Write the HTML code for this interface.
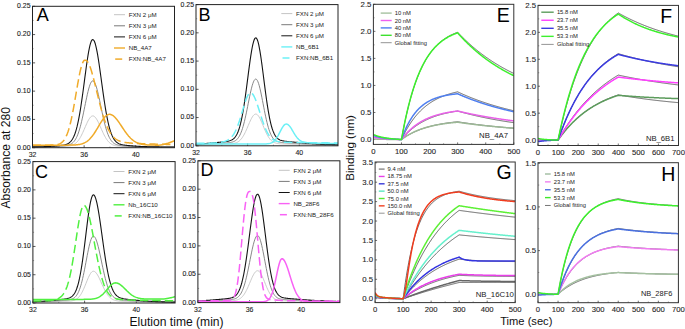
<!DOCTYPE html>
<html><head><meta charset="utf-8"><style>
html,body{margin:0;padding:0;background:#fff;width:685px;height:329px;overflow:hidden}
svg{display:block;font-family:"Liberation Sans",sans-serif}
</style></head><body>
<svg width="685" height="329" viewBox="0 0 685 329" font-family="Liberation Sans, sans-serif"><line x1="32.5" y1="147.7" x2="35.1" y2="147.7" stroke="#333" stroke-width="0.8"/>
<text x="30.5" y="149.6" font-size="6.9" text-anchor="end" fill="#222" stroke="#222" stroke-width="0.12">0.00</text>
<line x1="32.5" y1="119.42" x2="35.1" y2="119.42" stroke="#333" stroke-width="0.8"/>
<text x="30.5" y="121.32" font-size="6.9" text-anchor="end" fill="#222" stroke="#222" stroke-width="0.12">0.05</text>
<line x1="32.5" y1="91.14" x2="35.1" y2="91.14" stroke="#333" stroke-width="0.8"/>
<text x="30.5" y="93.04" font-size="6.9" text-anchor="end" fill="#222" stroke="#222" stroke-width="0.12">0.10</text>
<line x1="32.5" y1="62.86" x2="35.1" y2="62.86" stroke="#333" stroke-width="0.8"/>
<text x="30.5" y="64.76" font-size="6.9" text-anchor="end" fill="#222" stroke="#222" stroke-width="0.12">0.15</text>
<line x1="32.5" y1="34.58" x2="35.1" y2="34.58" stroke="#333" stroke-width="0.8"/>
<text x="30.5" y="36.48" font-size="6.9" text-anchor="end" fill="#222" stroke="#222" stroke-width="0.12">0.20</text>
<line x1="32.5" y1="6.3" x2="35.1" y2="6.3" stroke="#333" stroke-width="0.8"/>
<text x="30.5" y="8.2" font-size="6.9" text-anchor="end" fill="#222" stroke="#222" stroke-width="0.12">0.25</text>
<line x1="32.5" y1="133.56" x2="33.7" y2="133.56" stroke="#555" stroke-width="0.5"/>
<line x1="32.5" y1="105.28" x2="33.7" y2="105.28" stroke="#555" stroke-width="0.5"/>
<line x1="32.5" y1="77" x2="33.7" y2="77" stroke="#555" stroke-width="0.5"/>
<line x1="32.5" y1="48.72" x2="33.7" y2="48.72" stroke="#555" stroke-width="0.5"/>
<line x1="32.5" y1="20.44" x2="33.7" y2="20.44" stroke="#555" stroke-width="0.5"/>
<line x1="32.5" y1="147.7" x2="32.5" y2="145.3" stroke="#333" stroke-width="0.8"/>
<text x="32.5" y="156.7" font-size="6.9" text-anchor="middle" fill="#2a2a2a" stroke="#222" stroke-width="0.12">32</text>
<line x1="84.14" y1="147.7" x2="84.14" y2="145.3" stroke="#333" stroke-width="0.8"/>
<text x="84.14" y="156.7" font-size="6.9" text-anchor="middle" fill="#2a2a2a" stroke="#222" stroke-width="0.12">36</text>
<line x1="135.77" y1="147.7" x2="135.77" y2="145.3" stroke="#333" stroke-width="0.8"/>
<text x="135.77" y="156.7" font-size="6.9" text-anchor="middle" fill="#2a2a2a" stroke="#222" stroke-width="0.12">40</text>
<line x1="58.32" y1="147.7" x2="58.32" y2="146.5" stroke="#555" stroke-width="0.5"/>
<line x1="109.95" y1="147.7" x2="109.95" y2="146.5" stroke="#555" stroke-width="0.5"/>
<line x1="161.59" y1="147.7" x2="161.59" y2="146.5" stroke="#555" stroke-width="0.5"/>
<clipPath id="cA"><rect x="32.5" y="6.3" width="142" height="141.4"/></clipPath>
<g clip-path="url(#cA)">
<path d="M32.5,146.99 L33.15,146.99 L33.79,146.99 L34.44,146.98 L35.08,146.98 L35.73,146.98 L36.37,146.98 L37.02,146.97 L37.66,146.97 L38.31,146.96 L38.95,146.96 L39.6,146.96 L40.25,146.95 L40.89,146.95 L41.54,146.94 L42.18,146.93 L42.83,146.93 L43.47,146.92 L44.12,146.91 L44.76,146.91 L45.41,146.9 L46.05,146.89 L46.7,146.88 L47.35,146.88 L47.99,146.87 L48.64,146.86 L49.28,146.85 L49.93,146.84 L50.57,146.83 L51.22,146.81 L51.86,146.8 L52.51,146.79 L53.15,146.78 L53.8,146.76 L54.45,146.75 L55.09,146.74 L55.74,146.72 L56.38,146.71 L57.03,146.69 L57.67,146.67 L58.32,146.66 L58.96,146.64 L59.61,146.62 L60.25,146.6 L60.9,146.58 L61.55,146.56 L62.19,146.53 L62.84,146.51 L63.48,146.48 L64.13,146.45 L64.77,146.42 L65.42,146.38 L66.06,146.33 L66.71,146.28 L67.35,146.22 L68,146.15 L68.65,146.07 L69.29,145.97 L69.94,145.85 L70.58,145.71 L71.23,145.54 L71.87,145.34 L72.52,145.11 L73.16,144.84 L73.81,144.52 L74.45,144.14 L75.1,143.71 L75.75,143.21 L76.39,142.64 L77.04,142 L77.68,141.27 L78.33,140.46 L78.97,139.56 L79.62,138.58 L80.26,137.5 L80.91,136.34 L81.55,135.1 L82.2,133.79 L82.85,132.41 L83.49,130.98 L84.14,129.51 L84.78,128.02 L85.43,126.52 L86.07,125.05 L86.72,123.61 L87.36,122.24 L88.01,120.95 L88.65,119.76 L89.3,118.71 L89.95,117.8 L90.59,117.05 L91.24,116.49 L91.88,116.11 L92.53,115.93 L93.17,115.95 L93.82,116.16 L94.46,116.57 L95.11,117.15 L95.75,117.91 L96.4,118.83 L97.05,119.88 L97.69,121.06 L98.34,122.34 L98.98,123.7 L99.63,125.11 L100.27,126.57 L100.92,128.04 L101.56,129.5 L102.21,130.95 L102.85,132.36 L103.5,133.72 L104.15,135.02 L104.79,136.24 L105.44,137.39 L106.08,138.45 L106.73,139.43 L107.37,140.32 L108.02,141.13 L108.66,141.86 L109.31,142.5 L109.95,143.07 L110.6,143.57 L111.25,144.01 L111.89,144.39 L112.54,144.72 L113.18,144.99 L113.83,145.23 L114.47,145.43 L115.12,145.6 L115.76,145.75 L116.41,145.87 L117.05,145.97 L117.7,146.06 L118.35,146.13 L118.99,146.19 L119.64,146.24 L120.28,146.29 L120.93,146.33 L121.57,146.36 L122.22,146.4 L122.86,146.42 L123.51,146.45 L124.15,146.47 L124.8,146.49 L125.45,146.52 L126.09,146.54 L126.74,146.55 L127.38,146.57 L128.03,146.59 L128.67,146.61 L129.32,146.62 L129.96,146.64 L130.61,146.66 L131.25,146.67 L131.9,146.69 L132.55,146.7 L133.19,146.71 L133.84,146.73 L134.48,146.74 L135.13,146.75 L135.77,146.77 L136.42,146.78 L137.06,146.79 L137.71,146.8 L138.35,146.81 L139,146.82 L139.65,146.83 L140.29,146.84 L140.94,146.85 L141.58,146.86 L142.23,146.87 L142.87,146.88 L143.52,146.88 L144.16,146.89 L144.81,146.9 L145.45,146.91 L146.1,146.91 L146.75,146.92 L147.39,146.92 L148.04,146.93 L148.68,146.94 L149.33,146.94 L149.97,146.95 L150.62,146.95 L151.26,146.96 L151.91,146.96 L152.55,146.96 L153.2,146.97 L153.85,146.97 L154.49,146.97 L155.14,146.98 L155.78,146.98 L156.43,146.98 L157.07,146.99 L157.72,146.99 L158.36,146.99 L159.01,146.99 L159.65,146.99 L160.3,147 L160.95,147 L161.59,147 L162.24,147 L162.88,147 L163.53,147 L164.17,147.01 L164.82,147.01 L165.46,147.01 L166.11,147.01 L166.75,147.01 L167.4,147.01 L168.05,147.01 L168.69,147.01 L169.34,147.01 L169.98,147.01 L170.63,147.01 L171.27,147.01 L171.92,147.02 L172.56,147.02 L173.21,147.02 L173.85,147.02 L174.5,147.02" fill="none" stroke="#c4c4c4" stroke-width="0.9"/>
<path d="M32.5,146.96 L33.15,146.96 L33.79,146.95 L34.44,146.94 L35.08,146.94 L35.73,146.93 L36.37,146.92 L37.02,146.92 L37.66,146.91 L38.31,146.9 L38.95,146.89 L39.6,146.88 L40.25,146.87 L40.89,146.86 L41.54,146.85 L42.18,146.84 L42.83,146.82 L43.47,146.81 L44.12,146.79 L44.76,146.78 L45.41,146.76 L46.05,146.75 L46.7,146.73 L47.35,146.71 L47.99,146.69 L48.64,146.67 L49.28,146.65 L49.93,146.63 L50.57,146.61 L51.22,146.58 L51.86,146.56 L52.51,146.53 L53.15,146.5 L53.8,146.47 L54.45,146.45 L55.09,146.42 L55.74,146.38 L56.38,146.35 L57.03,146.32 L57.67,146.28 L58.32,146.25 L58.96,146.21 L59.61,146.17 L60.25,146.13 L60.9,146.08 L61.55,146.04 L62.19,145.99 L62.84,145.93 L63.48,145.87 L64.13,145.81 L64.77,145.73 L65.42,145.65 L66.06,145.56 L66.71,145.45 L67.35,145.32 L68,145.17 L68.65,144.99 L69.29,144.78 L69.94,144.53 L70.58,144.23 L71.23,143.87 L71.87,143.45 L72.52,142.96 L73.16,142.37 L73.81,141.69 L74.45,140.89 L75.1,139.97 L75.75,138.91 L76.39,137.7 L77.04,136.33 L77.68,134.79 L78.33,133.06 L78.97,131.15 L79.62,129.06 L80.26,126.77 L80.91,124.3 L81.55,121.66 L82.2,118.87 L82.85,115.93 L83.49,112.89 L84.14,109.76 L84.78,106.59 L85.43,103.42 L86.07,100.28 L86.72,97.22 L87.36,94.3 L88.01,91.56 L88.65,89.04 L89.3,86.79 L89.95,84.86 L90.59,83.27 L91.24,82.07 L91.88,81.26 L92.53,80.88 L93.17,80.92 L93.82,81.38 L94.46,82.24 L95.11,83.48 L95.75,85.1 L96.4,87.04 L97.05,89.29 L97.69,91.79 L98.34,94.51 L98.98,97.4 L99.63,100.42 L100.27,103.51 L100.92,106.64 L101.56,109.76 L102.21,112.84 L102.85,115.83 L103.5,118.73 L104.15,121.48 L104.79,124.09 L105.44,126.53 L106.08,128.79 L106.73,130.88 L107.37,132.78 L108.02,134.49 L108.66,136.04 L109.31,137.41 L109.95,138.62 L110.6,139.69 L111.25,140.62 L111.89,141.42 L112.54,142.12 L113.18,142.71 L113.83,143.22 L114.47,143.65 L115.12,144.01 L115.76,144.31 L116.41,144.57 L117.05,144.79 L117.7,144.97 L118.35,145.13 L118.99,145.26 L119.64,145.37 L120.28,145.47 L120.93,145.55 L121.57,145.62 L122.22,145.69 L122.86,145.75 L123.51,145.8 L124.15,145.85 L124.8,145.9 L125.45,145.95 L126.09,145.99 L126.74,146.03 L127.38,146.07 L128.03,146.11 L128.67,146.14 L129.32,146.18 L129.96,146.21 L130.61,146.24 L131.25,146.28 L131.9,146.31 L132.55,146.34 L133.19,146.37 L133.84,146.4 L134.48,146.43 L135.13,146.45 L135.77,146.48 L136.42,146.5 L137.06,146.53 L137.71,146.55 L138.35,146.58 L139,146.6 L139.65,146.62 L140.29,146.64 L140.94,146.66 L141.58,146.68 L142.23,146.7 L142.87,146.71 L143.52,146.73 L144.16,146.75 L144.81,146.76 L145.45,146.78 L146.1,146.79 L146.75,146.8 L147.39,146.82 L148.04,146.83 L148.68,146.84 L149.33,146.85 L149.97,146.86 L150.62,146.87 L151.26,146.88 L151.91,146.89 L152.55,146.9 L153.2,146.91 L153.85,146.91 L154.49,146.92 L155.14,146.93 L155.78,146.93 L156.43,146.94 L157.07,146.94 L157.72,146.95 L158.36,146.96 L159.01,146.96 L159.65,146.96 L160.3,146.97 L160.95,146.97 L161.59,146.98 L162.24,146.98 L162.88,146.98 L163.53,146.99 L164.17,146.99 L164.82,146.99 L165.46,146.99 L166.11,147 L166.75,147 L167.4,147 L168.05,147 L168.69,147 L169.34,147 L169.98,147.01 L170.63,147.01 L171.27,147.01 L171.92,147.01 L172.56,147.01 L173.21,147.01 L173.85,147.01 L174.5,147.01" fill="none" stroke="#7a7a7a" stroke-width="0.9"/>
<path d="M32.5,146.92 L33.15,146.91 L33.79,146.91 L34.44,146.9 L35.08,146.89 L35.73,146.87 L36.37,146.86 L37.02,146.85 L37.66,146.84 L38.31,146.82 L38.95,146.81 L39.6,146.79 L40.25,146.78 L40.89,146.76 L41.54,146.74 L42.18,146.72 L42.83,146.7 L43.47,146.68 L44.12,146.65 L44.76,146.63 L45.41,146.6 L46.05,146.58 L46.7,146.55 L47.35,146.52 L47.99,146.49 L48.64,146.45 L49.28,146.42 L49.93,146.38 L50.57,146.35 L51.22,146.31 L51.86,146.27 L52.51,146.22 L53.15,146.18 L53.8,146.13 L54.45,146.08 L55.09,146.03 L55.74,145.98 L56.38,145.93 L57.03,145.87 L57.67,145.81 L58.32,145.75 L58.96,145.68 L59.61,145.62 L60.25,145.54 L60.9,145.46 L61.55,145.37 L62.19,145.28 L62.84,145.17 L63.48,145.06 L64.13,144.92 L64.77,144.77 L65.42,144.6 L66.06,144.39 L66.71,144.16 L67.35,143.88 L68,143.56 L68.65,143.17 L69.29,142.72 L69.94,142.19 L70.58,141.56 L71.23,140.83 L71.87,139.98 L72.52,138.98 L73.16,137.83 L73.81,136.5 L74.45,134.99 L75.1,133.26 L75.75,131.3 L76.39,129.1 L77.04,126.65 L77.68,123.93 L78.33,120.93 L78.97,117.66 L79.62,114.12 L80.26,110.31 L80.91,106.25 L81.55,101.95 L82.2,97.45 L82.85,92.78 L83.49,87.98 L84.14,83.1 L84.78,78.19 L85.43,73.32 L86.07,68.53 L86.72,63.91 L87.36,59.51 L88.01,55.4 L88.65,51.65 L89.3,48.32 L89.95,45.46 L90.59,43.12 L91.24,41.35 L91.88,40.17 L92.53,39.61 L93.17,39.66 L93.82,40.3 L94.46,41.51 L95.11,43.27 L95.75,45.56 L96.4,48.33 L97.05,51.53 L97.69,55.13 L98.34,59.07 L98.98,63.28 L99.63,67.71 L100.27,72.3 L100.92,76.99 L101.56,81.72 L102.21,86.44 L102.85,91.1 L103.5,95.65 L104.15,100.06 L104.79,104.29 L105.44,108.31 L106.08,112.11 L106.73,115.66 L107.37,118.96 L108.02,122.01 L108.66,124.8 L109.31,127.33 L109.95,129.62 L110.6,131.68 L111.25,133.51 L111.89,135.13 L112.54,136.56 L113.18,137.82 L113.83,138.91 L114.47,139.86 L115.12,140.68 L115.76,141.38 L116.41,141.99 L117.05,142.5 L117.7,142.95 L118.35,143.32 L118.99,143.64 L119.64,143.92 L120.28,144.15 L120.93,144.35 L121.57,144.53 L122.22,144.68 L122.86,144.82 L123.51,144.93 L124.15,145.04 L124.8,145.14 L125.45,145.22 L126.09,145.3 L126.74,145.38 L127.38,145.45 L128.03,145.52 L128.67,145.58 L129.32,145.64 L129.96,145.7 L130.61,145.76 L131.25,145.81 L131.9,145.86 L132.55,145.91 L133.19,145.96 L133.84,146.01 L134.48,146.05 L135.13,146.1 L135.77,146.14 L136.42,146.18 L137.06,146.22 L137.71,146.26 L138.35,146.3 L139,146.33 L139.65,146.37 L140.29,146.4 L140.94,146.43 L141.58,146.46 L142.23,146.49 L142.87,146.52 L143.52,146.55 L144.16,146.57 L144.81,146.6 L145.45,146.62 L146.1,146.65 L146.75,146.67 L147.39,146.69 L148.04,146.71 L148.68,146.73 L149.33,146.74 L149.97,146.76 L150.62,146.78 L151.26,146.79 L151.91,146.81 L152.55,146.82 L153.2,146.83 L153.85,146.85 L154.49,146.86 L155.14,146.87 L155.78,146.88 L156.43,146.89 L157.07,146.9 L157.72,146.91 L158.36,146.91 L159.01,146.92 L159.65,146.93 L160.3,146.94 L160.95,146.94 L161.59,146.95 L162.24,146.95 L162.88,146.96 L163.53,146.96 L164.17,146.97 L164.82,146.97 L165.46,146.98 L166.11,146.98 L166.75,146.98 L167.4,146.99 L168.05,146.99 L168.69,146.99 L169.34,146.99 L169.98,147 L170.63,147 L171.27,147 L171.92,147 L172.56,147 L173.21,147 L173.85,147.01 L174.5,147.01" fill="none" stroke="#141414" stroke-width="1.1"/>
<path d="M32.5,145.15 L33.15,145.15 L33.79,145.15 L34.44,145.15 L35.08,145.15 L35.73,145.15 L36.37,145.15 L37.02,145.15 L37.66,145.15 L38.31,145.15 L38.95,145.15 L39.6,145.15 L40.25,145.15 L40.89,145.15 L41.54,145.15 L42.18,145.15 L42.83,145.15 L43.47,145.15 L44.12,145.15 L44.76,145.15 L45.41,145.15 L46.05,145.15 L46.7,145.15 L47.35,145.15 L47.99,145.15 L48.64,145.15 L49.28,145.15 L49.93,145.15 L50.57,145.15 L51.22,145.15 L51.86,145.15 L52.51,145.15 L53.15,145.15 L53.8,145.15 L54.45,145.15 L55.09,145.15 L55.74,145.15 L56.38,145.15 L57.03,145.15 L57.67,145.15 L58.32,145.15 L58.96,145.15 L59.61,145.15 L60.25,145.15 L60.9,145.15 L61.55,145.15 L62.19,145.15 L62.84,145.15 L63.48,145.15 L64.13,145.15 L64.77,145.15 L65.42,145.14 L66.06,145.14 L66.71,145.14 L67.35,145.14 L68,145.13 L68.65,145.12 L69.29,145.12 L69.94,145.11 L70.58,145.1 L71.23,145.08 L71.87,145.07 L72.52,145.05 L73.16,145.02 L73.81,145 L74.45,144.96 L75.1,144.92 L75.75,144.88 L76.39,144.82 L77.04,144.76 L77.68,144.69 L78.33,144.6 L78.97,144.5 L79.62,144.39 L80.26,144.26 L80.91,144.11 L81.55,143.93 L82.2,143.74 L82.85,143.52 L83.49,143.27 L84.14,143 L84.78,142.69 L85.43,142.34 L86.07,141.96 L86.72,141.54 L87.36,141.08 L88.01,140.58 L88.65,140.03 L89.3,139.43 L89.95,138.79 L90.59,138.1 L91.24,137.37 L91.88,136.58 L92.53,135.75 L93.17,134.88 L93.82,133.96 L94.46,133.01 L95.11,132.01 L95.75,130.99 L96.4,129.94 L97.05,128.86 L97.69,127.78 L98.34,126.68 L98.98,125.58 L99.63,124.49 L100.27,123.41 L100.92,122.35 L101.56,121.33 L102.21,120.34 L102.85,119.41 L103.5,118.53 L104.15,117.71 L104.79,116.97 L105.44,116.31 L106.08,115.74 L106.73,115.26 L107.37,114.87 L108.02,114.59 L108.66,114.41 L109.31,114.33 L109.95,114.36 L110.6,114.47 L111.25,114.66 L111.89,114.94 L112.54,115.3 L113.18,115.73 L113.83,116.24 L114.47,116.82 L115.12,117.46 L115.76,118.17 L116.41,118.93 L117.05,119.74 L117.7,120.59 L118.35,121.48 L118.99,122.4 L119.64,123.34 L120.28,124.3 L120.93,125.28 L121.57,126.26 L122.22,127.25 L122.86,128.22 L123.51,129.19 L124.15,130.15 L124.8,131.09 L125.45,132 L126.09,132.89 L126.74,133.76 L127.38,134.59 L128.03,135.38 L128.67,136.14 L129.32,136.87 L129.96,137.56 L130.61,138.21 L131.25,138.82 L131.9,139.39 L132.55,139.93 L133.19,140.43 L133.84,140.89 L134.48,141.32 L135.13,141.72 L135.77,142.08 L136.42,142.41 L137.06,142.72 L137.71,142.99 L138.35,143.24 L139,143.47 L139.65,143.67 L140.29,143.85 L140.94,144.02 L141.58,144.16 L142.23,144.29 L142.87,144.41 L143.52,144.51 L144.16,144.6 L144.81,144.67 L145.45,144.74 L146.1,144.8 L146.75,144.85 L147.39,144.9 L148.04,144.94 L148.68,144.97 L149.33,145 L149.97,145.02 L150.62,145.05 L151.26,145.06 L151.91,145.08 L152.55,145.09 L153.2,145.1 L153.85,145.11 L154.49,145.12 L155.14,145.13 L155.78,145.13 L156.43,145.13 L157.07,145.14 L157.72,145.14 L158.36,145.14 L159.01,145.15 L159.65,145.11 L160.3,145.04 L160.95,144.95 L161.59,144.85 L162.24,144.73 L162.88,144.59 L163.53,144.45 L164.17,144.29 L164.82,144.13 L165.46,143.95 L166.11,143.77 L166.75,143.58 L167.4,143.38 L168.05,143.17 L168.69,142.95 L169.34,142.73 L169.98,142.5 L170.63,142.26 L171.27,142.01 L171.92,141.76 L172.56,141.5 L173.21,141.24 L173.85,140.97 L174.5,140.69" fill="none" stroke="#f0ab2a" stroke-width="1.5"/>
<path d="M32.5,145.15 L33.15,145.15 L33.79,145.15 L34.44,145.15 L35.08,145.15 L35.73,145.15 L36.37,145.15 L37.02,145.15 L37.66,145.15 L38.31,145.15 L38.95,145.15 L39.6,145.15 L40.25,145.15 L40.89,145.15 L41.54,145.15 L42.18,145.15 L42.83,145.15 L43.47,145.15 L44.12,145.15 L44.76,145.15 L45.41,145.15 L46.05,145.15 L46.7,145.15 L47.35,145.15 L47.99,145.14 L48.64,145.14 L49.28,145.13 L49.93,145.13 L50.57,145.12 L51.22,145.1 L51.86,145.09 L52.51,145.06 L53.15,145.04 L53.8,145 L54.45,144.95 L55.09,144.9 L55.74,144.82 L56.38,144.73 L57.03,144.62 L57.67,144.47 L58.32,144.3 L58.96,144.09 L59.61,143.83 L60.25,143.52 L60.9,143.14 L61.55,142.7 L62.19,142.17 L62.84,141.55 L63.48,140.82 L64.13,139.98 L64.77,139 L65.42,137.89 L66.06,136.61 L66.71,135.17 L67.35,133.55 L68,131.74 L68.65,129.74 L69.29,127.53 L69.94,125.12 L70.58,122.5 L71.23,119.67 L71.87,116.66 L72.52,113.46 L73.16,110.09 L73.81,106.58 L74.45,102.95 L75.1,99.23 L75.75,95.45 L76.39,91.65 L77.04,87.88 L77.68,84.17 L78.33,80.58 L78.97,77.15 L79.62,73.92 L80.26,70.94 L80.91,68.25 L81.55,65.9 L82.2,63.92 L82.85,62.34 L83.49,61.19 L84.14,60.48 L84.78,60.18 L85.43,60.14 L86.07,60.34 L86.72,60.78 L87.36,61.45 L88.01,62.37 L88.65,63.51 L89.3,64.88 L89.95,66.46 L90.59,68.24 L91.24,70.3 L91.88,72.49 L92.53,74.8 L93.17,77.2 L93.82,79.68 L94.46,82.23 L95.11,84.83 L95.75,87.46 L96.4,90.12 L97.05,92.77 L97.69,95.42 L98.34,98.05 L98.98,100.63 L99.63,103.17 L100.27,105.66 L100.92,108.08 L101.56,110.42 L102.21,112.68 L102.85,114.85 L103.5,116.94 L104.15,118.92 L104.79,120.81 L105.44,122.6 L106.08,124.29 L106.73,125.87 L107.37,127.36 L108.02,128.75 L108.66,130.05 L109.31,131.25 L109.95,132.36 L110.6,133.39 L111.25,134.33 L111.89,135.2 L112.54,135.99 L113.18,136.72 L113.83,137.38 L114.47,137.97 L115.12,138.52 L115.76,139.01 L116.41,139.45 L117.05,139.85 L117.7,140.21 L118.35,140.53 L118.99,140.82 L119.64,141.08 L120.28,141.31 L120.93,141.52 L121.57,141.7 L122.22,141.87 L122.86,142.02 L123.51,142.16 L124.15,142.28 L124.8,142.39 L125.45,142.49 L126.09,142.58 L126.74,142.66 L127.38,142.73 L128.03,142.8 L128.67,142.87 L129.32,142.93 L129.96,142.98 L130.61,143.03 L131.25,143.08 L131.9,143.13 L132.55,143.17 L133.19,143.21 L133.84,143.25 L134.48,143.29 L135.13,143.32 L135.77,143.36 L136.42,143.39 L137.06,143.43 L137.71,143.46 L138.35,143.49 L139,143.52 L139.65,143.55 L140.29,143.58 L140.94,143.61 L141.58,143.64 L142.23,143.66 L142.87,143.69 L143.52,143.72 L144.16,143.74 L144.81,143.77 L145.45,143.79 L146.1,143.82 L146.75,143.84 L147.39,143.86 L148.04,143.89 L148.68,143.91 L149.33,143.93 L149.97,143.95 L150.62,143.97 L151.26,143.99 L151.91,144.01 L152.55,144.03 L153.2,144.05 L153.85,144.07 L154.49,144.09 L155.14,144.11 L155.78,144.13 L156.43,144.15 L157.07,144.17 L157.72,144.18 L158.36,144.2 L159.01,144.22 L159.65,144.23 L160.3,144.25 L160.95,144.27 L161.59,144.28 L162.24,144.3 L162.88,144.31 L163.53,144.33 L164.17,144.34 L164.82,144.36 L165.46,144.37 L166.11,144.38 L166.75,144.4 L167.4,144.41 L168.05,144.42 L168.69,144.44 L169.34,144.45 L169.98,144.46 L170.63,144.48 L171.27,144.49 L171.92,144.5 L172.56,144.51 L173.21,144.52 L173.85,144.53 L174.5,144.54" fill="none" stroke="#f0ab2a" stroke-width="1.5" stroke-dasharray="8.5,4"/>
</g>
<rect x="32.5" y="6.3" width="142" height="141.4" fill="none" stroke="#222" stroke-width="1.0"/>
<text x="36.8" y="20.6" font-size="18.0" text-anchor="start" fill="#000">A</text>
<line x1="114" y1="14.7" x2="125" y2="14.7" stroke="#c4c4c4" stroke-width="1.0"/>
<text x="128.7" y="16.9" font-size="6.2" text-anchor="start" fill="#222">FXN 2 μM</text>
<line x1="114" y1="25.8" x2="125" y2="25.8" stroke="#7a7a7a" stroke-width="1.0"/>
<text x="128.7" y="28" font-size="6.2" text-anchor="start" fill="#222">FXN 3 μM</text>
<line x1="114" y1="36.9" x2="125" y2="36.9" stroke="#141414" stroke-width="1.0"/>
<text x="128.7" y="39.1" font-size="6.2" text-anchor="start" fill="#222">FXN 6 μM</text>
<line x1="114" y1="48" x2="125" y2="48" stroke="#f0ab2a" stroke-width="1.4"/>
<text x="128.7" y="50.2" font-size="6.2" text-anchor="start" fill="#222">NB_4A7</text>
<line x1="115.2" y1="59.1" x2="122.2" y2="59.1" stroke="#f0ab2a" stroke-width="1.5"/>
<text x="128.7" y="61.3" font-size="6.2" text-anchor="start" fill="#222">FXN:NB_4A7</text>
<line x1="196" y1="145.8" x2="198.6" y2="145.8" stroke="#333" stroke-width="0.8"/>
<text x="194" y="147.7" font-size="6.9" text-anchor="end" fill="#222" stroke="#222" stroke-width="0.12">0.00</text>
<line x1="196" y1="117.56" x2="198.6" y2="117.56" stroke="#333" stroke-width="0.8"/>
<text x="194" y="119.46" font-size="6.9" text-anchor="end" fill="#222" stroke="#222" stroke-width="0.12">0.05</text>
<line x1="196" y1="89.32" x2="198.6" y2="89.32" stroke="#333" stroke-width="0.8"/>
<text x="194" y="91.22" font-size="6.9" text-anchor="end" fill="#222" stroke="#222" stroke-width="0.12">0.10</text>
<line x1="196" y1="61.08" x2="198.6" y2="61.08" stroke="#333" stroke-width="0.8"/>
<text x="194" y="62.98" font-size="6.9" text-anchor="end" fill="#222" stroke="#222" stroke-width="0.12">0.15</text>
<line x1="196" y1="32.84" x2="198.6" y2="32.84" stroke="#333" stroke-width="0.8"/>
<text x="194" y="34.74" font-size="6.9" text-anchor="end" fill="#222" stroke="#222" stroke-width="0.12">0.20</text>
<line x1="196" y1="4.6" x2="198.6" y2="4.6" stroke="#333" stroke-width="0.8"/>
<text x="194" y="6.5" font-size="6.9" text-anchor="end" fill="#222" stroke="#222" stroke-width="0.12">0.25</text>
<line x1="196" y1="131.68" x2="197.2" y2="131.68" stroke="#555" stroke-width="0.5"/>
<line x1="196" y1="103.44" x2="197.2" y2="103.44" stroke="#555" stroke-width="0.5"/>
<line x1="196" y1="75.2" x2="197.2" y2="75.2" stroke="#555" stroke-width="0.5"/>
<line x1="196" y1="46.96" x2="197.2" y2="46.96" stroke="#555" stroke-width="0.5"/>
<line x1="196" y1="18.72" x2="197.2" y2="18.72" stroke="#555" stroke-width="0.5"/>
<line x1="196" y1="145.8" x2="196" y2="143.4" stroke="#333" stroke-width="0.8"/>
<text x="196" y="154.8" font-size="6.9" text-anchor="middle" fill="#2a2a2a" stroke="#222" stroke-width="0.12">32</text>
<line x1="247.64" y1="145.8" x2="247.64" y2="143.4" stroke="#333" stroke-width="0.8"/>
<text x="247.64" y="154.8" font-size="6.9" text-anchor="middle" fill="#2a2a2a" stroke="#222" stroke-width="0.12">36</text>
<line x1="299.27" y1="145.8" x2="299.27" y2="143.4" stroke="#333" stroke-width="0.8"/>
<text x="299.27" y="154.8" font-size="6.9" text-anchor="middle" fill="#2a2a2a" stroke="#222" stroke-width="0.12">40</text>
<line x1="221.82" y1="145.8" x2="221.82" y2="144.6" stroke="#555" stroke-width="0.5"/>
<line x1="273.45" y1="145.8" x2="273.45" y2="144.6" stroke="#555" stroke-width="0.5"/>
<line x1="325.09" y1="145.8" x2="325.09" y2="144.6" stroke="#555" stroke-width="0.5"/>
<clipPath id="cB"><rect x="196" y="4.6" width="142" height="141.2"/></clipPath>
<g clip-path="url(#cB)">
<path d="M196,144.84 L196.65,144.83 L197.29,144.82 L197.94,144.81 L198.58,144.8 L199.23,144.79 L199.87,144.78 L200.52,144.76 L201.16,144.75 L201.81,144.74 L202.45,144.73 L203.1,144.71 L203.75,144.7 L204.39,144.68 L205.04,144.67 L205.68,144.66 L206.33,144.64 L206.97,144.63 L207.62,144.61 L208.26,144.6 L208.91,144.58 L209.55,144.57 L210.2,144.55 L210.85,144.53 L211.49,144.52 L212.14,144.5 L212.78,144.48 L213.43,144.47 L214.07,144.45 L214.72,144.43 L215.36,144.41 L216.01,144.4 L216.65,144.38 L217.3,144.36 L217.95,144.34 L218.59,144.32 L219.24,144.3 L219.88,144.28 L220.53,144.27 L221.17,144.25 L221.82,144.23 L222.46,144.21 L223.11,144.19 L223.75,144.17 L224.4,144.15 L225.05,144.13 L225.69,144.1 L226.34,144.08 L226.98,144.06 L227.63,144.03 L228.27,144 L228.92,143.97 L229.56,143.93 L230.21,143.88 L230.85,143.83 L231.5,143.77 L232.15,143.7 L232.79,143.61 L233.44,143.51 L234.08,143.38 L234.73,143.23 L235.37,143.04 L236.02,142.83 L236.66,142.57 L237.31,142.26 L237.95,141.9 L238.6,141.47 L239.25,140.98 L239.89,140.42 L240.54,139.77 L241.18,139.04 L241.83,138.22 L242.47,137.31 L243.12,136.3 L243.76,135.2 L244.41,134.01 L245.05,132.73 L245.7,131.37 L246.35,129.95 L246.99,128.48 L247.64,126.97 L248.28,125.45 L248.93,123.92 L249.57,122.43 L250.22,120.99 L250.86,119.63 L251.51,118.36 L252.15,117.22 L252.8,116.23 L253.45,115.41 L254.09,114.77 L254.74,114.33 L255.38,114.1 L256.03,114.08 L256.67,114.28 L257.32,114.71 L257.96,115.35 L258.61,116.19 L259.25,117.21 L259.9,118.38 L260.55,119.69 L261.19,121.11 L261.84,122.61 L262.48,124.16 L263.13,125.73 L263.77,127.3 L264.42,128.86 L265.06,130.36 L265.71,131.81 L266.35,133.18 L267,134.47 L267.65,135.66 L268.29,136.76 L268.94,137.75 L269.58,138.64 L270.23,139.44 L270.87,140.14 L271.52,140.75 L272.16,141.28 L272.81,141.73 L273.45,142.12 L274.1,142.45 L274.75,142.73 L275.39,142.96 L276.04,143.15 L276.68,143.3 L277.33,143.43 L277.97,143.54 L278.62,143.63 L279.26,143.7 L279.91,143.76 L280.55,143.81 L281.2,143.85 L281.85,143.88 L282.49,143.91 L283.14,143.94 L283.78,143.96 L284.43,143.99 L285.07,144.01 L285.72,144.03 L286.36,144.05 L287.01,144.06 L287.65,144.08 L288.3,144.1 L288.95,144.12 L289.59,144.13 L290.24,144.15 L290.88,144.17 L291.53,144.19 L292.17,144.2 L292.82,144.22 L293.46,144.24 L294.11,144.26 L294.75,144.27 L295.4,144.29 L296.05,144.31 L296.69,144.32 L297.34,144.34 L297.98,144.36 L298.63,144.37 L299.27,144.39 L299.92,144.41 L300.56,144.42 L301.21,144.44 L301.85,144.45 L302.5,144.47 L303.15,144.48 L303.79,144.5 L304.44,144.52 L305.08,144.53 L305.73,144.55 L306.37,144.56 L307.02,144.57 L307.66,144.59 L308.31,144.6 L308.95,144.62 L309.6,144.63 L310.25,144.64 L310.89,144.66 L311.54,144.67 L312.18,144.68 L312.83,144.7 L313.47,144.71 L314.12,144.72 L314.76,144.73 L315.41,144.74 L316.05,144.75 L316.7,144.77 L317.35,144.78 L317.99,144.79 L318.64,144.8 L319.28,144.81 L319.93,144.82 L320.57,144.83 L321.22,144.84 L321.86,144.85 L322.51,144.86 L323.15,144.87 L323.8,144.87 L324.45,144.88 L325.09,144.89 L325.74,144.9 L326.38,144.91 L327.03,144.92 L327.67,144.92 L328.32,144.93 L328.96,144.94 L329.61,144.94 L330.25,144.95 L330.9,144.96 L331.55,144.96 L332.19,144.97 L332.84,144.98 L333.48,144.98 L334.13,144.99 L334.77,144.99 L335.42,145 L336.06,145 L336.71,145.01 L337.35,145.01 L338,145.02" fill="none" stroke="#c4c4c4" stroke-width="0.9"/>
<path d="M196,144.53 L196.65,144.51 L197.29,144.48 L197.94,144.46 L198.58,144.43 L199.23,144.41 L199.87,144.38 L200.52,144.36 L201.16,144.33 L201.81,144.31 L202.45,144.28 L203.1,144.25 L203.75,144.22 L204.39,144.19 L205.04,144.16 L205.68,144.13 L206.33,144.1 L206.97,144.07 L207.62,144.04 L208.26,144 L208.91,143.97 L209.55,143.94 L210.2,143.9 L210.85,143.87 L211.49,143.83 L212.14,143.8 L212.78,143.76 L213.43,143.73 L214.07,143.69 L214.72,143.65 L215.36,143.61 L216.01,143.58 L216.65,143.54 L217.3,143.5 L217.95,143.46 L218.59,143.42 L219.24,143.38 L219.88,143.34 L220.53,143.3 L221.17,143.26 L221.82,143.22 L222.46,143.18 L223.11,143.14 L223.75,143.09 L224.4,143.05 L225.05,143 L225.69,142.96 L226.34,142.91 L226.98,142.85 L227.63,142.8 L228.27,142.73 L228.92,142.66 L229.56,142.58 L230.21,142.49 L230.85,142.38 L231.5,142.25 L232.15,142.09 L232.79,141.91 L233.44,141.68 L234.08,141.42 L234.73,141.09 L235.37,140.7 L236.02,140.24 L236.66,139.69 L237.31,139.03 L237.95,138.26 L238.6,137.36 L239.25,136.32 L239.89,135.12 L240.54,133.74 L241.18,132.19 L241.83,130.44 L242.47,128.5 L243.12,126.35 L243.76,124.01 L244.41,121.47 L245.05,118.76 L245.7,115.87 L246.35,112.85 L246.99,109.72 L247.64,106.51 L248.28,103.26 L248.93,100.03 L249.57,96.85 L250.22,93.79 L250.86,90.88 L251.51,88.2 L252.15,85.77 L252.8,83.67 L253.45,81.92 L254.09,80.56 L254.74,79.62 L255.38,79.12 L256.03,79.08 L256.67,79.51 L257.32,80.42 L257.96,81.79 L258.61,83.57 L259.25,85.74 L259.9,88.24 L260.55,91.03 L261.19,94.04 L261.84,97.23 L262.48,100.52 L263.13,103.87 L263.77,107.22 L264.42,110.52 L265.06,113.73 L265.71,116.81 L266.35,119.73 L267,122.46 L267.65,125 L268.29,127.33 L268.94,129.44 L269.58,131.34 L270.23,133.03 L270.87,134.52 L271.52,135.82 L272.16,136.95 L272.81,137.91 L273.45,138.74 L274.1,139.44 L274.75,140.02 L275.39,140.51 L276.04,140.92 L276.68,141.25 L277.33,141.53 L277.97,141.75 L278.62,141.94 L279.26,142.09 L279.91,142.22 L280.55,142.32 L281.2,142.41 L281.85,142.48 L282.49,142.55 L283.14,142.61 L283.78,142.66 L284.43,142.71 L285.07,142.75 L285.72,142.79 L286.36,142.83 L287.01,142.87 L287.65,142.91 L288.3,142.95 L288.95,142.98 L289.59,143.02 L290.24,143.06 L290.88,143.1 L291.53,143.13 L292.17,143.17 L292.82,143.21 L293.46,143.24 L294.11,143.28 L294.75,143.31 L295.4,143.35 L296.05,143.39 L296.69,143.42 L297.34,143.46 L297.98,143.49 L298.63,143.53 L299.27,143.56 L299.92,143.6 L300.56,143.63 L301.21,143.67 L301.85,143.7 L302.5,143.73 L303.15,143.77 L303.79,143.8 L304.44,143.83 L305.08,143.86 L305.73,143.89 L306.37,143.93 L307.02,143.96 L307.66,143.99 L308.31,144.02 L308.95,144.05 L309.6,144.08 L310.25,144.1 L310.89,144.13 L311.54,144.16 L312.18,144.19 L312.83,144.21 L313.47,144.24 L314.12,144.27 L314.76,144.29 L315.41,144.32 L316.05,144.34 L316.7,144.36 L317.35,144.39 L317.99,144.41 L318.64,144.43 L319.28,144.46 L319.93,144.48 L320.57,144.5 L321.22,144.52 L321.86,144.54 L322.51,144.56 L323.15,144.58 L323.8,144.6 L324.45,144.61 L325.09,144.63 L325.74,144.65 L326.38,144.67 L327.03,144.68 L327.67,144.7 L328.32,144.71 L328.96,144.73 L329.61,144.74 L330.25,144.76 L330.9,144.77 L331.55,144.78 L332.19,144.8 L332.84,144.81 L333.48,144.82 L334.13,144.83 L334.77,144.84 L335.42,144.86 L336.06,144.87 L336.71,144.88 L337.35,144.89 L338,144.9" fill="none" stroke="#7a7a7a" stroke-width="0.9"/>
<path d="M196,144.16 L196.65,144.12 L197.29,144.08 L197.94,144.05 L198.58,144.01 L199.23,143.97 L199.87,143.92 L200.52,143.88 L201.16,143.84 L201.81,143.8 L202.45,143.75 L203.1,143.71 L203.75,143.66 L204.39,143.61 L205.04,143.56 L205.68,143.51 L206.33,143.46 L206.97,143.41 L207.62,143.36 L208.26,143.31 L208.91,143.25 L209.55,143.2 L210.2,143.14 L210.85,143.09 L211.49,143.03 L212.14,142.97 L212.78,142.91 L213.43,142.85 L214.07,142.79 L214.72,142.73 L215.36,142.67 L216.01,142.61 L216.65,142.55 L217.3,142.48 L217.95,142.42 L218.59,142.36 L219.24,142.29 L219.88,142.23 L220.53,142.16 L221.17,142.09 L221.82,142.02 L222.46,141.95 L223.11,141.88 L223.75,141.81 L224.4,141.73 L225.05,141.65 L225.69,141.56 L226.34,141.46 L226.98,141.36 L227.63,141.24 L228.27,141.11 L228.92,140.96 L229.56,140.79 L230.21,140.58 L230.85,140.34 L231.5,140.05 L232.15,139.71 L232.79,139.31 L233.44,138.83 L234.08,138.26 L234.73,137.58 L235.37,136.78 L236.02,135.83 L236.66,134.73 L237.31,133.45 L237.95,131.97 L238.6,130.27 L239.25,128.34 L239.89,126.15 L240.54,123.68 L241.18,120.94 L241.83,117.91 L242.47,114.58 L243.12,110.96 L243.76,107.05 L244.41,102.88 L245.05,98.47 L245.7,93.84 L246.35,89.04 L246.99,84.11 L247.64,79.12 L248.28,74.11 L248.93,69.16 L249.57,64.33 L250.22,59.7 L250.86,55.34 L251.51,51.33 L252.15,47.74 L252.8,44.62 L253.45,42.03 L254.09,40.04 L254.74,38.66 L255.38,37.93 L256.03,37.86 L256.67,38.48 L257.32,39.76 L257.96,41.68 L258.61,44.21 L259.25,47.29 L259.9,50.87 L260.55,54.89 L261.19,59.26 L261.84,63.93 L262.48,68.8 L263.13,73.8 L263.77,78.87 L264.42,83.93 L265.06,88.91 L265.71,93.77 L266.35,98.45 L267,102.91 L267.65,107.12 L268.29,111.05 L268.94,114.7 L269.58,118.04 L270.23,121.08 L270.87,123.83 L271.52,126.28 L272.16,128.46 L272.81,130.38 L273.45,132.06 L274.1,133.52 L274.75,134.78 L275.39,135.85 L276.04,136.77 L276.68,137.54 L277.33,138.2 L277.97,138.75 L278.62,139.21 L279.26,139.59 L279.91,139.91 L280.55,140.17 L281.2,140.4 L281.85,140.59 L282.49,140.75 L283.14,140.88 L283.78,141 L284.43,141.11 L285.07,141.2 L285.72,141.29 L286.36,141.36 L287.01,141.44 L287.65,141.51 L288.3,141.58 L288.95,141.64 L289.59,141.7 L290.24,141.77 L290.88,141.83 L291.53,141.89 L292.17,141.95 L292.82,142.01 L293.46,142.07 L294.11,142.13 L294.75,142.19 L295.4,142.24 L296.05,142.3 L296.69,142.36 L297.34,142.42 L297.98,142.48 L298.63,142.53 L299.27,142.59 L299.92,142.65 L300.56,142.7 L301.21,142.76 L301.85,142.81 L302.5,142.87 L303.15,142.92 L303.79,142.97 L304.44,143.03 L305.08,143.08 L305.73,143.13 L306.37,143.18 L307.02,143.23 L307.66,143.28 L308.31,143.33 L308.95,143.38 L309.6,143.42 L310.25,143.47 L310.89,143.51 L311.54,143.56 L312.18,143.6 L312.83,143.65 L313.47,143.69 L314.12,143.73 L314.76,143.77 L315.41,143.81 L316.05,143.85 L316.7,143.89 L317.35,143.93 L317.99,143.97 L318.64,144 L319.28,144.04 L319.93,144.07 L320.57,144.11 L321.22,144.14 L321.86,144.17 L322.51,144.21 L323.15,144.24 L323.8,144.27 L324.45,144.3 L325.09,144.32 L325.74,144.35 L326.38,144.38 L327.03,144.41 L327.67,144.43 L328.32,144.46 L328.96,144.48 L329.61,144.51 L330.25,144.53 L330.9,144.55 L331.55,144.57 L332.19,144.59 L332.84,144.61 L333.48,144.63 L334.13,144.65 L334.77,144.67 L335.42,144.69 L336.06,144.71 L336.71,144.72 L337.35,144.74 L338,144.76" fill="none" stroke="#141414" stroke-width="1.1"/>
<path d="M196,143.99 L196.65,143.99 L197.29,143.99 L197.94,143.99 L198.58,143.99 L199.23,143.99 L199.87,143.99 L200.52,143.99 L201.16,143.99 L201.81,143.99 L202.45,143.99 L203.1,143.99 L203.75,143.99 L204.39,143.99 L205.04,143.99 L205.68,143.99 L206.33,143.99 L206.97,143.99 L207.62,143.99 L208.26,143.99 L208.91,143.99 L209.55,143.99 L210.2,143.99 L210.85,143.99 L211.49,143.99 L212.14,143.99 L212.78,143.99 L213.43,143.99 L214.07,143.99 L214.72,143.99 L215.36,143.99 L216.01,143.99 L216.65,143.99 L217.3,143.99 L217.95,143.99 L218.59,143.99 L219.24,143.99 L219.88,143.99 L220.53,143.99 L221.17,143.99 L221.82,143.99 L222.46,143.99 L223.11,143.99 L223.75,143.99 L224.4,143.99 L225.05,143.99 L225.69,143.99 L226.34,143.99 L226.98,143.99 L227.63,143.99 L228.27,143.99 L228.92,143.99 L229.56,143.99 L230.21,143.99 L230.85,143.99 L231.5,143.99 L232.15,143.99 L232.79,143.99 L233.44,143.99 L234.08,143.99 L234.73,143.99 L235.37,143.99 L236.02,143.99 L236.66,143.99 L237.31,143.99 L237.95,143.99 L238.6,143.99 L239.25,143.99 L239.89,143.99 L240.54,143.99 L241.18,143.99 L241.83,143.99 L242.47,143.99 L243.12,143.99 L243.76,143.99 L244.41,143.99 L245.05,143.99 L245.7,143.99 L246.35,143.99 L246.99,143.99 L247.64,143.99 L248.28,143.99 L248.93,143.99 L249.57,143.99 L250.22,143.99 L250.86,143.99 L251.51,143.99 L252.15,143.99 L252.8,143.99 L253.45,143.99 L254.09,143.99 L254.74,143.99 L255.38,143.99 L256.03,143.99 L256.67,143.99 L257.32,143.99 L257.96,143.99 L258.61,143.99 L259.25,143.99 L259.9,143.99 L260.55,143.99 L261.19,143.99 L261.84,143.99 L262.48,143.98 L263.13,143.98 L263.77,143.97 L264.42,143.96 L265.06,143.94 L265.71,143.92 L266.35,143.89 L267,143.84 L267.65,143.79 L268.29,143.71 L268.94,143.61 L269.58,143.48 L270.23,143.32 L270.87,143.11 L271.52,142.85 L272.16,142.52 L272.81,142.14 L273.45,141.67 L274.1,141.12 L274.75,140.47 L275.39,139.74 L276.04,138.9 L276.68,137.97 L277.33,136.94 L277.97,135.84 L278.62,134.66 L279.26,133.43 L279.91,132.18 L280.55,130.91 L281.2,129.68 L281.85,128.49 L282.49,127.39 L283.14,126.41 L283.78,125.57 L284.43,124.9 L285.07,124.42 L285.72,124.13 L286.36,124.05 L287.01,124.14 L287.65,124.4 L288.3,124.83 L288.95,125.41 L289.59,126.12 L290.24,126.95 L290.88,127.89 L291.53,128.9 L292.17,130.01 L292.82,131.14 L293.46,132.25 L294.11,133.34 L294.75,134.39 L295.4,135.38 L296.05,136.31 L296.69,137.16 L297.34,137.95 L297.98,138.65 L298.63,139.28 L299.27,139.83 L299.92,140.32 L300.56,140.74 L301.21,141.1 L301.85,141.41 L302.5,141.67 L303.15,141.89 L303.79,142.07 L304.44,142.23 L305.08,142.35 L305.73,142.46 L306.37,142.55 L307.02,142.63 L307.66,142.69 L308.31,142.75 L308.95,142.79 L309.6,142.84 L310.25,142.87 L310.89,142.91 L311.54,142.94 L312.18,142.97 L312.83,143 L313.47,143.02 L314.12,143.05 L314.76,143.07 L315.41,143.1 L316.05,143.12 L316.7,143.14 L317.35,143.16 L317.99,143.18 L318.64,143.2 L319.28,143.22 L319.93,143.24 L320.57,143.26 L321.22,143.28 L321.86,143.29 L322.51,143.31 L323.15,143.33 L323.8,143.35 L324.45,143.36 L325.09,143.38 L325.74,143.39 L326.38,143.41 L327.03,143.42 L327.67,143.44 L328.32,143.45 L328.96,143.46 L329.61,143.48 L330.25,143.49 L330.9,143.5 L331.55,143.51 L332.19,143.52 L332.84,143.54 L333.48,143.55 L334.13,143.56 L334.77,143.57 L335.42,143.58 L336.06,143.59 L336.71,143.6 L337.35,143.61 L338,143.62" fill="none" stroke="#6cf0f6" stroke-width="1.5"/>
<path d="M196,143.25 L196.65,143.25 L197.29,143.25 L197.94,143.25 L198.58,143.25 L199.23,143.25 L199.87,143.25 L200.52,143.25 L201.16,143.25 L201.81,143.24 L202.45,143.24 L203.1,143.24 L203.75,143.23 L204.39,143.23 L205.04,143.23 L205.68,143.22 L206.33,143.21 L206.97,143.21 L207.62,143.2 L208.26,143.19 L208.91,143.18 L209.55,143.16 L210.2,143.15 L210.85,143.13 L211.49,143.11 L212.14,143.09 L212.78,143.06 L213.43,143.03 L214.07,143 L214.72,142.96 L215.36,142.92 L216.01,142.88 L216.65,142.82 L217.3,142.76 L217.95,142.7 L218.59,142.62 L219.24,142.54 L219.88,142.45 L220.53,142.35 L221.17,142.24 L221.82,142.11 L222.46,141.97 L223.11,141.82 L223.75,141.64 L224.4,141.45 L225.05,141.24 L225.69,141 L226.34,140.73 L226.98,140.43 L227.63,140.1 L228.27,139.73 L228.92,139.31 L229.56,138.84 L230.21,138.31 L230.85,137.72 L231.5,137.06 L232.15,136.32 L232.79,135.5 L233.44,134.59 L234.08,133.57 L234.73,132.46 L235.37,131.23 L236.02,129.89 L236.66,128.43 L237.31,126.86 L237.95,125.17 L238.6,123.37 L239.25,121.46 L239.89,119.46 L240.54,117.39 L241.18,115.24 L241.83,113.05 L242.47,110.84 L243.12,108.64 L243.76,106.46 L244.41,104.35 L245.05,102.32 L245.7,100.42 L246.35,98.68 L246.99,97.11 L247.64,95.76 L248.28,94.64 L248.93,93.78 L249.57,93.2 L250.22,92.89 L250.86,92.88 L251.51,93.14 L252.15,93.62 L252.8,94.34 L253.45,95.26 L254.09,96.39 L254.74,97.7 L255.38,99.19 L256.03,100.82 L256.67,102.58 L257.32,104.45 L257.96,106.4 L258.61,108.41 L259.25,110.47 L259.9,112.53 L260.55,114.6 L261.19,116.66 L261.84,118.69 L262.48,120.65 L263.13,122.55 L263.77,124.36 L264.42,126.08 L265.06,127.7 L265.71,129.22 L266.35,130.63 L267,131.94 L267.65,133.13 L268.29,134.23 L268.94,135.22 L269.58,136.12 L270.23,136.92 L270.87,137.64 L271.52,138.27 L272.16,138.83 L272.81,139.33 L273.45,139.76 L274.1,140.13 L274.75,140.46 L275.39,140.74 L276.04,140.98 L276.68,141.18 L277.33,141.36 L277.97,141.51 L278.62,141.63 L279.26,141.74 L279.91,141.83 L280.55,141.91 L281.2,141.98 L281.85,142.04 L282.49,142.08 L283.14,142.13 L283.78,142.16 L284.43,142.19 L285.07,142.22 L285.72,142.25 L286.36,142.27 L287.01,142.29 L287.65,142.31 L288.3,142.33 L288.95,142.34 L289.59,142.36 L290.24,142.37 L290.88,142.39 L291.53,142.4 L292.17,142.41 L292.82,142.43 L293.46,142.44 L294.11,142.45 L294.75,142.46 L295.4,142.47 L296.05,142.49 L296.69,142.5 L297.34,142.51 L297.98,142.52 L298.63,142.53 L299.27,142.54 L299.92,142.55 L300.56,142.56 L301.21,142.57 L301.85,142.58 L302.5,142.59 L303.15,142.6 L303.79,142.61 L304.44,142.62 L305.08,142.63 L305.73,142.64 L306.37,142.64 L307.02,142.65 L307.66,142.66 L308.31,142.67 L308.95,142.68 L309.6,142.69 L310.25,142.69 L310.89,142.7 L311.54,142.71 L312.18,142.72 L312.83,142.73 L313.47,142.73 L314.12,142.74 L314.76,142.75 L315.41,142.76 L316.05,142.76 L316.7,142.77 L317.35,142.78 L317.99,142.78 L318.64,142.79 L319.28,142.8 L319.93,142.8 L320.57,142.81 L321.22,142.82 L321.86,142.82 L322.51,142.83 L323.15,142.83 L323.8,142.84 L324.45,142.85 L325.09,142.85 L325.74,142.86 L326.38,142.86 L327.03,142.87 L327.67,142.87 L328.32,142.88 L328.96,142.89 L329.61,142.89 L330.25,142.9 L330.9,142.9 L331.55,142.91 L332.19,142.91 L332.84,142.92 L333.48,142.92 L334.13,142.93 L334.77,142.93 L335.42,142.94 L336.06,142.94 L336.71,142.94 L337.35,142.95 L338,142.95" fill="none" stroke="#6cf0f6" stroke-width="1.5" stroke-dasharray="8.5,4"/>
</g>
<rect x="196" y="4.6" width="142" height="141.2" fill="none" stroke="#222" stroke-width="1.0"/>
<text x="198.6" y="20.8" font-size="18.0" text-anchor="start" fill="#000">B</text>
<line x1="281.3" y1="13.6" x2="292.3" y2="13.6" stroke="#c4c4c4" stroke-width="1.0"/>
<text x="296" y="15.8" font-size="6.2" text-anchor="start" fill="#222">FXN 2 μM</text>
<line x1="281.3" y1="24.7" x2="292.3" y2="24.7" stroke="#7a7a7a" stroke-width="1.0"/>
<text x="296" y="26.9" font-size="6.2" text-anchor="start" fill="#222">FXN 3 μM</text>
<line x1="281.3" y1="35.8" x2="292.3" y2="35.8" stroke="#141414" stroke-width="1.0"/>
<text x="296" y="38" font-size="6.2" text-anchor="start" fill="#222">FXN 6 μM</text>
<line x1="281.3" y1="46.9" x2="292.3" y2="46.9" stroke="#6cf0f6" stroke-width="1.4"/>
<text x="296" y="49.1" font-size="6.2" text-anchor="start" fill="#222">NB_6B1</text>
<line x1="282.5" y1="58" x2="289.5" y2="58" stroke="#6cf0f6" stroke-width="1.5"/>
<text x="296" y="60.2" font-size="6.2" text-anchor="start" fill="#222">FXN:NB_6B1</text>
<line x1="32.9" y1="303" x2="35.5" y2="303" stroke="#333" stroke-width="0.8"/>
<text x="30.9" y="304.9" font-size="6.9" text-anchor="end" fill="#222" stroke="#222" stroke-width="0.12">0.00</text>
<line x1="32.9" y1="274.72" x2="35.5" y2="274.72" stroke="#333" stroke-width="0.8"/>
<text x="30.9" y="276.62" font-size="6.9" text-anchor="end" fill="#222" stroke="#222" stroke-width="0.12">0.05</text>
<line x1="32.9" y1="246.44" x2="35.5" y2="246.44" stroke="#333" stroke-width="0.8"/>
<text x="30.9" y="248.34" font-size="6.9" text-anchor="end" fill="#222" stroke="#222" stroke-width="0.12">0.10</text>
<line x1="32.9" y1="218.16" x2="35.5" y2="218.16" stroke="#333" stroke-width="0.8"/>
<text x="30.9" y="220.06" font-size="6.9" text-anchor="end" fill="#222" stroke="#222" stroke-width="0.12">0.15</text>
<line x1="32.9" y1="189.88" x2="35.5" y2="189.88" stroke="#333" stroke-width="0.8"/>
<text x="30.9" y="191.78" font-size="6.9" text-anchor="end" fill="#222" stroke="#222" stroke-width="0.12">0.20</text>
<line x1="32.9" y1="161.6" x2="35.5" y2="161.6" stroke="#333" stroke-width="0.8"/>
<text x="30.9" y="163.5" font-size="6.9" text-anchor="end" fill="#222" stroke="#222" stroke-width="0.12">0.25</text>
<line x1="32.9" y1="288.86" x2="34.1" y2="288.86" stroke="#555" stroke-width="0.5"/>
<line x1="32.9" y1="260.58" x2="34.1" y2="260.58" stroke="#555" stroke-width="0.5"/>
<line x1="32.9" y1="232.3" x2="34.1" y2="232.3" stroke="#555" stroke-width="0.5"/>
<line x1="32.9" y1="204.02" x2="34.1" y2="204.02" stroke="#555" stroke-width="0.5"/>
<line x1="32.9" y1="175.74" x2="34.1" y2="175.74" stroke="#555" stroke-width="0.5"/>
<line x1="32.9" y1="303" x2="32.9" y2="300.6" stroke="#333" stroke-width="0.8"/>
<text x="32.9" y="312" font-size="6.9" text-anchor="middle" fill="#2a2a2a" stroke="#222" stroke-width="0.12">32</text>
<line x1="84.61" y1="303" x2="84.61" y2="300.6" stroke="#333" stroke-width="0.8"/>
<text x="84.61" y="312" font-size="6.9" text-anchor="middle" fill="#2a2a2a" stroke="#222" stroke-width="0.12">36</text>
<line x1="136.32" y1="303" x2="136.32" y2="300.6" stroke="#333" stroke-width="0.8"/>
<text x="136.32" y="312" font-size="6.9" text-anchor="middle" fill="#2a2a2a" stroke="#222" stroke-width="0.12">40</text>
<line x1="58.75" y1="303" x2="58.75" y2="301.8" stroke="#555" stroke-width="0.5"/>
<line x1="110.46" y1="303" x2="110.46" y2="301.8" stroke="#555" stroke-width="0.5"/>
<line x1="162.17" y1="303" x2="162.17" y2="301.8" stroke="#555" stroke-width="0.5"/>
<clipPath id="cC"><rect x="32.9" y="161.6" width="142.2" height="141.4"/></clipPath>
<g clip-path="url(#cC)">
<path d="M32.9,302.16 L33.55,302.15 L34.19,302.14 L34.84,302.13 L35.49,302.13 L36.13,302.12 L36.78,302.11 L37.42,302.1 L38.07,302.09 L38.72,302.08 L39.36,302.07 L40.01,302.05 L40.66,302.04 L41.3,302.03 L41.95,302.02 L42.6,302.01 L43.24,301.99 L43.89,301.98 L44.53,301.97 L45.18,301.95 L45.83,301.94 L46.47,301.92 L47.12,301.91 L47.77,301.89 L48.41,301.88 L49.06,301.86 L49.71,301.84 L50.35,301.83 L51,301.81 L51.64,301.79 L52.29,301.77 L52.94,301.76 L53.58,301.74 L54.23,301.72 L54.88,301.7 L55.52,301.68 L56.17,301.66 L56.82,301.64 L57.46,301.62 L58.11,301.6 L58.75,301.58 L59.4,301.56 L60.05,301.54 L60.69,301.52 L61.34,301.5 L61.99,301.47 L62.63,301.45 L63.28,301.43 L63.93,301.41 L64.57,301.38 L65.22,301.35 L65.86,301.33 L66.51,301.3 L67.16,301.27 L67.8,301.23 L68.45,301.19 L69.1,301.14 L69.74,301.08 L70.39,301.02 L71.04,300.94 L71.68,300.84 L72.33,300.72 L72.97,300.58 L73.62,300.41 L74.27,300.2 L74.91,299.95 L75.56,299.65 L76.21,299.29 L76.85,298.87 L77.5,298.38 L78.15,297.8 L78.79,297.14 L79.44,296.39 L80.08,295.53 L80.73,294.57 L81.38,293.51 L82.02,292.34 L82.67,291.08 L83.32,289.72 L83.96,288.27 L84.61,286.76 L85.26,285.19 L85.9,283.58 L86.55,281.97 L87.19,280.38 L87.84,278.82 L88.49,277.34 L89.13,275.96 L89.78,274.72 L90.43,273.62 L91.07,272.71 L91.72,272.01 L92.37,271.52 L93.01,271.26 L93.66,271.23 L94.3,271.4 L94.95,271.77 L95.6,272.31 L96.24,273.03 L96.89,273.91 L97.54,274.93 L98.18,276.07 L98.83,277.32 L99.48,278.65 L100.12,280.04 L100.77,281.48 L101.41,282.93 L102.06,284.38 L102.71,285.82 L103.35,287.22 L104,288.57 L104.65,289.87 L105.29,291.09 L105.94,292.24 L106.59,293.31 L107.23,294.29 L107.88,295.18 L108.52,295.99 L109.17,296.72 L109.82,297.37 L110.46,297.95 L111.11,298.45 L111.76,298.89 L112.4,299.27 L113.05,299.6 L113.7,299.88 L114.34,300.12 L114.99,300.32 L115.63,300.49 L116.28,300.64 L116.93,300.76 L117.57,300.86 L118.22,300.95 L118.87,301.02 L119.51,301.08 L120.16,301.13 L120.81,301.18 L121.45,301.22 L122.1,301.25 L122.74,301.28 L123.39,301.31 L124.04,301.34 L124.68,301.36 L125.33,301.39 L125.98,301.41 L126.62,301.43 L127.27,301.45 L127.92,301.47 L128.56,301.49 L129.21,301.51 L129.85,301.53 L130.5,301.55 L131.15,301.57 L131.79,301.59 L132.44,301.61 L133.09,301.63 L133.73,301.64 L134.38,301.66 L135.03,301.68 L135.67,301.7 L136.32,301.71 L136.96,301.73 L137.61,301.75 L138.26,301.76 L138.9,301.78 L139.55,301.8 L140.2,301.81 L140.84,301.83 L141.49,301.84 L142.14,301.86 L142.78,301.87 L143.43,301.89 L144.07,301.9 L144.72,301.92 L145.37,301.93 L146.01,301.94 L146.66,301.96 L147.31,301.97 L147.95,301.98 L148.6,301.99 L149.25,302.01 L149.89,302.02 L150.54,302.03 L151.18,302.04 L151.83,302.05 L152.48,302.06 L153.12,302.07 L153.77,302.08 L154.42,302.09 L155.06,302.1 L155.71,302.11 L156.36,302.12 L157,302.12 L157.65,302.13 L158.29,302.14 L158.94,302.15 L159.59,302.16 L160.23,302.16 L160.88,302.17 L161.53,302.18 L162.17,302.18 L162.82,302.19 L163.47,302.19 L164.11,302.2 L164.76,302.21 L165.4,302.21 L166.05,302.22 L166.7,302.22 L167.34,302.23 L167.99,302.23 L168.64,302.24 L169.28,302.24 L169.93,302.24 L170.58,302.25 L171.22,302.25 L171.87,302.25 L172.51,302.26 L173.16,302.26 L173.81,302.26 L174.45,302.27 L175.1,302.27" fill="none" stroke="#c4c4c4" stroke-width="0.9"/>
<path d="M32.9,301.98 L33.55,301.96 L34.19,301.94 L34.84,301.92 L35.49,301.91 L36.13,301.89 L36.78,301.87 L37.42,301.84 L38.07,301.82 L38.72,301.8 L39.36,301.78 L40.01,301.75 L40.66,301.73 L41.3,301.7 L41.95,301.68 L42.6,301.65 L43.24,301.62 L43.89,301.59 L44.53,301.57 L45.18,301.54 L45.83,301.5 L46.47,301.47 L47.12,301.44 L47.77,301.41 L48.41,301.37 L49.06,301.34 L49.71,301.3 L50.35,301.27 L51,301.23 L51.64,301.2 L52.29,301.16 L52.94,301.12 L53.58,301.08 L54.23,301.04 L54.88,301 L55.52,300.96 L56.17,300.92 L56.82,300.87 L57.46,300.83 L58.11,300.79 L58.75,300.75 L59.4,300.7 L60.05,300.66 L60.69,300.61 L61.34,300.57 L61.99,300.52 L62.63,300.47 L63.28,300.42 L63.93,300.37 L64.57,300.32 L65.22,300.27 L65.86,300.21 L66.51,300.14 L67.16,300.07 L67.8,300 L68.45,299.91 L69.1,299.81 L69.74,299.69 L70.39,299.54 L71.04,299.37 L71.68,299.17 L72.33,298.92 L72.97,298.61 L73.62,298.25 L74.27,297.8 L74.91,297.27 L75.56,296.63 L76.21,295.88 L76.85,294.98 L77.5,293.93 L78.15,292.71 L78.79,291.3 L79.44,289.7 L80.08,287.88 L80.73,285.84 L81.38,283.58 L82.02,281.1 L82.67,278.4 L83.32,275.51 L83.96,272.43 L84.61,269.21 L85.26,265.87 L85.9,262.46 L86.55,259.03 L87.19,255.64 L87.84,252.33 L88.49,249.18 L89.13,246.25 L89.78,243.6 L90.43,241.28 L91.07,239.34 L91.72,237.83 L92.37,236.79 L93.01,236.24 L93.66,236.18 L94.3,236.55 L94.95,237.32 L95.6,238.48 L96.24,240.01 L96.89,241.88 L97.54,244.05 L98.18,246.48 L98.83,249.13 L99.48,251.97 L100.12,254.93 L100.77,257.98 L101.41,261.07 L102.06,264.16 L102.71,267.22 L103.35,270.2 L104,273.08 L104.65,275.83 L105.29,278.43 L105.94,280.87 L106.59,283.14 L107.23,285.23 L107.88,287.14 L108.52,288.86 L109.17,290.41 L109.82,291.79 L110.46,293.01 L111.11,294.09 L111.76,295.02 L112.4,295.83 L113.05,296.53 L113.7,297.13 L114.34,297.64 L114.99,298.07 L115.63,298.43 L116.28,298.74 L116.93,299 L117.57,299.21 L118.22,299.4 L118.87,299.55 L119.51,299.68 L120.16,299.79 L120.81,299.89 L121.45,299.97 L122.1,300.05 L122.74,300.12 L123.39,300.18 L124.04,300.23 L124.68,300.28 L125.33,300.33 L125.98,300.38 L126.62,300.43 L127.27,300.47 L127.92,300.52 L128.56,300.56 L129.21,300.6 L129.85,300.64 L130.5,300.68 L131.15,300.72 L131.79,300.76 L132.44,300.8 L133.09,300.84 L133.73,300.88 L134.38,300.92 L135.03,300.96 L135.67,300.99 L136.32,301.03 L136.96,301.07 L137.61,301.1 L138.26,301.14 L138.9,301.17 L139.55,301.21 L140.2,301.24 L140.84,301.27 L141.49,301.31 L142.14,301.34 L142.78,301.37 L143.43,301.4 L144.07,301.43 L144.72,301.46 L145.37,301.49 L146.01,301.52 L146.66,301.54 L147.31,301.57 L147.95,301.6 L148.6,301.62 L149.25,301.65 L149.89,301.67 L150.54,301.7 L151.18,301.72 L151.83,301.74 L152.48,301.77 L153.12,301.79 L153.77,301.81 L154.42,301.83 L155.06,301.85 L155.71,301.87 L156.36,301.88 L157,301.9 L157.65,301.92 L158.29,301.94 L158.94,301.95 L159.59,301.97 L160.23,301.98 L160.88,302 L161.53,302.01 L162.17,302.03 L162.82,302.04 L163.47,302.05 L164.11,302.06 L164.76,302.08 L165.4,302.09 L166.05,302.1 L166.7,302.11 L167.34,302.12 L167.99,302.13 L168.64,302.14 L169.28,302.15 L169.93,302.16 L170.58,302.16 L171.22,302.17 L171.87,302.18 L172.51,302.19 L173.16,302.19 L173.81,302.2 L174.45,302.21 L175.1,302.21" fill="none" stroke="#7a7a7a" stroke-width="0.9"/>
<path d="M32.9,301.76 L33.55,301.73 L34.19,301.71 L34.84,301.68 L35.49,301.65 L36.13,301.61 L36.78,301.58 L37.42,301.55 L38.07,301.51 L38.72,301.48 L39.36,301.44 L40.01,301.4 L40.66,301.36 L41.3,301.32 L41.95,301.28 L42.6,301.23 L43.24,301.19 L43.89,301.14 L44.53,301.09 L45.18,301.04 L45.83,300.99 L46.47,300.94 L47.12,300.89 L47.77,300.84 L48.41,300.78 L49.06,300.73 L49.71,300.67 L50.35,300.61 L51,300.55 L51.64,300.49 L52.29,300.43 L52.94,300.37 L53.58,300.3 L54.23,300.24 L54.88,300.17 L55.52,300.11 L56.17,300.04 L56.82,299.97 L57.46,299.9 L58.11,299.83 L58.75,299.76 L59.4,299.69 L60.05,299.61 L60.69,299.54 L61.34,299.46 L61.99,299.38 L62.63,299.3 L63.28,299.21 L63.93,299.13 L64.57,299.03 L65.22,298.93 L65.86,298.81 L66.51,298.69 L67.16,298.55 L67.8,298.39 L68.45,298.2 L69.1,297.98 L69.74,297.72 L70.39,297.4 L71.04,297.03 L71.68,296.59 L72.33,296.05 L72.97,295.41 L73.62,294.65 L74.27,293.74 L74.91,292.67 L75.56,291.41 L76.21,289.94 L76.85,288.24 L77.5,286.28 L78.15,284.05 L78.79,281.51 L79.44,278.67 L80.08,275.5 L80.73,272.01 L81.38,268.19 L82.02,264.06 L82.67,259.63 L83.32,254.94 L83.96,250.01 L84.61,244.9 L85.26,239.67 L85.9,234.38 L86.55,229.1 L87.19,223.92 L87.84,218.92 L88.49,214.18 L89.13,209.8 L89.78,205.85 L90.43,202.41 L91.07,199.55 L91.72,197.33 L92.37,195.8 L93.01,194.99 L93.66,194.9 L94.3,195.42 L94.95,196.51 L95.6,198.15 L96.24,200.31 L96.89,202.96 L97.54,206.06 L98.18,209.55 L98.83,213.38 L99.48,217.51 L100.12,221.85 L100.77,226.37 L101.41,230.99 L102.06,235.67 L102.71,240.34 L103.35,244.96 L104,249.49 L104.65,253.87 L105.29,258.09 L105.94,262.1 L106.59,265.89 L107.23,269.44 L107.88,272.75 L108.52,275.8 L109.17,278.59 L109.82,281.13 L110.46,283.43 L111.11,285.5 L111.76,287.34 L112.4,288.97 L113.05,290.4 L113.7,291.66 L114.34,292.76 L114.99,293.72 L115.63,294.54 L116.28,295.25 L116.93,295.85 L117.57,296.37 L118.22,296.81 L118.87,297.19 L119.51,297.51 L120.16,297.79 L120.81,298.02 L121.45,298.23 L122.1,298.4 L122.74,298.56 L123.39,298.69 L124.04,298.82 L124.68,298.93 L125.33,299.03 L125.98,299.12 L126.62,299.21 L127.27,299.29 L127.92,299.37 L128.56,299.44 L129.21,299.51 L129.85,299.58 L130.5,299.65 L131.15,299.72 L131.79,299.79 L132.44,299.85 L133.09,299.92 L133.73,299.98 L134.38,300.04 L135.03,300.1 L135.67,300.16 L136.32,300.22 L136.96,300.28 L137.61,300.34 L138.26,300.4 L138.9,300.46 L139.55,300.51 L140.2,300.57 L140.84,300.62 L141.49,300.67 L142.14,300.72 L142.78,300.78 L143.43,300.83 L144.07,300.87 L144.72,300.92 L145.37,300.97 L146.01,301.02 L146.66,301.06 L147.31,301.1 L147.95,301.15 L148.6,301.19 L149.25,301.23 L149.89,301.27 L150.54,301.31 L151.18,301.35 L151.83,301.38 L152.48,301.42 L153.12,301.45 L153.77,301.49 L154.42,301.52 L155.06,301.55 L155.71,301.58 L156.36,301.61 L157,301.64 L157.65,301.67 L158.29,301.7 L158.94,301.72 L159.59,301.75 L160.23,301.77 L160.88,301.8 L161.53,301.82 L162.17,301.84 L162.82,301.86 L163.47,301.88 L164.11,301.9 L164.76,301.92 L165.4,301.94 L166.05,301.96 L166.7,301.98 L167.34,301.99 L167.99,302.01 L168.64,302.02 L169.28,302.04 L169.93,302.05 L170.58,302.06 L171.22,302.08 L171.87,302.09 L172.51,302.1 L173.16,302.11 L173.81,302.12 L174.45,302.13 L175.1,302.14" fill="none" stroke="#141414" stroke-width="1.1"/>
<path d="M32.9,299.61 L33.55,299.6 L34.19,299.6 L34.84,299.6 L35.49,299.6 L36.13,299.59 L36.78,299.59 L37.42,299.59 L38.07,299.58 L38.72,299.58 L39.36,299.58 L40.01,299.58 L40.66,299.57 L41.3,299.57 L41.95,299.57 L42.6,299.56 L43.24,299.56 L43.89,299.56 L44.53,299.56 L45.18,299.55 L45.83,299.55 L46.47,299.55 L47.12,299.54 L47.77,299.54 L48.41,299.54 L49.06,299.54 L49.71,299.53 L50.35,299.53 L51,299.53 L51.64,299.52 L52.29,299.52 L52.94,299.52 L53.58,299.52 L54.23,299.51 L54.88,299.51 L55.52,299.51 L56.17,299.5 L56.82,299.5 L57.46,299.5 L58.11,299.5 L58.75,299.49 L59.4,299.49 L60.05,299.49 L60.69,299.48 L61.34,299.48 L61.99,299.48 L62.63,299.48 L63.28,299.47 L63.93,299.47 L64.57,299.47 L65.22,299.46 L65.86,299.46 L66.51,299.46 L67.16,299.46 L67.8,299.45 L68.45,299.45 L69.1,299.45 L69.74,299.45 L70.39,299.44 L71.04,299.44 L71.68,299.44 L72.33,299.43 L72.97,299.43 L73.62,299.43 L74.27,299.43 L74.91,299.42 L75.56,299.42 L76.21,299.42 L76.85,299.41 L77.5,299.41 L78.15,299.41 L78.79,299.4 L79.44,299.4 L80.08,299.4 L80.73,299.39 L81.38,299.39 L82.02,299.39 L82.67,299.38 L83.32,299.38 L83.96,299.37 L84.61,299.36 L85.26,299.36 L85.9,299.35 L86.55,299.34 L87.19,299.32 L87.84,299.3 L88.49,299.28 L89.13,299.26 L89.78,299.23 L90.43,299.19 L91.07,299.14 L91.72,299.09 L92.37,299.02 L93.01,298.94 L93.66,298.84 L94.3,298.72 L94.95,298.59 L95.6,298.43 L96.24,298.24 L96.89,298.02 L97.54,297.77 L98.18,297.49 L98.83,297.17 L99.48,296.8 L100.12,296.4 L100.77,295.95 L101.41,295.46 L102.06,294.92 L102.71,294.34 L103.35,293.72 L104,293.06 L104.65,292.36 L105.29,291.63 L105.94,290.88 L106.59,290.11 L107.23,289.33 L107.88,288.55 L108.52,287.79 L109.17,287.04 L109.82,286.32 L110.46,285.64 L111.11,285.02 L111.76,284.46 L112.4,283.97 L113.05,283.56 L113.7,283.24 L114.34,283.01 L114.99,282.88 L115.63,282.84 L116.28,282.89 L116.93,283.01 L117.57,283.19 L118.22,283.45 L118.87,283.76 L119.51,284.13 L120.16,284.56 L120.81,285.04 L121.45,285.56 L122.1,286.12 L122.74,286.71 L123.39,287.32 L124.04,287.96 L124.68,288.6 L125.33,289.25 L125.98,289.9 L126.62,290.55 L127.27,291.18 L127.92,291.8 L128.56,292.41 L129.21,292.98 L129.85,293.54 L130.5,294.06 L131.15,294.56 L131.79,295.02 L132.44,295.46 L133.09,295.86 L133.73,296.23 L134.38,296.57 L135.03,296.88 L135.67,297.16 L136.32,297.41 L136.96,297.64 L137.61,297.84 L138.26,298.02 L138.9,298.18 L139.55,298.32 L140.2,298.44 L140.84,298.54 L141.49,298.63 L142.14,298.71 L142.78,298.78 L143.43,298.83 L144.07,298.88 L144.72,298.92 L145.37,298.95 L146.01,298.98 L146.66,299 L147.31,299.02 L147.95,299.03 L148.6,299.04 L149.25,299.05 L149.89,299.06 L150.54,299.06 L151.18,299.07 L151.83,299.07 L152.48,299.07 L153.12,299.07 L153.77,299.07 L154.42,299.07 L155.06,299.07 L155.71,299.07 L156.36,299.06 L157,299.06 L157.65,299.06 L158.29,299.06 L158.94,299.05 L159.59,299.05 L160.23,299.05 L160.88,299.05 L161.53,299.04 L162.17,299.04 L162.82,299.01 L163.47,298.96 L164.11,298.9 L164.76,298.83 L165.4,298.74 L166.05,298.65 L166.7,298.55 L167.34,298.45 L167.99,298.33 L168.64,298.21 L169.28,298.09 L169.93,297.96 L170.58,297.82 L171.22,297.68 L171.87,297.53 L172.51,297.38 L173.16,297.22 L173.81,297.06 L174.45,296.89 L175.1,296.72" fill="none" stroke="#50f040" stroke-width="1.5"/>
<path d="M32.9,301.02 L33.55,301.02 L34.19,301.01 L34.84,301.01 L35.49,301.01 L36.13,301.01 L36.78,301.01 L37.42,301 L38.07,301 L38.72,301 L39.36,300.99 L40.01,300.98 L40.66,300.98 L41.3,300.97 L41.95,300.96 L42.6,300.94 L43.24,300.93 L43.89,300.91 L44.53,300.89 L45.18,300.87 L45.83,300.84 L46.47,300.81 L47.12,300.78 L47.77,300.74 L48.41,300.69 L49.06,300.64 L49.71,300.58 L50.35,300.51 L51,300.44 L51.64,300.35 L52.29,300.25 L52.94,300.14 L53.58,300.02 L54.23,299.88 L54.88,299.73 L55.52,299.55 L56.17,299.35 L56.82,299.12 L57.46,298.87 L58.11,298.58 L58.75,298.25 L59.4,297.87 L60.05,297.44 L60.69,296.95 L61.34,296.39 L61.99,295.75 L62.63,295.02 L63.28,294.18 L63.93,293.22 L64.57,292.13 L65.22,290.9 L65.86,289.49 L66.51,287.91 L67.16,286.14 L67.8,284.15 L68.45,281.95 L69.1,279.51 L69.74,276.84 L70.39,273.92 L71.04,270.76 L71.68,267.36 L72.33,263.74 L72.97,259.91 L73.62,255.89 L74.27,251.73 L74.91,247.44 L75.56,243.09 L76.21,238.71 L76.85,234.36 L77.5,230.1 L78.15,225.99 L78.79,222.1 L79.44,218.47 L80.08,215.19 L80.73,212.3 L81.38,209.85 L82.02,207.9 L82.67,206.48 L83.32,205.61 L83.96,205.32 L84.61,205.54 L85.26,206.11 L85.9,207.04 L86.55,208.3 L87.19,209.88 L87.84,211.77 L88.49,213.95 L89.13,216.39 L89.78,219.07 L90.43,221.96 L91.07,225.03 L91.72,228.31 L92.37,231.71 L93.01,235.18 L93.66,238.71 L94.3,242.26 L94.95,245.8 L95.6,249.31 L96.24,252.77 L96.89,256.16 L97.54,259.44 L98.18,262.62 L98.83,265.67 L99.48,268.59 L100.12,271.35 L100.77,273.97 L101.41,276.42 L102.06,278.72 L102.71,280.86 L103.35,282.84 L104,284.66 L104.65,286.33 L105.29,287.85 L105.94,289.24 L106.59,290.49 L107.23,291.62 L107.88,292.63 L108.52,293.54 L109.17,294.34 L109.82,295.06 L110.46,295.69 L111.11,296.24 L111.76,296.73 L112.4,297.15 L113.05,297.52 L113.7,297.85 L114.34,298.13 L114.99,298.37 L115.63,298.58 L116.28,298.76 L116.93,298.92 L117.57,299.05 L118.22,299.17 L118.87,299.27 L119.51,299.36 L120.16,299.44 L120.81,299.5 L121.45,299.56 L122.1,299.62 L122.74,299.66 L123.39,299.71 L124.04,299.75 L124.68,299.78 L125.33,299.81 L125.98,299.84 L126.62,299.87 L127.27,299.9 L127.92,299.92 L128.56,299.95 L129.21,299.97 L129.85,299.99 L130.5,300.01 L131.15,300.04 L131.79,300.06 L132.44,300.08 L133.09,300.09 L133.73,300.11 L134.38,300.13 L135.03,300.15 L135.67,300.17 L136.32,300.18 L136.96,300.2 L137.61,300.22 L138.26,300.23 L138.9,300.25 L139.55,300.26 L140.2,300.28 L140.84,300.29 L141.49,300.31 L142.14,300.32 L142.78,300.34 L143.43,300.35 L144.07,300.36 L144.72,300.38 L145.37,300.39 L146.01,300.4 L146.66,300.41 L147.31,300.42 L147.95,300.44 L148.6,300.45 L149.25,300.46 L149.89,300.47 L150.54,300.48 L151.18,300.49 L151.83,300.5 L152.48,300.51 L153.12,300.52 L153.77,300.53 L154.42,300.54 L155.06,300.55 L155.71,300.56 L156.36,300.57 L157,300.58 L157.65,300.59 L158.29,300.6 L158.94,300.6 L159.59,300.61 L160.23,300.62 L160.88,300.63 L161.53,300.64 L162.17,300.64 L162.82,300.65 L163.47,300.66 L164.11,300.67 L164.76,300.67 L165.4,300.68 L166.05,300.69 L166.7,300.69 L167.34,300.7 L167.99,300.71 L168.64,300.71 L169.28,300.72 L169.93,300.72 L170.58,300.73 L171.22,300.74 L171.87,300.74 L172.51,300.75 L173.16,300.75 L173.81,300.76 L174.45,300.76 L175.1,300.77" fill="none" stroke="#50f040" stroke-width="1.5" stroke-dasharray="8.5,4"/>
</g>
<rect x="32.9" y="161.6" width="142.2" height="141.4" fill="none" stroke="#222" stroke-width="1.0"/>
<text x="35.1" y="177.7" font-size="18.0" text-anchor="start" fill="#000">C</text>
<line x1="113.5" y1="171.5" x2="124.5" y2="171.5" stroke="#c4c4c4" stroke-width="1.0"/>
<text x="128.2" y="173.7" font-size="6.2" text-anchor="start" fill="#222">FXN 2 μM</text>
<line x1="113.5" y1="182.6" x2="124.5" y2="182.6" stroke="#7a7a7a" stroke-width="1.0"/>
<text x="128.2" y="184.8" font-size="6.2" text-anchor="start" fill="#222">FXN 3 μM</text>
<line x1="113.5" y1="193.7" x2="124.5" y2="193.7" stroke="#141414" stroke-width="1.0"/>
<text x="128.2" y="195.9" font-size="6.2" text-anchor="start" fill="#222">FXN 6 μM</text>
<line x1="113.5" y1="204.8" x2="124.5" y2="204.8" stroke="#50f040" stroke-width="1.4"/>
<text x="128.2" y="207" font-size="6.2" text-anchor="start" fill="#222">Nb_16C10</text>
<line x1="114.7" y1="215.9" x2="121.7" y2="215.9" stroke="#50f040" stroke-width="1.5"/>
<text x="128.2" y="218.1" font-size="6.2" text-anchor="start" fill="#222">FXN:NB_16C10</text>
<line x1="197.9" y1="302.6" x2="200.5" y2="302.6" stroke="#333" stroke-width="0.8"/>
<text x="195.9" y="304.5" font-size="6.9" text-anchor="end" fill="#222" stroke="#222" stroke-width="0.12">0.00</text>
<line x1="197.9" y1="274.24" x2="200.5" y2="274.24" stroke="#333" stroke-width="0.8"/>
<text x="195.9" y="276.14" font-size="6.9" text-anchor="end" fill="#222" stroke="#222" stroke-width="0.12">0.05</text>
<line x1="197.9" y1="245.88" x2="200.5" y2="245.88" stroke="#333" stroke-width="0.8"/>
<text x="195.9" y="247.78" font-size="6.9" text-anchor="end" fill="#222" stroke="#222" stroke-width="0.12">0.10</text>
<line x1="197.9" y1="217.52" x2="200.5" y2="217.52" stroke="#333" stroke-width="0.8"/>
<text x="195.9" y="219.42" font-size="6.9" text-anchor="end" fill="#222" stroke="#222" stroke-width="0.12">0.15</text>
<line x1="197.9" y1="189.16" x2="200.5" y2="189.16" stroke="#333" stroke-width="0.8"/>
<text x="195.9" y="191.06" font-size="6.9" text-anchor="end" fill="#222" stroke="#222" stroke-width="0.12">0.20</text>
<line x1="197.9" y1="160.8" x2="200.5" y2="160.8" stroke="#333" stroke-width="0.8"/>
<text x="195.9" y="162.7" font-size="6.9" text-anchor="end" fill="#222" stroke="#222" stroke-width="0.12">0.25</text>
<line x1="197.9" y1="288.42" x2="199.1" y2="288.42" stroke="#555" stroke-width="0.5"/>
<line x1="197.9" y1="260.06" x2="199.1" y2="260.06" stroke="#555" stroke-width="0.5"/>
<line x1="197.9" y1="231.7" x2="199.1" y2="231.7" stroke="#555" stroke-width="0.5"/>
<line x1="197.9" y1="203.34" x2="199.1" y2="203.34" stroke="#555" stroke-width="0.5"/>
<line x1="197.9" y1="174.98" x2="199.1" y2="174.98" stroke="#555" stroke-width="0.5"/>
<line x1="197.9" y1="302.6" x2="197.9" y2="300.2" stroke="#333" stroke-width="0.8"/>
<text x="197.9" y="311.6" font-size="6.9" text-anchor="middle" fill="#2a2a2a" stroke="#222" stroke-width="0.12">32</text>
<line x1="249.54" y1="302.6" x2="249.54" y2="300.2" stroke="#333" stroke-width="0.8"/>
<text x="249.54" y="311.6" font-size="6.9" text-anchor="middle" fill="#2a2a2a" stroke="#222" stroke-width="0.12">36</text>
<line x1="301.17" y1="302.6" x2="301.17" y2="300.2" stroke="#333" stroke-width="0.8"/>
<text x="301.17" y="311.6" font-size="6.9" text-anchor="middle" fill="#2a2a2a" stroke="#222" stroke-width="0.12">40</text>
<line x1="223.72" y1="302.6" x2="223.72" y2="301.4" stroke="#555" stroke-width="0.5"/>
<line x1="275.35" y1="302.6" x2="275.35" y2="301.4" stroke="#555" stroke-width="0.5"/>
<line x1="326.99" y1="302.6" x2="326.99" y2="301.4" stroke="#555" stroke-width="0.5"/>
<clipPath id="cD"><rect x="197.9" y="160.8" width="142" height="141.8"/></clipPath>
<g clip-path="url(#cD)">
<path d="M197.9,301.63 L198.55,301.62 L199.19,301.61 L199.84,301.6 L200.48,301.59 L201.13,301.58 L201.77,301.57 L202.42,301.55 L203.06,301.54 L203.71,301.53 L204.35,301.52 L205,301.51 L205.65,301.49 L206.29,301.48 L206.94,301.47 L207.58,301.46 L208.23,301.44 L208.87,301.43 L209.52,301.41 L210.16,301.4 L210.81,301.39 L211.45,301.37 L212.1,301.36 L212.75,301.34 L213.39,301.33 L214.04,301.31 L214.68,301.3 L215.33,301.28 L215.97,301.27 L216.62,301.25 L217.26,301.24 L217.91,301.22 L218.55,301.2 L219.2,301.19 L219.85,301.17 L220.49,301.16 L221.14,301.14 L221.78,301.12 L222.43,301.11 L223.07,301.09 L223.72,301.07 L224.36,301.06 L225.01,301.04 L225.65,301.02 L226.3,301 L226.95,300.98 L227.59,300.96 L228.24,300.94 L228.88,300.92 L229.53,300.89 L230.17,300.87 L230.82,300.84 L231.46,300.8 L232.11,300.76 L232.75,300.7 L233.4,300.64 L234.05,300.57 L234.69,300.48 L235.34,300.37 L235.98,300.24 L236.63,300.09 L237.27,299.9 L237.92,299.67 L238.56,299.4 L239.21,299.09 L239.85,298.71 L240.5,298.27 L241.15,297.77 L241.79,297.18 L242.44,296.52 L243.08,295.76 L243.73,294.92 L244.37,293.98 L245.02,292.94 L245.66,291.81 L246.31,290.59 L246.95,289.29 L247.6,287.91 L248.25,286.46 L248.89,284.97 L249.54,283.44 L250.18,281.9 L250.83,280.37 L251.47,278.88 L252.12,277.43 L252.76,276.08 L253.41,274.83 L254.05,273.7 L254.7,272.74 L255.35,271.94 L255.99,271.34 L256.64,270.93 L257.28,270.74 L257.93,270.77 L258.57,271.02 L259.22,271.51 L259.86,272.22 L260.51,273.12 L261.15,274.21 L261.8,275.45 L262.45,276.83 L263.09,278.3 L263.74,279.85 L264.38,281.44 L265.03,283.06 L265.67,284.66 L266.32,286.23 L266.96,287.75 L267.61,289.2 L268.25,290.57 L268.9,291.84 L269.55,293.01 L270.19,294.08 L270.84,295.05 L271.48,295.91 L272.13,296.68 L272.77,297.34 L273.42,297.92 L274.06,298.42 L274.71,298.85 L275.35,299.21 L276,299.51 L276.65,299.76 L277.29,299.97 L277.94,300.14 L278.58,300.28 L279.23,300.4 L279.87,300.49 L280.52,300.57 L281.16,300.63 L281.81,300.68 L282.45,300.72 L283.1,300.75 L283.75,300.78 L284.39,300.81 L285.04,300.83 L285.68,300.85 L286.33,300.87 L286.97,300.89 L287.62,300.91 L288.26,300.92 L288.91,300.94 L289.55,300.95 L290.2,300.97 L290.85,300.98 L291.49,301 L292.14,301.01 L292.78,301.03 L293.43,301.04 L294.07,301.06 L294.72,301.07 L295.36,301.09 L296.01,301.1 L296.65,301.12 L297.3,301.13 L297.95,301.15 L298.59,301.16 L299.24,301.18 L299.88,301.19 L300.53,301.21 L301.17,301.22 L301.82,301.24 L302.46,301.25 L303.11,301.26 L303.75,301.28 L304.4,301.29 L305.05,301.31 L305.69,301.32 L306.34,301.33 L306.98,301.35 L307.63,301.36 L308.27,301.37 L308.92,301.39 L309.56,301.4 L310.21,301.41 L310.85,301.42 L311.5,301.44 L312.15,301.45 L312.79,301.46 L313.44,301.47 L314.08,301.48 L314.73,301.5 L315.37,301.51 L316.02,301.52 L316.66,301.53 L317.31,301.54 L317.95,301.55 L318.6,301.56 L319.25,301.57 L319.89,301.58 L320.54,301.59 L321.18,301.6 L321.83,301.61 L322.47,301.62 L323.12,301.63 L323.76,301.64 L324.41,301.65 L325.05,301.66 L325.7,301.66 L326.35,301.67 L326.99,301.68 L327.64,301.69 L328.28,301.7 L328.93,301.7 L329.57,301.71 L330.22,301.72 L330.86,301.72 L331.51,301.73 L332.15,301.74 L332.8,301.74 L333.45,301.75 L334.09,301.76 L334.74,301.76 L335.38,301.77 L336.03,301.77 L336.67,301.78 L337.32,301.78 L337.96,301.79 L338.61,301.79 L339.25,301.8 L339.9,301.8" fill="none" stroke="#c4c4c4" stroke-width="0.9"/>
<path d="M197.9,301.3 L198.55,301.28 L199.19,301.26 L199.84,301.24 L200.48,301.22 L201.13,301.19 L201.77,301.17 L202.42,301.14 L203.06,301.12 L203.71,301.09 L204.35,301.07 L205,301.04 L205.65,301.02 L206.29,300.99 L206.94,300.96 L207.58,300.93 L208.23,300.9 L208.87,300.88 L209.52,300.85 L210.16,300.82 L210.81,300.79 L211.45,300.76 L212.1,300.73 L212.75,300.69 L213.39,300.66 L214.04,300.63 L214.68,300.6 L215.33,300.57 L215.97,300.53 L216.62,300.5 L217.26,300.47 L217.91,300.43 L218.55,300.4 L219.2,300.36 L219.85,300.33 L220.49,300.3 L221.14,300.26 L221.78,300.23 L222.43,300.19 L223.07,300.15 L223.72,300.12 L224.36,300.08 L225.01,300.05 L225.65,300.01 L226.3,299.97 L226.95,299.93 L227.59,299.89 L228.24,299.84 L228.88,299.79 L229.53,299.74 L230.17,299.68 L230.82,299.61 L231.46,299.54 L232.11,299.44 L232.75,299.33 L233.4,299.21 L234.05,299.05 L234.69,298.86 L235.34,298.63 L235.98,298.36 L236.63,298.02 L237.27,297.62 L237.92,297.14 L238.56,296.57 L239.21,295.89 L239.85,295.09 L240.5,294.16 L241.15,293.08 L241.79,291.84 L242.44,290.42 L243.08,288.82 L243.73,287.02 L244.37,285.02 L245.02,282.82 L245.66,280.42 L246.31,277.83 L246.95,275.05 L247.6,272.12 L248.25,269.04 L248.89,265.86 L249.54,262.62 L250.18,259.34 L250.83,256.09 L251.47,252.9 L252.12,249.83 L252.76,246.94 L253.41,244.28 L254.05,241.9 L254.7,239.84 L255.35,238.15 L255.99,236.86 L256.64,236 L257.28,235.59 L257.93,235.65 L258.57,236.2 L259.22,237.23 L259.86,238.73 L260.51,240.66 L261.15,242.97 L261.8,245.61 L262.45,248.54 L263.09,251.68 L263.74,254.97 L264.38,258.36 L265.03,261.79 L265.67,265.2 L266.32,268.54 L266.96,271.77 L267.61,274.86 L268.25,277.77 L268.9,280.48 L269.55,282.97 L270.19,285.25 L270.84,287.31 L271.48,289.14 L272.13,290.77 L272.77,292.19 L273.42,293.42 L274.06,294.48 L274.71,295.39 L275.35,296.15 L276,296.8 L276.65,297.33 L277.29,297.77 L277.94,298.14 L278.58,298.44 L279.23,298.68 L279.87,298.88 L280.52,299.04 L281.16,299.17 L281.81,299.28 L282.45,299.37 L283.1,299.44 L283.75,299.51 L284.39,299.56 L285.04,299.61 L285.68,299.65 L286.33,299.69 L286.97,299.73 L287.62,299.76 L288.26,299.8 L288.91,299.83 L289.55,299.87 L290.2,299.9 L290.85,299.93 L291.49,299.96 L292.14,299.99 L292.78,300.03 L293.43,300.06 L294.07,300.09 L294.72,300.12 L295.36,300.15 L296.01,300.18 L296.65,300.22 L297.3,300.25 L297.95,300.28 L298.59,300.31 L299.24,300.34 L299.88,300.37 L300.53,300.4 L301.17,300.43 L301.82,300.46 L302.46,300.49 L303.11,300.53 L303.75,300.56 L304.4,300.58 L305.05,300.61 L305.69,300.64 L306.34,300.67 L306.98,300.7 L307.63,300.73 L308.27,300.76 L308.92,300.79 L309.56,300.81 L310.21,300.84 L310.85,300.87 L311.5,300.89 L312.15,300.92 L312.79,300.94 L313.44,300.97 L314.08,301 L314.73,301.02 L315.37,301.04 L316.02,301.07 L316.66,301.09 L317.31,301.11 L317.95,301.14 L318.6,301.16 L319.25,301.18 L319.89,301.2 L320.54,301.22 L321.18,301.24 L321.83,301.26 L322.47,301.28 L323.12,301.3 L323.76,301.32 L324.41,301.34 L325.05,301.36 L325.7,301.38 L326.35,301.39 L326.99,301.41 L327.64,301.43 L328.28,301.44 L328.93,301.46 L329.57,301.47 L330.22,301.49 L330.86,301.5 L331.51,301.52 L332.15,301.53 L332.8,301.55 L333.45,301.56 L334.09,301.57 L334.74,301.58 L335.38,301.6 L336.03,301.61 L336.67,301.62 L337.32,301.63 L337.96,301.64 L338.61,301.65 L339.25,301.66 L339.9,301.67" fill="none" stroke="#7a7a7a" stroke-width="0.9"/>
<path d="M197.9,300.92 L198.55,300.88 L199.19,300.85 L199.84,300.81 L200.48,300.78 L201.13,300.74 L201.77,300.7 L202.42,300.66 L203.06,300.62 L203.71,300.58 L204.35,300.54 L205,300.5 L205.65,300.45 L206.29,300.41 L206.94,300.36 L207.58,300.32 L208.23,300.27 L208.87,300.22 L209.52,300.18 L210.16,300.13 L210.81,300.08 L211.45,300.03 L212.1,299.98 L212.75,299.93 L213.39,299.88 L214.04,299.83 L214.68,299.77 L215.33,299.72 L215.97,299.67 L216.62,299.61 L217.26,299.56 L217.91,299.5 L218.55,299.45 L219.2,299.39 L219.85,299.34 L220.49,299.28 L221.14,299.22 L221.78,299.17 L222.43,299.11 L223.07,299.05 L223.72,298.99 L224.36,298.93 L225.01,298.86 L225.65,298.79 L226.3,298.72 L226.95,298.65 L227.59,298.57 L228.24,298.48 L228.88,298.38 L229.53,298.27 L230.17,298.15 L230.82,298 L231.46,297.83 L232.11,297.62 L232.75,297.38 L233.4,297.09 L234.05,296.74 L234.69,296.33 L235.34,295.84 L235.98,295.25 L236.63,294.55 L237.27,293.72 L237.92,292.75 L238.56,291.61 L239.21,290.29 L239.85,288.76 L240.5,287.01 L241.15,285.01 L241.79,282.75 L242.44,280.22 L243.08,277.4 L243.73,274.28 L244.37,270.87 L245.02,267.16 L245.66,263.17 L246.31,258.92 L246.95,254.42 L247.6,249.72 L248.25,244.85 L248.89,239.86 L249.54,234.81 L250.18,229.76 L250.83,224.79 L251.47,219.95 L252.12,215.33 L252.76,211 L253.41,207.03 L254.05,203.5 L254.7,200.45 L255.35,197.96 L255.99,196.07 L256.64,194.81 L257.28,194.21 L257.93,194.28 L258.57,195.05 L259.22,196.51 L259.86,198.63 L260.51,201.36 L261.15,204.65 L261.8,208.44 L262.45,212.66 L263.09,217.23 L263.74,222.07 L264.38,227.1 L265.03,232.24 L265.67,237.42 L266.32,242.57 L266.96,247.62 L267.61,252.51 L268.25,257.21 L268.9,261.66 L269.55,265.84 L270.19,269.72 L270.84,273.3 L271.48,276.57 L272.13,279.53 L272.77,282.18 L273.42,284.54 L274.06,286.62 L274.71,288.44 L275.35,290.02 L276,291.38 L276.65,292.55 L277.29,293.55 L277.94,294.39 L278.58,295.09 L279.23,295.68 L279.87,296.17 L280.52,296.58 L281.16,296.92 L281.81,297.2 L282.45,297.43 L283.1,297.62 L283.75,297.79 L284.39,297.92 L285.04,298.04 L285.68,298.14 L286.33,298.23 L286.97,298.31 L287.62,298.38 L288.26,298.45 L288.91,298.51 L289.55,298.57 L290.2,298.62 L290.85,298.68 L291.49,298.73 L292.14,298.79 L292.78,298.84 L293.43,298.89 L294.07,298.95 L294.72,299 L295.36,299.05 L296.01,299.1 L296.65,299.15 L297.3,299.2 L297.95,299.25 L298.59,299.31 L299.24,299.36 L299.88,299.41 L300.53,299.46 L301.17,299.51 L301.82,299.56 L302.46,299.61 L303.11,299.66 L303.75,299.7 L304.4,299.75 L305.05,299.8 L305.69,299.85 L306.34,299.89 L306.98,299.94 L307.63,299.99 L308.27,300.03 L308.92,300.08 L309.56,300.12 L310.21,300.17 L310.85,300.21 L311.5,300.25 L312.15,300.29 L312.79,300.34 L313.44,300.38 L314.08,300.42 L314.73,300.46 L315.37,300.5 L316.02,300.54 L316.66,300.57 L317.31,300.61 L317.95,300.65 L318.6,300.68 L319.25,300.72 L319.89,300.75 L320.54,300.79 L321.18,300.82 L321.83,300.85 L322.47,300.89 L323.12,300.92 L323.76,300.95 L324.41,300.98 L325.05,301.01 L325.7,301.04 L326.35,301.07 L326.99,301.09 L327.64,301.12 L328.28,301.15 L328.93,301.17 L329.57,301.2 L330.22,301.22 L330.86,301.24 L331.51,301.27 L332.15,301.29 L332.8,301.31 L333.45,301.33 L334.09,301.35 L334.74,301.37 L335.38,301.39 L336.03,301.41 L336.67,301.43 L337.32,301.45 L337.96,301.47 L338.61,301.48 L339.25,301.5 L339.9,301.52" fill="none" stroke="#141414" stroke-width="1.1"/>
<path d="M197.9,301.75 L198.55,301.75 L199.19,301.75 L199.84,301.75 L200.48,301.75 L201.13,301.75 L201.77,301.75 L202.42,301.75 L203.06,301.75 L203.71,301.75 L204.35,301.75 L205,301.75 L205.65,301.75 L206.29,301.75 L206.94,301.75 L207.58,301.75 L208.23,301.75 L208.87,301.75 L209.52,301.75 L210.16,301.75 L210.81,301.75 L211.45,301.75 L212.1,301.75 L212.75,301.75 L213.39,301.75 L214.04,301.75 L214.68,301.75 L215.33,301.75 L215.97,301.75 L216.62,301.75 L217.26,301.75 L217.91,301.75 L218.55,301.75 L219.2,301.75 L219.85,301.75 L220.49,301.75 L221.14,301.75 L221.78,301.75 L222.43,301.75 L223.07,301.75 L223.72,301.75 L224.36,301.75 L225.01,301.75 L225.65,301.75 L226.3,301.75 L226.95,301.75 L227.59,301.75 L228.24,301.75 L228.88,301.75 L229.53,301.75 L230.17,301.75 L230.82,301.75 L231.46,301.75 L232.11,301.75 L232.75,301.75 L233.4,301.75 L234.05,301.75 L234.69,301.75 L235.34,301.75 L235.98,301.75 L236.63,301.75 L237.27,301.75 L237.92,301.75 L238.56,301.75 L239.21,301.75 L239.85,301.75 L240.5,301.75 L241.15,301.75 L241.79,301.75 L242.44,301.75 L243.08,301.75 L243.73,301.75 L244.37,301.75 L245.02,301.75 L245.66,301.75 L246.31,301.75 L246.95,301.75 L247.6,301.75 L248.25,301.75 L248.89,301.75 L249.54,301.75 L250.18,301.75 L250.83,301.75 L251.47,301.75 L252.12,301.75 L252.76,301.75 L253.41,301.75 L254.05,301.75 L254.7,301.75 L255.35,301.75 L255.99,301.75 L256.64,301.75 L257.28,301.75 L257.93,301.75 L258.57,301.75 L259.22,301.74 L259.86,301.74 L260.51,301.73 L261.15,301.72 L261.8,301.71 L262.45,301.68 L263.09,301.65 L263.74,301.6 L264.38,301.52 L265.03,301.42 L265.67,301.27 L266.32,301.07 L266.96,300.8 L267.61,300.44 L268.25,299.97 L268.9,299.36 L269.55,298.59 L270.19,297.64 L270.84,296.47 L271.48,295.05 L272.13,293.39 L272.77,291.45 L273.42,289.24 L274.06,286.77 L274.71,284.07 L275.35,281.18 L276,278.15 L276.65,275.05 L277.29,271.97 L277.94,269.01 L278.58,266.25 L279.23,263.81 L279.87,261.76 L280.52,260.2 L281.16,259.19 L281.81,258.77 L282.45,258.84 L283.1,259.21 L283.75,259.84 L284.39,260.73 L285.04,261.86 L285.68,263.21 L286.33,264.76 L286.97,266.47 L287.62,268.33 L288.26,270.29 L288.91,272.33 L289.55,274.41 L290.2,276.51 L290.85,278.6 L291.49,280.66 L292.14,282.66 L292.78,284.58 L293.43,286.4 L294.07,288.13 L294.72,289.73 L295.36,291.22 L296.01,292.58 L296.65,293.82 L297.3,294.93 L297.95,295.93 L298.59,296.81 L299.24,297.59 L299.88,298.27 L300.53,298.85 L301.17,299.35 L301.82,299.78 L302.46,300.14 L303.11,300.45 L303.75,300.7 L304.4,300.91 L305.05,301.08 L305.69,301.22 L306.34,301.34 L306.98,301.43 L307.63,301.5 L308.27,301.56 L308.92,301.6 L309.56,301.64 L310.21,301.67 L310.85,301.69 L311.5,301.7 L312.15,301.71 L312.79,301.72 L313.44,301.73 L314.08,301.74 L314.73,301.74 L315.37,301.74 L316.02,301.74 L316.66,301.75 L317.31,301.75 L317.95,301.75 L318.6,301.75 L319.25,301.75 L319.89,301.75 L320.54,301.75 L321.18,301.75 L321.83,301.75 L322.47,301.75 L323.12,301.75 L323.76,301.75 L324.41,301.75 L325.05,301.75 L325.7,301.75 L326.35,301.75 L326.99,301.75 L327.64,301.75 L328.28,301.75 L328.93,301.75 L329.57,301.75 L330.22,301.75 L330.86,301.75 L331.51,301.75 L332.15,301.75 L332.8,301.75 L333.45,301.75 L334.09,301.75 L334.74,301.75 L335.38,301.75 L336.03,301.75 L336.67,301.75 L337.32,301.75 L337.96,301.75 L338.61,301.75 L339.25,301.75 L339.9,301.75" fill="none" stroke="#f862f5" stroke-width="1.5"/>
<path d="M197.9,300.9 L198.55,300.9 L199.19,300.9 L199.84,300.9 L200.48,300.9 L201.13,300.9 L201.77,300.9 L202.42,300.9 L203.06,300.89 L203.71,300.89 L204.35,300.89 L205,300.89 L205.65,300.89 L206.29,300.89 L206.94,300.89 L207.58,300.89 L208.23,300.88 L208.87,300.88 L209.52,300.88 L210.16,300.88 L210.81,300.87 L211.45,300.87 L212.1,300.86 L212.75,300.86 L213.39,300.85 L214.04,300.85 L214.68,300.84 L215.33,300.83 L215.97,300.82 L216.62,300.81 L217.26,300.8 L217.91,300.79 L218.55,300.77 L219.2,300.75 L219.85,300.74 L220.49,300.72 L221.14,300.7 L221.78,300.67 L222.43,300.65 L223.07,300.62 L223.72,300.59 L224.36,300.56 L225.01,300.52 L225.65,300.49 L226.3,300.45 L226.95,300.4 L227.59,300.35 L228.24,300.29 L228.88,300.21 L229.53,300.12 L230.17,299.99 L230.82,299.81 L231.46,299.56 L232.11,299.19 L232.75,298.67 L233.4,297.94 L234.05,296.93 L234.69,295.55 L235.34,293.72 L235.98,291.36 L236.63,288.38 L237.27,284.71 L237.92,280.31 L238.56,275.17 L239.21,269.31 L239.85,262.81 L240.5,255.78 L241.15,248.37 L241.79,240.77 L242.44,233.18 L243.08,225.81 L243.73,218.87 L244.37,212.53 L245.02,206.95 L245.66,202.21 L246.31,198.39 L246.95,195.49 L247.6,193.45 L248.25,192.2 L248.89,191.59 L249.54,191.43 L250.18,191.48 L250.83,191.86 L251.47,192.76 L252.12,194.36 L252.76,196.74 L253.41,199.97 L254.05,204.07 L254.7,209.01 L255.35,214.74 L255.99,221.12 L256.64,228.02 L257.28,235.27 L257.93,242.66 L258.57,250.02 L259.22,257.14 L259.86,263.87 L260.51,270.08 L261.15,275.66 L261.8,280.55 L262.45,284.74 L263.09,288.24 L263.74,291.1 L264.38,293.37 L265.03,295.13 L265.67,296.46 L266.32,297.45 L266.96,298.17 L267.61,298.68 L268.25,299.05 L268.9,299.3 L269.55,299.48 L270.19,299.61 L270.84,299.7 L271.48,299.78 L272.13,299.84 L272.77,299.9 L273.42,299.95 L274.06,299.99 L274.71,300.04 L275.35,300.08 L276,300.12 L276.65,300.16 L277.29,300.2 L277.94,300.24 L278.58,300.27 L279.23,300.31 L279.87,300.34 L280.52,300.38 L281.16,300.41 L281.81,300.44 L282.45,300.47 L283.1,300.49 L283.75,300.52 L284.39,300.55 L285.04,300.57 L285.68,300.59 L286.33,300.61 L286.97,300.63 L287.62,300.65 L288.26,300.67 L288.91,300.69 L289.55,300.7 L290.2,300.72 L290.85,300.73 L291.49,300.75 L292.14,300.76 L292.78,300.77 L293.43,300.78 L294.07,300.79 L294.72,300.8 L295.36,300.81 L296.01,300.82 L296.65,300.82 L297.3,300.83 L297.95,300.84 L298.59,300.84 L299.24,300.85 L299.88,300.85 L300.53,300.86 L301.17,300.86 L301.82,300.86 L302.46,300.87 L303.11,300.87 L303.75,300.87 L304.4,300.88 L305.05,300.88 L305.69,300.88 L306.34,300.88 L306.98,300.88 L307.63,300.89 L308.27,300.89 L308.92,300.89 L309.56,300.89 L310.21,300.89 L310.85,300.89 L311.5,300.89 L312.15,300.89 L312.79,300.89 L313.44,300.89 L314.08,300.89 L314.73,300.9 L315.37,300.9 L316.02,300.9 L316.66,300.9 L317.31,300.9 L317.95,300.9 L318.6,300.9 L319.25,300.9 L319.89,300.9 L320.54,300.9 L321.18,300.9 L321.83,300.9 L322.47,300.9 L323.12,300.9 L323.76,300.9 L324.41,300.9 L325.05,300.9 L325.7,300.9 L326.35,300.9 L326.99,300.9 L327.64,300.9 L328.28,300.9 L328.93,300.9 L329.57,300.9 L330.22,300.9 L330.86,300.9 L331.51,300.9 L332.15,300.9 L332.8,300.9 L333.45,300.9 L334.09,300.9 L334.74,300.9 L335.38,300.9 L336.03,300.9 L336.67,300.9 L337.32,300.9 L337.96,300.9 L338.61,300.9 L339.25,300.9 L339.9,300.9" fill="none" stroke="#f862f5" stroke-width="1.5" stroke-dasharray="8.5,4"/>
</g>
<rect x="197.9" y="160.8" width="142" height="141.8" fill="none" stroke="#222" stroke-width="1.0"/>
<text x="200.4" y="176.2" font-size="18.0" text-anchor="start" fill="#000">D</text>
<line x1="278.7" y1="170.3" x2="289.7" y2="170.3" stroke="#c4c4c4" stroke-width="1.0"/>
<text x="293.4" y="172.5" font-size="6.2" text-anchor="start" fill="#222">FXN 2 μM</text>
<line x1="278.7" y1="181.4" x2="289.7" y2="181.4" stroke="#7a7a7a" stroke-width="1.0"/>
<text x="293.4" y="183.6" font-size="6.2" text-anchor="start" fill="#222">FXN 3 μM</text>
<line x1="278.7" y1="192.5" x2="289.7" y2="192.5" stroke="#141414" stroke-width="1.0"/>
<text x="293.4" y="194.7" font-size="6.2" text-anchor="start" fill="#222">FXN 6 μM</text>
<line x1="278.7" y1="203.6" x2="289.7" y2="203.6" stroke="#f862f5" stroke-width="1.4"/>
<text x="293.4" y="205.8" font-size="6.2" text-anchor="start" fill="#222">NB_28F6</text>
<line x1="279.9" y1="214.7" x2="286.9" y2="214.7" stroke="#f862f5" stroke-width="1.5"/>
<text x="293.4" y="216.9" font-size="6.2" text-anchor="start" fill="#222">FXN:NB_28F6</text>
<line x1="373.4" y1="139.53" x2="375.4" y2="139.53" stroke="#333" stroke-width="0.7"/>
<text x="371.4" y="142.13" font-size="7.8" text-anchor="end" fill="#2a2a2a" stroke="#222" stroke-width="0.12">0.0</text>
<line x1="373.4" y1="112.49" x2="375.4" y2="112.49" stroke="#333" stroke-width="0.7"/>
<text x="371.4" y="115.09" font-size="7.8" text-anchor="end" fill="#2a2a2a" stroke="#222" stroke-width="0.12">0.5</text>
<line x1="373.4" y1="85.44" x2="375.4" y2="85.44" stroke="#333" stroke-width="0.7"/>
<text x="371.4" y="88.04" font-size="7.8" text-anchor="end" fill="#2a2a2a" stroke="#222" stroke-width="0.12">1.0</text>
<line x1="373.4" y1="58.39" x2="375.4" y2="58.39" stroke="#333" stroke-width="0.7"/>
<text x="371.4" y="60.99" font-size="7.8" text-anchor="end" fill="#2a2a2a" stroke="#222" stroke-width="0.12">1.5</text>
<line x1="373.4" y1="31.35" x2="375.4" y2="31.35" stroke="#333" stroke-width="0.7"/>
<text x="371.4" y="33.95" font-size="7.8" text-anchor="end" fill="#2a2a2a" stroke="#222" stroke-width="0.12">2.0</text>
<line x1="373.4" y1="4.3" x2="375.4" y2="4.3" stroke="#333" stroke-width="0.7"/>
<text x="371.4" y="6.9" font-size="7.8" text-anchor="end" fill="#2a2a2a" stroke="#222" stroke-width="0.12">2.5</text>
<line x1="373.4" y1="126.01" x2="374.7" y2="126.01" stroke="#555" stroke-width="0.5"/>
<line x1="373.4" y1="98.96" x2="374.7" y2="98.96" stroke="#555" stroke-width="0.5"/>
<line x1="373.4" y1="71.92" x2="374.7" y2="71.92" stroke="#555" stroke-width="0.5"/>
<line x1="373.4" y1="44.87" x2="374.7" y2="44.87" stroke="#555" stroke-width="0.5"/>
<line x1="373.4" y1="17.82" x2="374.7" y2="17.82" stroke="#555" stroke-width="0.5"/>
<line x1="373.4" y1="144.4" x2="373.4" y2="142.4" stroke="#333" stroke-width="0.7"/>
<text x="373.4" y="153.8" font-size="7.7" text-anchor="middle" fill="#2a2a2a" stroke="#222" stroke-width="0.12">0</text>
<line x1="401.48" y1="144.4" x2="401.48" y2="142.4" stroke="#333" stroke-width="0.7"/>
<text x="401.48" y="153.8" font-size="7.7" text-anchor="middle" fill="#2a2a2a" stroke="#222" stroke-width="0.12">100</text>
<line x1="429.56" y1="144.4" x2="429.56" y2="142.4" stroke="#333" stroke-width="0.7"/>
<text x="429.56" y="153.8" font-size="7.7" text-anchor="middle" fill="#2a2a2a" stroke="#222" stroke-width="0.12">200</text>
<line x1="457.64" y1="144.4" x2="457.64" y2="142.4" stroke="#333" stroke-width="0.7"/>
<text x="457.64" y="153.8" font-size="7.7" text-anchor="middle" fill="#2a2a2a" stroke="#222" stroke-width="0.12">300</text>
<line x1="485.72" y1="144.4" x2="485.72" y2="142.4" stroke="#333" stroke-width="0.7"/>
<text x="485.72" y="153.8" font-size="7.7" text-anchor="middle" fill="#2a2a2a" stroke="#222" stroke-width="0.12">400</text>
<line x1="513.8" y1="144.4" x2="513.8" y2="142.4" stroke="#333" stroke-width="0.7"/>
<text x="513.8" y="153.8" font-size="7.7" text-anchor="middle" fill="#2a2a2a" stroke="#222" stroke-width="0.12">500</text>
<line x1="387.44" y1="144.4" x2="387.44" y2="143.1" stroke="#555" stroke-width="0.5"/>
<line x1="415.52" y1="144.4" x2="415.52" y2="143.1" stroke="#555" stroke-width="0.5"/>
<line x1="443.6" y1="144.4" x2="443.6" y2="143.1" stroke="#555" stroke-width="0.5"/>
<line x1="471.68" y1="144.4" x2="471.68" y2="143.1" stroke="#555" stroke-width="0.5"/>
<line x1="499.76" y1="144.4" x2="499.76" y2="143.1" stroke="#555" stroke-width="0.5"/>
<clipPath id="cE"><rect x="373.4" y="4.3" width="140.4" height="140.1"/></clipPath>
<g clip-path="url(#cE)">
<path d="M401.48,139.53 L402.04,139.12 L402.6,138.73 L403.16,138.33 L403.73,137.95 L404.29,137.58 L404.85,137.21 L405.41,136.85 L405.97,136.49 L406.53,136.15 L407.1,135.81 L407.66,135.47 L408.22,135.15 L408.78,134.83 L409.34,134.51 L409.9,134.2 L410.47,133.9 L411.03,133.61 L411.59,133.32 L412.15,133.03 L412.71,132.76 L413.27,132.48 L413.84,132.21 L414.4,131.95 L414.96,131.7 L415.52,131.44 L416.08,131.2 L416.64,130.95 L417.2,130.72 L417.77,130.49 L418.33,130.26 L418.89,130.03 L419.45,129.82 L420.01,129.6 L420.57,129.39 L421.14,129.18 L421.7,128.98 L422.26,128.78 L422.82,128.59 L423.38,128.4 L423.94,128.21 L424.51,128.03 L425.07,127.85 L425.63,127.67 L426.19,127.5 L426.75,127.33 L427.31,127.17 L427.88,127.01 L428.44,126.85 L429,126.69 L429.56,126.54 L430.12,126.39 L430.68,126.24 L431.24,126.1 L431.81,125.96 L432.37,125.82 L432.93,125.68 L433.49,125.55 L434.05,125.42 L434.61,125.29 L435.18,125.17 L435.74,125.04 L436.3,124.92 L436.86,124.81 L437.42,124.69 L437.98,124.58 L438.55,124.47 L439.11,124.36 L439.67,124.25 L440.23,124.15 L440.79,124.05 L441.35,123.94 L441.92,123.85 L442.48,123.75 L443.04,123.66 L443.6,123.56 L444.16,123.47 L444.72,123.38 L445.28,123.3 L445.85,123.21 L446.41,123.13 L446.97,123.04 L447.53,122.96 L448.09,122.88 L448.65,122.81 L449.22,122.73 L449.78,122.66 L450.34,122.58 L450.9,122.51 L451.46,122.44 L452.02,122.37 L452.59,122.31 L453.15,122.24 L453.71,122.18 L454.27,122.11 L454.83,122.05 L455.39,121.99 L455.96,121.93 L456.52,121.87 L457.08,121.81 L457.64,121.76 L458.2,121.85 L458.76,121.94 L459.32,122.03 L459.89,122.12 L460.45,122.21 L461.01,122.3 L461.57,122.38 L462.13,122.47 L462.69,122.55 L463.26,122.64 L463.82,122.72 L464.38,122.81 L464.94,122.89 L465.5,122.98 L466.06,123.06 L466.63,123.14 L467.19,123.22 L467.75,123.3 L468.31,123.38 L468.87,123.46 L469.43,123.54 L470,123.62 L470.56,123.69 L471.12,123.77 L471.68,123.85 L472.24,123.92 L472.8,124 L473.36,124.07 L473.93,124.15 L474.49,124.22 L475.05,124.29 L475.61,124.37 L476.17,124.44 L476.73,124.51 L477.3,124.58 L477.86,124.65 L478.42,124.72 L478.98,124.79 L479.54,124.86 L480.1,124.93 L480.67,124.99 L481.23,125.06 L481.79,125.13 L482.35,125.19 L482.91,125.26 L483.47,125.33 L484.04,125.39 L484.6,125.45 L485.16,125.52 L485.72,125.58 L486.28,125.65 L486.84,125.71 L487.4,125.77 L487.97,125.83 L488.53,125.89 L489.09,125.95 L489.65,126.01 L490.21,126.07 L490.77,126.13 L491.34,126.19 L491.9,126.25 L492.46,126.31 L493.02,126.37 L493.58,126.42 L494.14,126.48 L494.71,126.54 L495.27,126.59 L495.83,126.65 L496.39,126.7 L496.95,126.76 L497.51,126.81 L498.08,126.87 L498.64,126.92 L499.2,126.97 L499.76,127.02 L500.32,127.08 L500.88,127.13 L501.44,127.18 L502.01,127.23 L502.57,127.28 L503.13,127.33 L503.69,127.38 L504.25,127.43 L504.81,127.48 L505.38,127.53 L505.94,127.58 L506.5,127.63 L507.06,127.68 L507.62,127.72 L508.18,127.77 L508.75,127.82 L509.31,127.86 L509.87,127.91 L510.43,127.96 L510.99,128 L511.55,128.05 L512.12,128.09 L512.68,128.14 L513.24,128.18 L513.8,128.22" fill="none" stroke="#404040" stroke-width="0.8"/>
<path d="M401.48,139.53 L402.04,138.86 L402.6,138.2 L403.16,137.55 L403.73,136.92 L404.29,136.3 L404.85,135.69 L405.41,135.09 L405.97,134.51 L406.53,133.94 L407.1,133.38 L407.66,132.84 L408.22,132.3 L408.78,131.78 L409.34,131.26 L409.9,130.76 L410.47,130.27 L411.03,129.79 L411.59,129.32 L412.15,128.85 L412.71,128.4 L413.27,127.96 L413.84,127.52 L414.4,127.1 L414.96,126.68 L415.52,126.28 L416.08,125.88 L416.64,125.49 L417.2,125.1 L417.77,124.73 L418.33,124.36 L418.89,124 L419.45,123.65 L420.01,123.31 L420.57,122.97 L421.14,122.64 L421.7,122.32 L422.26,122 L422.82,121.69 L423.38,121.38 L423.94,121.09 L424.51,120.8 L425.07,120.51 L425.63,120.23 L426.19,119.96 L426.75,119.69 L427.31,119.43 L427.88,119.17 L428.44,118.92 L429,118.67 L429.56,118.43 L430.12,118.2 L430.68,117.97 L431.24,117.74 L431.81,117.52 L432.37,117.3 L432.93,117.09 L433.49,116.88 L434.05,116.68 L434.61,116.48 L435.18,116.28 L435.74,116.09 L436.3,115.9 L436.86,115.72 L437.42,115.54 L437.98,115.36 L438.55,115.19 L439.11,115.02 L439.67,114.86 L440.23,114.7 L440.79,114.54 L441.35,114.38 L441.92,114.23 L442.48,114.08 L443.04,113.94 L443.6,113.79 L444.16,113.65 L444.72,113.52 L445.28,113.38 L445.85,113.25 L446.41,113.12 L446.97,113 L447.53,112.88 L448.09,112.76 L448.65,112.64 L449.22,112.52 L449.78,112.41 L450.34,112.3 L450.9,112.19 L451.46,112.08 L452.02,111.98 L452.59,111.88 L453.15,111.78 L453.71,111.68 L454.27,111.58 L454.83,111.49 L455.39,111.4 L455.96,111.31 L456.52,111.22 L457.08,111.13 L457.64,111.05 L458.2,111.21 L458.76,111.37 L459.32,111.53 L459.89,111.69 L460.45,111.84 L461.01,112 L461.57,112.15 L462.13,112.31 L462.69,112.46 L463.26,112.61 L463.82,112.76 L464.38,112.91 L464.94,113.06 L465.5,113.2 L466.06,113.35 L466.63,113.5 L467.19,113.64 L467.75,113.78 L468.31,113.92 L468.87,114.06 L469.43,114.2 L470,114.34 L470.56,114.48 L471.12,114.62 L471.68,114.75 L472.24,114.89 L472.8,115.02 L473.36,115.16 L473.93,115.29 L474.49,115.42 L475.05,115.55 L475.61,115.68 L476.17,115.81 L476.73,115.94 L477.3,116.06 L477.86,116.19 L478.42,116.31 L478.98,116.44 L479.54,116.56 L480.1,116.69 L480.67,116.81 L481.23,116.93 L481.79,117.05 L482.35,117.17 L482.91,117.28 L483.47,117.4 L484.04,117.52 L484.6,117.63 L485.16,117.75 L485.72,117.86 L486.28,117.98 L486.84,118.09 L487.4,118.2 L487.97,118.31 L488.53,118.42 L489.09,118.53 L489.65,118.64 L490.21,118.75 L490.77,118.86 L491.34,118.96 L491.9,119.07 L492.46,119.17 L493.02,119.28 L493.58,119.38 L494.14,119.48 L494.71,119.59 L495.27,119.69 L495.83,119.79 L496.39,119.89 L496.95,119.99 L497.51,120.09 L498.08,120.18 L498.64,120.28 L499.2,120.38 L499.76,120.47 L500.32,120.57 L500.88,120.66 L501.44,120.76 L502.01,120.85 L502.57,120.94 L503.13,121.04 L503.69,121.13 L504.25,121.22 L504.81,121.31 L505.38,121.4 L505.94,121.49 L506.5,121.57 L507.06,121.66 L507.62,121.75 L508.18,121.83 L508.75,121.92 L509.31,122.01 L509.87,122.09 L510.43,122.17 L510.99,122.26 L511.55,122.34 L512.12,122.42 L512.68,122.5 L513.24,122.58 L513.8,122.67" fill="none" stroke="#404040" stroke-width="0.8"/>
<path d="M401.48,139.53 L402.04,138.33 L402.6,137.15 L403.16,136 L403.73,134.87 L404.29,133.77 L404.85,132.7 L405.41,131.65 L405.97,130.62 L406.53,129.62 L407.1,128.64 L407.66,127.68 L408.22,126.75 L408.78,125.83 L409.34,124.94 L409.9,124.06 L410.47,123.21 L411.03,122.38 L411.59,121.56 L412.15,120.76 L412.71,119.99 L413.27,119.22 L413.84,118.48 L414.4,117.75 L414.96,117.04 L415.52,116.35 L416.08,115.67 L416.64,115.01 L417.2,114.36 L417.77,113.73 L418.33,113.11 L418.89,112.51 L419.45,111.91 L420.01,111.34 L420.57,110.77 L421.14,110.22 L421.7,109.68 L422.26,109.16 L422.82,108.64 L423.38,108.14 L423.94,107.65 L424.51,107.17 L425.07,106.7 L425.63,106.24 L426.19,105.79 L426.75,105.35 L427.31,104.92 L427.88,104.51 L428.44,104.1 L429,103.7 L429.56,103.31 L430.12,102.92 L430.68,102.55 L431.24,102.19 L431.81,101.83 L432.37,101.48 L432.93,101.14 L433.49,100.81 L434.05,100.49 L434.61,100.17 L435.18,99.86 L435.74,99.55 L436.3,99.26 L436.86,98.97 L437.42,98.69 L437.98,98.41 L438.55,98.14 L439.11,97.87 L439.67,97.62 L440.23,97.36 L440.79,97.12 L441.35,96.88 L441.92,96.64 L442.48,96.41 L443.04,96.19 L443.6,95.97 L444.16,95.75 L444.72,95.54 L445.28,95.34 L445.85,95.14 L446.41,94.94 L446.97,94.75 L447.53,94.56 L448.09,94.38 L448.65,94.2 L449.22,94.03 L449.78,93.85 L450.34,93.69 L450.9,93.52 L451.46,93.37 L452.02,93.21 L452.59,93.06 L453.15,92.91 L453.71,92.76 L454.27,92.62 L454.83,92.48 L455.39,92.35 L455.96,92.22 L456.52,92.09 L457.08,91.96 L457.64,91.84 L458.2,92.1 L458.76,92.36 L459.32,92.62 L459.89,92.88 L460.45,93.14 L461.01,93.39 L461.57,93.65 L462.13,93.9 L462.69,94.15 L463.26,94.4 L463.82,94.64 L464.38,94.89 L464.94,95.13 L465.5,95.37 L466.06,95.61 L466.63,95.85 L467.19,96.08 L467.75,96.32 L468.31,96.55 L468.87,96.78 L469.43,97.01 L470,97.24 L470.56,97.46 L471.12,97.69 L471.68,97.91 L472.24,98.13 L472.8,98.35 L473.36,98.57 L473.93,98.78 L474.49,99 L475.05,99.21 L475.61,99.42 L476.17,99.63 L476.73,99.84 L477.3,100.05 L477.86,100.26 L478.42,100.46 L478.98,100.66 L479.54,100.86 L480.1,101.06 L480.67,101.26 L481.23,101.46 L481.79,101.65 L482.35,101.85 L482.91,102.04 L483.47,102.23 L484.04,102.42 L484.6,102.61 L485.16,102.8 L485.72,102.98 L486.28,103.17 L486.84,103.35 L487.4,103.53 L487.97,103.71 L488.53,103.89 L489.09,104.07 L489.65,104.25 L490.21,104.42 L490.77,104.6 L491.34,104.77 L491.9,104.94 L492.46,105.11 L493.02,105.28 L493.58,105.45 L494.14,105.62 L494.71,105.78 L495.27,105.95 L495.83,106.11 L496.39,106.27 L496.95,106.44 L497.51,106.59 L498.08,106.75 L498.64,106.91 L499.2,107.07 L499.76,107.22 L500.32,107.38 L500.88,107.53 L501.44,107.68 L502.01,107.83 L502.57,107.98 L503.13,108.13 L503.69,108.28 L504.25,108.43 L504.81,108.57 L505.38,108.72 L505.94,108.86 L506.5,109 L507.06,109.14 L507.62,109.28 L508.18,109.42 L508.75,109.56 L509.31,109.7 L509.87,109.84 L510.43,109.97 L510.99,110.1 L511.55,110.24 L512.12,110.37 L512.68,110.5 L513.24,110.63 L513.8,110.76" fill="none" stroke="#404040" stroke-width="0.8"/>
<path d="M401.48,139.53 L402.04,136.43 L402.6,133.42 L403.16,130.48 L403.73,127.63 L404.29,124.85 L404.85,122.15 L405.41,119.52 L405.97,116.96 L406.53,114.47 L407.1,112.05 L407.66,109.69 L408.22,107.4 L408.78,105.17 L409.34,103 L409.9,100.88 L410.47,98.83 L411.03,96.83 L411.59,94.88 L412.15,92.99 L412.71,91.15 L413.27,89.36 L413.84,87.62 L414.4,85.92 L414.96,84.27 L415.52,82.66 L416.08,81.1 L416.64,79.58 L417.2,78.1 L417.77,76.66 L418.33,75.26 L418.89,73.9 L419.45,72.57 L420.01,71.28 L420.57,70.03 L421.14,68.81 L421.7,67.62 L422.26,66.46 L422.82,65.34 L423.38,64.25 L423.94,63.18 L424.51,62.14 L425.07,61.14 L425.63,60.16 L426.19,59.2 L426.75,58.27 L427.31,57.37 L427.88,56.49 L428.44,55.64 L429,54.8 L429.56,54 L430.12,53.21 L430.68,52.44 L431.24,51.7 L431.81,50.97 L432.37,50.26 L432.93,49.58 L433.49,48.91 L434.05,48.26 L434.61,47.63 L435.18,47.01 L435.74,46.41 L436.3,45.83 L436.86,45.26 L437.42,44.71 L437.98,44.17 L438.55,43.65 L439.11,43.14 L439.67,42.65 L440.23,42.17 L440.79,41.7 L441.35,41.25 L441.92,40.8 L442.48,40.37 L443.04,39.95 L443.6,39.54 L444.16,39.15 L444.72,38.76 L445.28,38.39 L445.85,38.02 L446.41,37.66 L446.97,37.32 L447.53,36.98 L448.09,36.65 L448.65,36.33 L449.22,36.02 L449.78,35.72 L450.34,35.43 L450.9,35.14 L451.46,34.86 L452.02,34.59 L452.59,34.33 L453.15,34.07 L453.71,33.83 L454.27,33.58 L454.83,33.35 L455.39,33.12 L455.96,32.89 L456.52,32.68 L457.08,32.47 L457.64,32.26 L458.2,32.86 L458.76,33.45 L459.32,34.03 L459.89,34.62 L460.45,35.19 L461.01,35.77 L461.57,36.33 L462.13,36.9 L462.69,37.46 L463.26,38.01 L463.82,38.56 L464.38,39.11 L464.94,39.65 L465.5,40.19 L466.06,40.72 L466.63,41.25 L467.19,41.77 L467.75,42.29 L468.31,42.81 L468.87,43.32 L469.43,43.83 L470,44.33 L470.56,44.83 L471.12,45.33 L471.68,45.82 L472.24,46.31 L472.8,46.79 L473.36,47.27 L473.93,47.75 L474.49,48.22 L475.05,48.69 L475.61,49.16 L476.17,49.62 L476.73,50.08 L477.3,50.53 L477.86,50.98 L478.42,51.43 L478.98,51.87 L479.54,52.31 L480.1,52.75 L480.67,53.18 L481.23,53.61 L481.79,54.04 L482.35,54.46 L482.91,54.88 L483.47,55.29 L484.04,55.71 L484.6,56.12 L485.16,56.52 L485.72,56.93 L486.28,57.32 L486.84,57.72 L487.4,58.11 L487.97,58.5 L488.53,58.89 L489.09,59.28 L489.65,59.66 L490.21,60.03 L490.77,60.41 L491.34,60.78 L491.9,61.15 L492.46,61.52 L493.02,61.88 L493.58,62.24 L494.14,62.6 L494.71,62.95 L495.27,63.3 L495.83,63.65 L496.39,64 L496.95,64.34 L497.51,64.68 L498.08,65.02 L498.64,65.35 L499.2,65.69 L499.76,66.02 L500.32,66.34 L500.88,66.67 L501.44,66.99 L502.01,67.31 L502.57,67.63 L503.13,67.94 L503.69,68.25 L504.25,68.56 L504.81,68.87 L505.38,69.17 L505.94,69.47 L506.5,69.77 L507.06,70.07 L507.62,70.37 L508.18,70.66 L508.75,70.95 L509.31,71.24 L509.87,71.52 L510.43,71.81 L510.99,72.09 L511.55,72.37 L512.12,72.64 L512.68,72.92 L513.24,73.19 L513.8,73.46" fill="none" stroke="#404040" stroke-width="0.8"/>
<path d="M373.4,138.99 L373.87,139.01 L374.34,139.04 L374.8,139.06 L375.27,139.08 L375.74,139.1 L376.21,139.12 L376.68,139.14 L377.14,139.15 L377.61,139.17 L378.08,139.18 L378.55,139.2 L379.02,139.21 L379.48,139.23 L379.95,139.24 L380.42,139.25 L380.89,139.27 L381.36,139.28 L381.82,139.29 L382.29,139.3 L382.76,139.31 L383.23,139.32 L383.7,139.33 L384.16,139.34 L384.63,139.35 L385.1,139.36 L385.57,139.36 L386.04,139.37 L386.5,139.38 L386.97,139.39 L387.44,139.39 L387.91,139.4 L388.38,139.41 L388.84,139.41 L389.31,139.42 L389.78,139.43 L390.25,139.43 L390.72,139.44 L391.18,139.44 L391.65,139.45 L392.12,139.45 L392.59,139.46 L393.06,139.46 L393.52,139.47 L393.99,139.47 L394.46,139.48 L394.93,139.48 L395.4,139.49 L395.86,139.49 L396.33,139.49 L396.8,139.5 L397.27,139.5 L397.74,139.51 L398.2,139.51 L398.67,139.51 L399.14,139.52 L399.61,139.52 L400.08,139.52 L400.54,139.52 L401.01,139.53 L401.48,139.53 L401.95,139.18 L402.42,138.83 L402.88,138.49 L403.35,138.15 L403.82,137.83 L404.29,137.5 L404.76,137.19 L405.22,136.88 L405.69,136.57 L406.16,136.27 L406.63,135.98 L407.1,135.69 L407.56,135.4 L408.03,135.12 L408.5,134.85 L408.97,134.58 L409.44,134.32 L409.9,134.06 L410.37,133.8 L410.84,133.55 L411.31,133.31 L411.78,133.07 L412.24,132.83 L412.71,132.6 L413.18,132.37 L413.65,132.15 L414.12,131.93 L414.58,131.71 L415.05,131.5 L415.52,131.29 L415.99,131.09 L416.46,130.89 L416.92,130.69 L417.39,130.5 L417.86,130.31 L418.33,130.12 L418.8,129.94 L419.26,129.76 L419.73,129.58 L420.2,129.41 L420.67,129.24 L421.14,129.07 L421.6,128.91 L422.07,128.75 L422.54,128.59 L423.01,128.44 L423.48,128.28 L423.94,128.14 L424.41,127.99 L424.88,127.84 L425.35,127.7 L425.82,127.56 L426.28,127.43 L426.75,127.29 L427.22,127.16 L427.69,127.03 L428.16,126.91 L428.62,126.78 L429.09,126.66 L429.56,126.54 L430.03,126.42 L430.5,126.31 L430.96,126.19 L431.43,126.08 L431.9,125.97 L432.37,125.87 L432.84,125.76 L433.3,125.66 L433.77,125.55 L434.24,125.45 L434.71,125.36 L435.18,125.26 L435.64,125.17 L436.11,125.07 L436.58,124.98 L437.05,124.89 L437.52,124.8 L437.98,124.72 L438.45,124.63 L438.92,124.55 L439.39,124.47 L439.86,124.39 L440.32,124.31 L440.79,124.23 L441.26,124.16 L441.73,124.08 L442.2,124.01 L442.66,123.94 L443.13,123.87 L443.6,123.8 L444.07,123.73 L444.54,123.66 L445,123.6 L445.47,123.53 L445.94,123.47 L446.41,123.41 L446.88,123.35 L447.34,123.29 L447.81,123.23 L448.28,123.17 L448.75,123.12 L449.22,123.06 L449.68,123.01 L450.15,122.95 L450.62,122.9 L451.09,122.85 L451.56,122.8 L452.02,122.75 L452.49,122.7 L452.96,122.65 L453.43,122.6 L453.9,122.56 L454.36,122.51 L454.83,122.47 L455.3,122.42 L455.77,122.38 L456.24,122.34 L456.7,122.3 L457.17,122.26 L457.64,122.22 L458.11,122.29 L458.58,122.35 L459.04,122.42 L459.51,122.49 L459.98,122.56 L460.45,122.63 L460.92,122.69 L461.38,122.76 L461.85,122.82 L462.32,122.89 L462.79,122.96 L463.26,123.02 L463.72,123.09 L464.19,123.15 L464.66,123.21 L465.13,123.28 L465.6,123.34 L466.06,123.4 L466.53,123.47 L467,123.53 L467.47,123.59 L467.94,123.65 L468.4,123.71 L468.87,123.77 L469.34,123.83 L469.81,123.89 L470.28,123.95 L470.74,124.01 L471.21,124.07 L471.68,124.13 L472.15,124.19 L472.62,124.24 L473.08,124.3 L473.55,124.36 L474.02,124.41 L474.49,124.47 L474.96,124.53 L475.42,124.58 L475.89,124.64 L476.36,124.69 L476.83,124.75 L477.3,124.8 L477.76,124.86 L478.23,124.91 L478.7,124.96 L479.17,125.02 L479.64,125.07 L480.1,125.12 L480.57,125.18 L481.04,125.23 L481.51,125.28 L481.98,125.33 L482.44,125.38 L482.91,125.43 L483.38,125.48 L483.85,125.53 L484.32,125.58 L484.78,125.63 L485.25,125.68 L485.72,125.73 L486.19,125.78 L486.66,125.83 L487.12,125.88 L487.59,125.93 L488.06,125.97 L488.53,126.02 L489,126.07 L489.46,126.11 L489.93,126.16 L490.4,126.21 L490.87,126.25 L491.34,126.3 L491.8,126.34 L492.27,126.39 L492.74,126.44 L493.21,126.48 L493.68,126.52 L494.14,126.57 L494.61,126.61 L495.08,126.66 L495.55,126.7 L496.02,126.74 L496.48,126.79 L496.95,126.83 L497.42,126.87 L497.89,126.91 L498.36,126.95 L498.82,127 L499.29,127.04 L499.76,127.08 L500.23,127.12 L500.7,127.16 L501.16,127.2 L501.63,127.24 L502.1,127.28 L502.57,127.32 L503.04,127.36 L503.5,127.4 L503.97,127.44 L504.44,127.48 L504.91,127.52 L505.38,127.56 L505.84,127.59 L506.31,127.63 L506.78,127.67 L507.25,127.71 L507.72,127.74 L508.18,127.78 L508.65,127.82 L509.12,127.85 L509.59,127.89 L510.06,127.93 L510.52,127.96 L510.99,128 L511.46,128.03 L511.93,128.07 L512.4,128.11 L512.86,128.14 L513.33,128.18 L513.8,128.21" fill="none" stroke="#9cb896" stroke-width="1.5"/>
<path d="M373.4,137.1 L373.87,137.2 L374.34,137.31 L374.8,137.4 L375.27,137.5 L375.74,137.58 L376.21,137.67 L376.68,137.75 L377.14,137.83 L377.61,137.9 L378.08,137.97 L378.55,138.04 L379.02,138.1 L379.48,138.16 L379.95,138.22 L380.42,138.28 L380.89,138.33 L381.36,138.39 L381.82,138.44 L382.29,138.48 L382.76,138.53 L383.23,138.58 L383.7,138.62 L384.16,138.66 L384.63,138.7 L385.1,138.74 L385.57,138.78 L386.04,138.81 L386.5,138.85 L386.97,138.88 L387.44,138.91 L387.91,138.94 L388.38,138.97 L388.84,139 L389.31,139.03 L389.78,139.06 L390.25,139.09 L390.72,139.11 L391.18,139.14 L391.65,139.16 L392.12,139.18 L392.59,139.21 L393.06,139.23 L393.52,139.25 L393.99,139.27 L394.46,139.29 L394.93,139.31 L395.4,139.33 L395.86,139.35 L396.33,139.37 L396.8,139.38 L397.27,139.4 L397.74,139.42 L398.2,139.43 L398.67,139.45 L399.14,139.46 L399.61,139.47 L400.08,139.49 L400.54,139.5 L401.01,139.51 L401.48,139.53 L401.95,138.91 L402.42,138.3 L402.88,137.7 L403.35,137.12 L403.82,136.55 L404.29,135.98 L404.76,135.43 L405.22,134.89 L405.69,134.36 L406.16,133.84 L406.63,133.34 L407.1,132.84 L407.56,132.35 L408.03,131.87 L408.5,131.4 L408.97,130.94 L409.44,130.49 L409.9,130.05 L410.37,129.61 L410.84,129.19 L411.31,128.77 L411.78,128.36 L412.24,127.96 L412.71,127.57 L413.18,127.19 L413.65,126.81 L414.12,126.44 L414.58,126.08 L415.05,125.72 L415.52,125.38 L415.99,125.04 L416.46,124.7 L416.92,124.37 L417.39,124.05 L417.86,123.74 L418.33,123.43 L418.8,123.13 L419.26,122.83 L419.73,122.54 L420.2,122.26 L420.67,121.98 L421.14,121.7 L421.6,121.43 L422.07,121.17 L422.54,120.91 L423.01,120.66 L423.48,120.41 L423.94,120.17 L424.41,119.93 L424.88,119.7 L425.35,119.47 L425.82,119.25 L426.28,119.03 L426.75,118.81 L427.22,118.6 L427.69,118.39 L428.16,118.19 L428.62,117.99 L429.09,117.8 L429.56,117.61 L430.03,117.42 L430.5,117.24 L430.96,117.06 L431.43,116.88 L431.9,116.71 L432.37,116.54 L432.84,116.37 L433.3,116.21 L433.77,116.05 L434.24,115.89 L434.71,115.74 L435.18,115.59 L435.64,115.44 L436.11,115.3 L436.58,115.16 L437.05,115.02 L437.52,114.88 L437.98,114.75 L438.45,114.62 L438.92,114.49 L439.39,114.37 L439.86,114.24 L440.32,114.12 L440.79,114.01 L441.26,113.89 L441.73,113.78 L442.2,113.66 L442.66,113.56 L443.13,113.45 L443.6,113.34 L444.07,113.24 L444.54,113.14 L445,113.04 L445.47,112.95 L445.94,112.85 L446.41,112.76 L446.88,112.67 L447.34,112.58 L447.81,112.49 L448.28,112.4 L448.75,112.32 L449.22,112.24 L449.68,112.16 L450.15,112.08 L450.62,112 L451.09,111.92 L451.56,111.85 L452.02,111.78 L452.49,111.7 L452.96,111.63 L453.43,111.57 L453.9,111.5 L454.36,111.43 L454.83,111.37 L455.3,111.3 L455.77,111.24 L456.24,111.18 L456.7,111.12 L457.17,111.06 L457.64,111 L458.11,111.12 L458.58,111.23 L459.04,111.34 L459.51,111.45 L459.98,111.56 L460.45,111.67 L460.92,111.78 L461.38,111.88 L461.85,111.99 L462.32,112.1 L462.79,112.2 L463.26,112.31 L463.72,112.41 L464.19,112.52 L464.66,112.62 L465.13,112.72 L465.6,112.83 L466.06,112.93 L466.53,113.03 L467,113.13 L467.47,113.23 L467.94,113.33 L468.4,113.43 L468.87,113.53 L469.34,113.63 L469.81,113.72 L470.28,113.82 L470.74,113.92 L471.21,114.01 L471.68,114.11 L472.15,114.2 L472.62,114.3 L473.08,114.39 L473.55,114.49 L474.02,114.58 L474.49,114.67 L474.96,114.76 L475.42,114.85 L475.89,114.95 L476.36,115.04 L476.83,115.13 L477.3,115.21 L477.76,115.3 L478.23,115.39 L478.7,115.48 L479.17,115.57 L479.64,115.65 L480.1,115.74 L480.57,115.83 L481.04,115.91 L481.51,116 L481.98,116.08 L482.44,116.17 L482.91,116.25 L483.38,116.33 L483.85,116.42 L484.32,116.5 L484.78,116.58 L485.25,116.66 L485.72,116.74 L486.19,116.82 L486.66,116.9 L487.12,116.98 L487.59,117.06 L488.06,117.14 L488.53,117.22 L489,117.3 L489.46,117.37 L489.93,117.45 L490.4,117.53 L490.87,117.6 L491.34,117.68 L491.8,117.75 L492.27,117.83 L492.74,117.9 L493.21,117.98 L493.68,118.05 L494.14,118.13 L494.61,118.2 L495.08,118.27 L495.55,118.34 L496.02,118.41 L496.48,118.49 L496.95,118.56 L497.42,118.63 L497.89,118.7 L498.36,118.77 L498.82,118.84 L499.29,118.91 L499.76,118.97 L500.23,119.04 L500.7,119.11 L501.16,119.18 L501.63,119.24 L502.1,119.31 L502.57,119.38 L503.04,119.44 L503.5,119.51 L503.97,119.58 L504.44,119.64 L504.91,119.7 L505.38,119.77 L505.84,119.83 L506.31,119.9 L506.78,119.96 L507.25,120.02 L507.72,120.08 L508.18,120.15 L508.65,120.21 L509.12,120.27 L509.59,120.33 L510.06,120.39 L510.52,120.45 L510.99,120.51 L511.46,120.57 L511.93,120.63 L512.4,120.69 L512.86,120.75 L513.33,120.81 L513.8,120.87" fill="none" stroke="#e860e8" stroke-width="1.5"/>
<path d="M373.4,135.47 L373.87,135.65 L374.34,135.82 L374.8,135.98 L375.27,136.14 L375.74,136.29 L376.21,136.43 L376.68,136.56 L377.14,136.69 L377.61,136.81 L378.08,136.93 L378.55,137.04 L379.02,137.15 L379.48,137.25 L379.95,137.35 L380.42,137.44 L380.89,137.54 L381.36,137.62 L381.82,137.71 L382.29,137.79 L382.76,137.86 L383.23,137.94 L383.7,138.01 L384.16,138.08 L384.63,138.15 L385.1,138.21 L385.57,138.27 L386.04,138.33 L386.5,138.39 L386.97,138.45 L387.44,138.5 L387.91,138.55 L388.38,138.6 L388.84,138.65 L389.31,138.7 L389.78,138.74 L390.25,138.79 L390.72,138.83 L391.18,138.87 L391.65,138.91 L392.12,138.95 L392.59,138.99 L393.06,139.03 L393.52,139.06 L393.99,139.1 L394.46,139.13 L394.93,139.16 L395.4,139.2 L395.86,139.23 L396.33,139.26 L396.8,139.29 L397.27,139.31 L397.74,139.34 L398.2,139.37 L398.67,139.39 L399.14,139.41 L399.61,139.44 L400.08,139.46 L400.54,139.48 L401.01,139.5 L401.48,139.53 L401.95,138.21 L402.42,136.92 L402.88,135.67 L403.35,134.46 L403.82,133.28 L404.29,132.13 L404.76,131.02 L405.22,129.93 L405.69,128.88 L406.16,127.85 L406.63,126.86 L407.1,125.89 L407.56,124.95 L408.03,124.03 L408.5,123.14 L408.97,122.28 L409.44,121.44 L409.9,120.62 L410.37,119.83 L410.84,119.06 L411.31,118.31 L411.78,117.58 L412.24,116.87 L412.71,116.18 L413.18,115.51 L413.65,114.86 L414.12,114.23 L414.58,113.61 L415.05,113.01 L415.52,112.43 L415.99,111.87 L416.46,111.32 L416.92,110.78 L417.39,110.26 L417.86,109.76 L418.33,109.27 L418.8,108.79 L419.26,108.33 L419.73,107.88 L420.2,107.44 L420.67,107.01 L421.14,106.6 L421.6,106.2 L422.07,105.81 L422.54,105.43 L423.01,105.06 L423.48,104.7 L423.94,104.35 L424.41,104.01 L424.88,103.68 L425.35,103.36 L425.82,103.05 L426.28,102.74 L426.75,102.45 L427.22,102.16 L427.69,101.88 L428.16,101.61 L428.62,101.35 L429.09,101.1 L429.56,100.85 L430.03,100.61 L430.5,100.37 L430.96,100.14 L431.43,99.92 L431.9,99.71 L432.37,99.5 L432.84,99.29 L433.3,99.09 L433.77,98.9 L434.24,98.71 L434.71,98.53 L435.18,98.35 L435.64,98.18 L436.11,98.02 L436.58,97.85 L437.05,97.7 L437.52,97.54 L437.98,97.39 L438.45,97.25 L438.92,97.11 L439.39,96.97 L439.86,96.84 L440.32,96.71 L440.79,96.58 L441.26,96.46 L441.73,96.34 L442.2,96.22 L442.66,96.11 L443.13,96 L443.6,95.9 L444.07,95.79 L444.54,95.69 L445,95.6 L445.47,95.5 L445.94,95.41 L446.41,95.32 L446.88,95.23 L447.34,95.15 L447.81,95.06 L448.28,94.98 L448.75,94.91 L449.22,94.83 L449.68,94.76 L450.15,94.69 L450.62,94.62 L451.09,94.55 L451.56,94.48 L452.02,94.42 L452.49,94.36 L452.96,94.3 L453.43,94.24 L453.9,94.18 L454.36,94.13 L454.83,94.07 L455.3,94.02 L455.77,93.97 L456.24,93.92 L456.7,93.87 L457.17,93.83 L457.64,93.78 L458.11,93.99 L458.58,94.2 L459.04,94.4 L459.51,94.61 L459.98,94.81 L460.45,95.02 L460.92,95.22 L461.38,95.42 L461.85,95.62 L462.32,95.81 L462.79,96.01 L463.26,96.21 L463.72,96.4 L464.19,96.59 L464.66,96.79 L465.13,96.98 L465.6,97.17 L466.06,97.36 L466.53,97.54 L467,97.73 L467.47,97.92 L467.94,98.1 L468.4,98.28 L468.87,98.47 L469.34,98.65 L469.81,98.83 L470.28,99 L470.74,99.18 L471.21,99.36 L471.68,99.53 L472.15,99.71 L472.62,99.88 L473.08,100.06 L473.55,100.23 L474.02,100.4 L474.49,100.57 L474.96,100.73 L475.42,100.9 L475.89,101.07 L476.36,101.23 L476.83,101.4 L477.3,101.56 L477.76,101.72 L478.23,101.89 L478.7,102.05 L479.17,102.21 L479.64,102.36 L480.1,102.52 L480.57,102.68 L481.04,102.83 L481.51,102.99 L481.98,103.14 L482.44,103.3 L482.91,103.45 L483.38,103.6 L483.85,103.75 L484.32,103.9 L484.78,104.05 L485.25,104.19 L485.72,104.34 L486.19,104.49 L486.66,104.63 L487.12,104.78 L487.59,104.92 L488.06,105.06 L488.53,105.2 L489,105.34 L489.46,105.48 L489.93,105.62 L490.4,105.76 L490.87,105.9 L491.34,106.03 L491.8,106.17 L492.27,106.3 L492.74,106.44 L493.21,106.57 L493.68,106.7 L494.14,106.84 L494.61,106.97 L495.08,107.1 L495.55,107.23 L496.02,107.36 L496.48,107.48 L496.95,107.61 L497.42,107.74 L497.89,107.86 L498.36,107.99 L498.82,108.11 L499.29,108.23 L499.76,108.36 L500.23,108.48 L500.7,108.6 L501.16,108.72 L501.63,108.84 L502.1,108.96 L502.57,109.08 L503.04,109.19 L503.5,109.31 L503.97,109.43 L504.44,109.54 L504.91,109.66 L505.38,109.77 L505.84,109.88 L506.31,110 L506.78,110.11 L507.25,110.22 L507.72,110.33 L508.18,110.44 L508.65,110.55 L509.12,110.66 L509.59,110.77 L510.06,110.87 L510.52,110.98 L510.99,111.09 L511.46,111.19 L511.93,111.3 L512.4,111.4 L512.86,111.5 L513.33,111.61 L513.8,111.71" fill="none" stroke="#4f7ff0" stroke-width="1.5"/>
<path d="M373.4,134.39 L373.87,134.62 L374.34,134.83 L374.8,135.04 L375.27,135.23 L375.74,135.42 L376.21,135.6 L376.68,135.77 L377.14,135.93 L377.61,136.09 L378.08,136.24 L378.55,136.38 L379.02,136.51 L379.48,136.64 L379.95,136.77 L380.42,136.89 L380.89,137 L381.36,137.11 L381.82,137.22 L382.29,137.32 L382.76,137.42 L383.23,137.51 L383.7,137.6 L384.16,137.69 L384.63,137.78 L385.1,137.86 L385.57,137.94 L386.04,138.01 L386.5,138.08 L386.97,138.16 L387.44,138.22 L387.91,138.29 L388.38,138.35 L388.84,138.42 L389.31,138.48 L389.78,138.53 L390.25,138.59 L390.72,138.64 L391.18,138.7 L391.65,138.75 L392.12,138.8 L392.59,138.85 L393.06,138.89 L393.52,138.94 L393.99,138.98 L394.46,139.03 L394.93,139.07 L395.4,139.11 L395.86,139.15 L396.33,139.18 L396.8,139.22 L397.27,139.25 L397.74,139.29 L398.2,139.32 L398.67,139.35 L399.14,139.38 L399.61,139.41 L400.08,139.44 L400.54,139.46 L401.01,139.49 L401.48,139.53 L401.95,136.91 L402.42,134.35 L402.88,131.85 L403.35,129.41 L403.82,127.02 L404.29,124.69 L404.76,122.41 L405.22,120.19 L405.69,118.02 L406.16,115.89 L406.63,113.82 L407.1,111.79 L407.56,109.81 L408.03,107.88 L408.5,105.99 L408.97,104.14 L409.44,102.34 L409.9,100.57 L410.37,98.85 L410.84,97.17 L411.31,95.53 L411.78,93.92 L412.24,92.36 L412.71,90.82 L413.18,89.33 L413.65,87.86 L414.12,86.44 L414.58,85.04 L415.05,83.68 L415.52,82.35 L415.99,81.05 L416.46,79.77 L416.92,78.53 L417.39,77.32 L417.86,76.13 L418.33,74.98 L418.8,73.85 L419.26,72.74 L419.73,71.66 L420.2,70.61 L420.67,69.58 L421.14,68.57 L421.6,67.59 L422.07,66.63 L422.54,65.69 L423.01,64.77 L423.48,63.88 L423.94,63 L424.41,62.15 L424.88,61.31 L425.35,60.49 L425.82,59.7 L426.28,58.92 L426.75,58.16 L427.22,57.42 L427.69,56.69 L428.16,55.98 L428.62,55.29 L429.09,54.61 L429.56,53.95 L430.03,53.3 L430.5,52.67 L430.96,52.06 L431.43,51.45 L431.9,50.86 L432.37,50.29 L432.84,49.73 L433.3,49.18 L433.77,48.64 L434.24,48.12 L434.71,47.61 L435.18,47.11 L435.64,46.62 L436.11,46.14 L436.58,45.68 L437.05,45.22 L437.52,44.78 L437.98,44.34 L438.45,43.92 L438.92,43.5 L439.39,43.1 L439.86,42.7 L440.32,42.32 L440.79,41.94 L441.26,41.57 L441.73,41.21 L442.2,40.86 L442.66,40.51 L443.13,40.18 L443.6,39.85 L444.07,39.53 L444.54,39.21 L445,38.91 L445.47,38.61 L445.94,38.32 L446.41,38.03 L446.88,37.75 L447.34,37.48 L447.81,37.21 L448.28,36.95 L448.75,36.7 L449.22,36.45 L449.68,36.21 L450.15,35.97 L450.62,35.74 L451.09,35.51 L451.56,35.29 L452.02,35.08 L452.49,34.87 L452.96,34.66 L453.43,34.46 L453.9,34.26 L454.36,34.07 L454.83,33.88 L455.3,33.7 L455.77,33.52 L456.24,33.35 L456.7,33.17 L457.17,33.01 L457.64,32.84 L458.11,33.37 L458.58,33.9 L459.04,34.42 L459.51,34.94 L459.98,35.46 L460.45,35.97 L460.92,36.48 L461.38,36.98 L461.85,37.48 L462.32,37.98 L462.79,38.47 L463.26,38.96 L463.72,39.45 L464.19,39.93 L464.66,40.41 L465.13,40.89 L465.6,41.36 L466.06,41.83 L466.53,42.29 L467,42.76 L467.47,43.22 L467.94,43.67 L468.4,44.13 L468.87,44.57 L469.34,45.02 L469.81,45.46 L470.28,45.9 L470.74,46.34 L471.21,46.77 L471.68,47.21 L472.15,47.63 L472.62,48.06 L473.08,48.48 L473.55,48.9 L474.02,49.31 L474.49,49.73 L474.96,50.13 L475.42,50.54 L475.89,50.95 L476.36,51.35 L476.83,51.74 L477.3,52.14 L477.76,52.53 L478.23,52.92 L478.7,53.31 L479.17,53.69 L479.64,54.07 L480.1,54.45 L480.57,54.83 L481.04,55.2 L481.51,55.57 L481.98,55.94 L482.44,56.3 L482.91,56.67 L483.38,57.03 L483.85,57.38 L484.32,57.74 L484.78,58.09 L485.25,58.44 L485.72,58.79 L486.19,59.13 L486.66,59.48 L487.12,59.82 L487.59,60.15 L488.06,60.49 L488.53,60.82 L489,61.15 L489.46,61.48 L489.93,61.8 L490.4,62.13 L490.87,62.45 L491.34,62.77 L491.8,63.08 L492.27,63.4 L492.74,63.71 L493.21,64.02 L493.68,64.33 L494.14,64.63 L494.61,64.94 L495.08,65.24 L495.55,65.53 L496.02,65.83 L496.48,66.13 L496.95,66.42 L497.42,66.71 L497.89,67 L498.36,67.28 L498.82,67.57 L499.29,67.85 L499.76,68.13 L500.23,68.41 L500.7,68.68 L501.16,68.96 L501.63,69.23 L502.1,69.5 L502.57,69.77 L503.04,70.04 L503.5,70.3 L503.97,70.56 L504.44,70.82 L504.91,71.08 L505.38,71.34 L505.84,71.59 L506.31,71.85 L506.78,72.1 L507.25,72.35 L507.72,72.6 L508.18,72.84 L508.65,73.09 L509.12,73.33 L509.59,73.57 L510.06,73.81 L510.52,74.05 L510.99,74.28 L511.46,74.52 L511.93,74.75 L512.4,74.98 L512.86,75.21 L513.33,75.44 L513.8,75.66" fill="none" stroke="#3cf02c" stroke-width="1.5"/>
</g>
<rect x="373.4" y="4.3" width="140.4" height="140.1" fill="none" stroke="#333" stroke-width="1.0"/>
<text x="496.8" y="21.5" font-size="19.5" text-anchor="start" fill="#000">E</text>
<text x="479" y="137.6" font-size="7.8" text-anchor="start" fill="#222">NB_4A7</text>
<line x1="380.7" y1="13.1" x2="391.7" y2="13.1" stroke="#a6c2a0" stroke-width="1.4"/>
<text x="394.8" y="15.1" font-size="5.8" text-anchor="start" fill="#222">10 nM</text>
<line x1="380.7" y1="20.5" x2="391.7" y2="20.5" stroke="#f060f0" stroke-width="1.4"/>
<text x="394.8" y="22.5" font-size="5.8" text-anchor="start" fill="#222">20 nM</text>
<line x1="380.7" y1="27.9" x2="391.7" y2="27.9" stroke="#4f7ff0" stroke-width="1.4"/>
<text x="394.8" y="29.9" font-size="5.8" text-anchor="start" fill="#222">40 nM</text>
<line x1="380.7" y1="35.3" x2="391.7" y2="35.3" stroke="#3ee02e" stroke-width="1.4"/>
<text x="394.8" y="37.3" font-size="5.8" text-anchor="start" fill="#222">80 nM</text>
<line x1="380.7" y1="42.7" x2="391.7" y2="42.7" stroke="#888" stroke-width="0.9"/>
<text x="394.8" y="44.7" font-size="5.8" text-anchor="start" fill="#222">Global fitting</text>
<line x1="538" y1="140.11" x2="540" y2="140.11" stroke="#333" stroke-width="0.7"/>
<text x="536" y="142.71" font-size="7.8" text-anchor="end" fill="#2a2a2a" stroke="#222" stroke-width="0.12">0.0</text>
<line x1="538" y1="113.17" x2="540" y2="113.17" stroke="#333" stroke-width="0.7"/>
<text x="536" y="115.77" font-size="7.8" text-anchor="end" fill="#2a2a2a" stroke="#222" stroke-width="0.12">0.5</text>
<line x1="538" y1="86.23" x2="540" y2="86.23" stroke="#333" stroke-width="0.7"/>
<text x="536" y="88.83" font-size="7.8" text-anchor="end" fill="#2a2a2a" stroke="#222" stroke-width="0.12">1.0</text>
<line x1="538" y1="59.28" x2="540" y2="59.28" stroke="#333" stroke-width="0.7"/>
<text x="536" y="61.88" font-size="7.8" text-anchor="end" fill="#2a2a2a" stroke="#222" stroke-width="0.12">1.5</text>
<line x1="538" y1="32.34" x2="540" y2="32.34" stroke="#333" stroke-width="0.7"/>
<text x="536" y="34.94" font-size="7.8" text-anchor="end" fill="#2a2a2a" stroke="#222" stroke-width="0.12">2.0</text>
<line x1="538" y1="5.4" x2="540" y2="5.4" stroke="#333" stroke-width="0.7"/>
<text x="536" y="8" font-size="7.8" text-anchor="end" fill="#2a2a2a" stroke="#222" stroke-width="0.12">2.5</text>
<line x1="538" y1="126.64" x2="539.3" y2="126.64" stroke="#555" stroke-width="0.5"/>
<line x1="538" y1="99.7" x2="539.3" y2="99.7" stroke="#555" stroke-width="0.5"/>
<line x1="538" y1="72.76" x2="539.3" y2="72.76" stroke="#555" stroke-width="0.5"/>
<line x1="538" y1="45.81" x2="539.3" y2="45.81" stroke="#555" stroke-width="0.5"/>
<line x1="538" y1="18.87" x2="539.3" y2="18.87" stroke="#555" stroke-width="0.5"/>
<line x1="538" y1="145.5" x2="538" y2="143.5" stroke="#333" stroke-width="0.7"/>
<text x="538" y="154.9" font-size="7.7" text-anchor="middle" fill="#2a2a2a" stroke="#222" stroke-width="0.12">0</text>
<line x1="558.07" y1="145.5" x2="558.07" y2="143.5" stroke="#333" stroke-width="0.7"/>
<text x="558.07" y="154.9" font-size="7.7" text-anchor="middle" fill="#2a2a2a" stroke="#222" stroke-width="0.12">100</text>
<line x1="578.14" y1="145.5" x2="578.14" y2="143.5" stroke="#333" stroke-width="0.7"/>
<text x="578.14" y="154.9" font-size="7.7" text-anchor="middle" fill="#2a2a2a" stroke="#222" stroke-width="0.12">200</text>
<line x1="598.21" y1="145.5" x2="598.21" y2="143.5" stroke="#333" stroke-width="0.7"/>
<text x="598.21" y="154.9" font-size="7.7" text-anchor="middle" fill="#2a2a2a" stroke="#222" stroke-width="0.12">300</text>
<line x1="618.29" y1="145.5" x2="618.29" y2="143.5" stroke="#333" stroke-width="0.7"/>
<text x="618.29" y="154.9" font-size="7.7" text-anchor="middle" fill="#2a2a2a" stroke="#222" stroke-width="0.12">400</text>
<line x1="638.36" y1="145.5" x2="638.36" y2="143.5" stroke="#333" stroke-width="0.7"/>
<text x="638.36" y="154.9" font-size="7.7" text-anchor="middle" fill="#2a2a2a" stroke="#222" stroke-width="0.12">500</text>
<line x1="658.43" y1="145.5" x2="658.43" y2="143.5" stroke="#333" stroke-width="0.7"/>
<text x="658.43" y="154.9" font-size="7.7" text-anchor="middle" fill="#2a2a2a" stroke="#222" stroke-width="0.12">600</text>
<line x1="678.5" y1="145.5" x2="678.5" y2="143.5" stroke="#333" stroke-width="0.7"/>
<text x="678.5" y="154.9" font-size="7.7" text-anchor="middle" fill="#2a2a2a" stroke="#222" stroke-width="0.12">700</text>
<line x1="548.04" y1="145.5" x2="548.04" y2="144.2" stroke="#555" stroke-width="0.5"/>
<line x1="568.11" y1="145.5" x2="568.11" y2="144.2" stroke="#555" stroke-width="0.5"/>
<line x1="588.18" y1="145.5" x2="588.18" y2="144.2" stroke="#555" stroke-width="0.5"/>
<line x1="608.25" y1="145.5" x2="608.25" y2="144.2" stroke="#555" stroke-width="0.5"/>
<line x1="628.32" y1="145.5" x2="628.32" y2="144.2" stroke="#555" stroke-width="0.5"/>
<line x1="648.39" y1="145.5" x2="648.39" y2="144.2" stroke="#555" stroke-width="0.5"/>
<line x1="668.46" y1="145.5" x2="668.46" y2="144.2" stroke="#555" stroke-width="0.5"/>
<clipPath id="cF"><rect x="538" y="5.4" width="140.5" height="140.1"/></clipPath>
<g clip-path="url(#cF)">
<path d="M558.07,140.11 L558.67,139.25 L559.28,138.41 L559.88,137.58 L560.48,136.76 L561.08,135.95 L561.68,135.15 L562.29,134.37 L562.89,133.6 L563.49,132.83 L564.09,132.08 L564.7,131.34 L565.3,130.61 L565.9,129.89 L566.5,129.19 L567.1,128.49 L567.71,127.8 L568.31,127.12 L568.91,126.46 L569.51,125.8 L570.11,125.15 L570.72,124.51 L571.32,123.88 L571.92,123.26 L572.52,122.65 L573.12,122.05 L573.73,121.46 L574.33,120.87 L574.93,120.29 L575.53,119.73 L576.14,119.17 L576.74,118.62 L577.34,118.07 L577.94,117.54 L578.54,117.01 L579.15,116.49 L579.75,115.98 L580.35,115.47 L580.95,114.97 L581.55,114.48 L582.16,114 L582.76,113.52 L583.36,113.06 L583.96,112.59 L584.57,112.14 L585.17,111.69 L585.77,111.25 L586.37,110.81 L586.97,110.38 L587.58,109.96 L588.18,109.54 L588.78,109.13 L589.38,108.72 L589.99,108.33 L590.59,107.93 L591.19,107.54 L591.79,107.16 L592.39,106.79 L593,106.42 L593.6,106.05 L594.2,105.69 L594.8,105.34 L595.4,104.99 L596.01,104.64 L596.61,104.3 L597.21,103.97 L597.81,103.64 L598.41,103.31 L599.02,102.99 L599.62,102.68 L600.22,102.37 L600.82,102.06 L601.43,101.76 L602.03,101.46 L602.63,101.17 L603.23,100.88 L603.83,100.59 L604.44,100.31 L605.04,100.04 L605.64,99.77 L606.24,99.5 L606.85,99.23 L607.45,98.97 L608.05,98.72 L608.65,98.46 L609.25,98.21 L609.86,97.97 L610.46,97.73 L611.06,97.49 L611.66,97.25 L612.26,97.02 L612.87,96.79 L613.47,96.57 L614.07,96.35 L614.67,96.13 L615.27,95.91 L615.88,95.7 L616.48,95.49 L617.08,95.28 L617.68,95.08 L618.29,94.88 L618.89,94.99 L619.49,95.1 L620.09,95.2 L620.69,95.31 L621.3,95.41 L621.9,95.51 L622.5,95.62 L623.1,95.72 L623.71,95.82 L624.31,95.92 L624.91,96.02 L625.51,96.12 L626.11,96.22 L626.72,96.32 L627.32,96.41 L627.92,96.51 L628.52,96.61 L629.12,96.7 L629.73,96.8 L630.33,96.89 L630.93,96.99 L631.53,97.08 L632.13,97.17 L632.74,97.26 L633.34,97.35 L633.94,97.44 L634.54,97.53 L635.15,97.62 L635.75,97.71 L636.35,97.8 L636.95,97.88 L637.55,97.97 L638.16,98.06 L638.76,98.14 L639.36,98.23 L639.96,98.31 L640.57,98.4 L641.17,98.48 L641.77,98.56 L642.37,98.64 L642.97,98.72 L643.58,98.8 L644.18,98.89 L644.78,98.96 L645.38,99.04 L645.98,99.12 L646.59,99.2 L647.19,99.28 L647.79,99.36 L648.39,99.43 L649,99.51 L649.6,99.58 L650.2,99.66 L650.8,99.73 L651.4,99.81 L652.01,99.88 L652.61,99.95 L653.21,100.02 L653.81,100.1 L654.41,100.17 L655.02,100.24 L655.62,100.31 L656.22,100.38 L656.82,100.45 L657.42,100.52 L658.03,100.59 L658.63,100.65 L659.23,100.72 L659.83,100.79 L660.44,100.86 L661.04,100.92 L661.64,100.99 L662.24,101.05 L662.84,101.12 L663.45,101.18 L664.05,101.25 L664.65,101.31 L665.25,101.37 L665.86,101.43 L666.46,101.5 L667.06,101.56 L667.66,101.62 L668.26,101.68 L668.87,101.74 L669.47,101.8 L670.07,101.86 L670.67,101.92 L671.27,101.98 L671.88,102.04 L672.48,102.1 L673.08,102.15 L673.68,102.21 L674.28,102.27 L674.89,102.32 L675.49,102.38 L676.09,102.43 L676.69,102.49 L677.3,102.55 L677.9,102.6 L678.5,102.65" fill="none" stroke="#404040" stroke-width="0.8"/>
<path d="M558.07,140.11 L558.67,139.04 L559.28,137.98 L559.88,136.93 L560.48,135.9 L561.08,134.88 L561.68,133.86 L562.29,132.86 L562.89,131.87 L563.49,130.89 L564.09,129.92 L564.7,128.96 L565.3,128.02 L565.9,127.08 L566.5,126.15 L567.1,125.24 L567.71,124.33 L568.31,123.43 L568.91,122.55 L569.51,121.67 L570.11,120.8 L570.72,119.94 L571.32,119.1 L571.92,118.26 L572.52,117.43 L573.12,116.61 L573.73,115.8 L574.33,114.99 L574.93,114.2 L575.53,113.42 L576.14,112.64 L576.74,111.87 L577.34,111.11 L577.94,110.36 L578.54,109.62 L579.15,108.89 L579.75,108.16 L580.35,107.44 L580.95,106.73 L581.55,106.03 L582.16,105.34 L582.76,104.65 L583.36,103.97 L583.96,103.3 L584.57,102.63 L585.17,101.98 L585.77,101.33 L586.37,100.69 L586.97,100.05 L587.58,99.42 L588.18,98.8 L588.78,98.19 L589.38,97.58 L589.99,96.98 L590.59,96.38 L591.19,95.79 L591.79,95.21 L592.39,94.64 L593,94.07 L593.6,93.51 L594.2,92.95 L594.8,92.4 L595.4,91.86 L596.01,91.32 L596.61,90.79 L597.21,90.26 L597.81,89.74 L598.41,89.22 L599.02,88.72 L599.62,88.21 L600.22,87.71 L600.82,87.22 L601.43,86.74 L602.03,86.25 L602.63,85.78 L603.23,85.31 L603.83,84.84 L604.44,84.38 L605.04,83.93 L605.64,83.47 L606.24,83.03 L606.85,82.59 L607.45,82.15 L608.05,81.72 L608.65,81.3 L609.25,80.87 L609.86,80.46 L610.46,80.05 L611.06,79.64 L611.66,79.24 L612.26,78.84 L612.87,78.44 L613.47,78.05 L614.07,77.67 L614.67,77.29 L615.27,76.91 L615.88,76.54 L616.48,76.17 L617.08,75.8 L617.68,75.44 L618.29,75.08 L618.89,75.22 L619.49,75.35 L620.09,75.47 L620.69,75.6 L621.3,75.73 L621.9,75.86 L622.5,75.99 L623.1,76.11 L623.71,76.24 L624.31,76.36 L624.91,76.48 L625.51,76.61 L626.11,76.73 L626.72,76.85 L627.32,76.97 L627.92,77.09 L628.52,77.21 L629.12,77.33 L629.73,77.45 L630.33,77.56 L630.93,77.68 L631.53,77.79 L632.13,77.91 L632.74,78.02 L633.34,78.14 L633.94,78.25 L634.54,78.36 L635.15,78.47 L635.75,78.58 L636.35,78.69 L636.95,78.8 L637.55,78.91 L638.16,79.02 L638.76,79.13 L639.36,79.24 L639.96,79.34 L640.57,79.45 L641.17,79.55 L641.77,79.66 L642.37,79.76 L642.97,79.86 L643.58,79.97 L644.18,80.07 L644.78,80.17 L645.38,80.27 L645.98,80.37 L646.59,80.47 L647.19,80.57 L647.79,80.67 L648.39,80.77 L649,80.86 L649.6,80.96 L650.2,81.05 L650.8,81.15 L651.4,81.25 L652.01,81.34 L652.61,81.43 L653.21,81.53 L653.81,81.62 L654.41,81.71 L655.02,81.8 L655.62,81.89 L656.22,81.98 L656.82,82.07 L657.42,82.16 L658.03,82.25 L658.63,82.34 L659.23,82.43 L659.83,82.51 L660.44,82.6 L661.04,82.69 L661.64,82.77 L662.24,82.86 L662.84,82.94 L663.45,83.03 L664.05,83.11 L664.65,83.19 L665.25,83.28 L665.86,83.36 L666.46,83.44 L667.06,83.52 L667.66,83.6 L668.26,83.68 L668.87,83.76 L669.47,83.84 L670.07,83.92 L670.67,84 L671.27,84.08 L671.88,84.15 L672.48,84.23 L673.08,84.31 L673.68,84.38 L674.28,84.46 L674.89,84.53 L675.49,84.61 L676.09,84.68 L676.69,84.76 L677.3,84.83 L677.9,84.9 L678.5,84.97" fill="none" stroke="#404040" stroke-width="0.8"/>
<path d="M558.07,140.11 L558.67,138.38 L559.28,136.68 L559.88,135 L560.48,133.35 L561.08,131.73 L561.68,130.13 L562.29,128.56 L562.89,127.01 L563.49,125.49 L564.09,123.99 L564.7,122.52 L565.3,121.07 L565.9,119.65 L566.5,118.24 L567.1,116.86 L567.71,115.5 L568.31,114.17 L568.91,112.85 L569.51,111.56 L570.11,110.29 L570.72,109.03 L571.32,107.8 L571.92,106.59 L572.52,105.4 L573.12,104.22 L573.73,103.07 L574.33,101.93 L574.93,100.81 L575.53,99.71 L576.14,98.63 L576.74,97.56 L577.34,96.52 L577.94,95.48 L578.54,94.47 L579.15,93.47 L579.75,92.49 L580.35,91.52 L580.95,90.57 L581.55,89.64 L582.16,88.72 L582.76,87.81 L583.36,86.92 L583.96,86.04 L584.57,85.18 L585.17,84.33 L585.77,83.49 L586.37,82.67 L586.97,81.86 L587.58,81.07 L588.18,80.28 L588.78,79.51 L589.38,78.76 L589.99,78.01 L590.59,77.28 L591.19,76.55 L591.79,75.84 L592.39,75.14 L593,74.46 L593.6,73.78 L594.2,73.11 L594.8,72.46 L595.4,71.81 L596.01,71.18 L596.61,70.56 L597.21,69.94 L597.81,69.34 L598.41,68.74 L599.02,68.16 L599.62,67.58 L600.22,67.02 L600.82,66.46 L601.43,65.91 L602.03,65.37 L602.63,64.84 L603.23,64.32 L603.83,63.8 L604.44,63.3 L605.04,62.8 L605.64,62.31 L606.24,61.83 L606.85,61.36 L607.45,60.89 L608.05,60.43 L608.65,59.98 L609.25,59.54 L609.86,59.1 L610.46,58.67 L611.06,58.25 L611.66,57.83 L612.26,57.42 L612.87,57.02 L613.47,56.62 L614.07,56.23 L614.67,55.85 L615.27,55.47 L615.88,55.1 L616.48,54.73 L617.08,54.37 L617.68,54.02 L618.29,53.67 L618.89,53.85 L619.49,54.03 L620.09,54.2 L620.69,54.38 L621.3,54.55 L621.9,54.72 L622.5,54.9 L623.1,55.07 L623.71,55.24 L624.31,55.4 L624.91,55.57 L625.51,55.74 L626.11,55.9 L626.72,56.07 L627.32,56.23 L627.92,56.39 L628.52,56.55 L629.12,56.71 L629.73,56.87 L630.33,57.03 L630.93,57.19 L631.53,57.34 L632.13,57.5 L632.74,57.65 L633.34,57.8 L633.94,57.95 L634.54,58.1 L635.15,58.25 L635.75,58.4 L636.35,58.55 L636.95,58.7 L637.55,58.84 L638.16,58.99 L638.76,59.13 L639.36,59.27 L639.96,59.42 L640.57,59.56 L641.17,59.7 L641.77,59.84 L642.37,59.97 L642.97,60.11 L643.58,60.25 L644.18,60.38 L644.78,60.52 L645.38,60.65 L645.98,60.78 L646.59,60.92 L647.19,61.05 L647.79,61.18 L648.39,61.31 L649,61.43 L649.6,61.56 L650.2,61.69 L650.8,61.82 L651.4,61.94 L652.01,62.06 L652.61,62.19 L653.21,62.31 L653.81,62.43 L654.41,62.55 L655.02,62.67 L655.62,62.79 L656.22,62.91 L656.82,63.03 L657.42,63.15 L658.03,63.26 L658.63,63.38 L659.23,63.49 L659.83,63.61 L660.44,63.72 L661.04,63.83 L661.64,63.95 L662.24,64.06 L662.84,64.17 L663.45,64.28 L664.05,64.39 L664.65,64.49 L665.25,64.6 L665.86,64.71 L666.46,64.81 L667.06,64.92 L667.66,65.02 L668.26,65.13 L668.87,65.23 L669.47,65.33 L670.07,65.44 L670.67,65.54 L671.27,65.64 L671.88,65.74 L672.48,65.84 L673.08,65.94 L673.68,66.03 L674.28,66.13 L674.89,66.23 L675.49,66.33 L676.09,66.42 L676.69,66.52 L677.3,66.61 L677.9,66.7 L678.5,66.8" fill="none" stroke="#404040" stroke-width="0.8"/>
<path d="M558.07,140.11 L558.67,137.31 L559.28,134.55 L559.88,131.85 L560.48,129.2 L561.08,126.6 L561.68,124.05 L562.29,121.55 L562.89,119.09 L563.49,116.68 L564.09,114.31 L564.7,111.99 L565.3,109.71 L565.9,107.48 L566.5,105.29 L567.1,103.13 L567.71,101.02 L568.31,98.95 L568.91,96.91 L569.51,94.92 L570.11,92.96 L570.72,91.04 L571.32,89.15 L571.92,87.3 L572.52,85.49 L573.12,83.7 L573.73,81.95 L574.33,80.24 L574.93,78.56 L575.53,76.9 L576.14,75.28 L576.74,73.69 L577.34,72.13 L577.94,70.6 L578.54,69.1 L579.15,67.62 L579.75,66.17 L580.35,64.75 L580.95,63.36 L581.55,61.99 L582.16,60.65 L582.76,59.33 L583.36,58.04 L583.96,56.77 L584.57,55.53 L585.17,54.31 L585.77,53.11 L586.37,51.93 L586.97,50.78 L587.58,49.65 L588.18,48.54 L588.78,47.45 L589.38,46.38 L589.99,45.33 L590.59,44.3 L591.19,43.29 L591.79,42.29 L592.39,41.32 L593,40.37 L593.6,39.43 L594.2,38.51 L594.8,37.61 L595.4,36.72 L596.01,35.85 L596.61,35 L597.21,34.16 L597.81,33.34 L598.41,32.54 L599.02,31.75 L599.62,30.97 L600.22,30.21 L600.82,29.46 L601.43,28.73 L602.03,28.01 L602.63,27.3 L603.23,26.61 L603.83,25.93 L604.44,25.27 L605.04,24.61 L605.64,23.97 L606.24,23.34 L606.85,22.72 L607.45,22.11 L608.05,21.52 L608.65,20.93 L609.25,20.36 L609.86,19.8 L610.46,19.25 L611.06,18.7 L611.66,18.17 L612.26,17.65 L612.87,17.14 L613.47,16.64 L614.07,16.14 L614.67,15.66 L615.27,15.19 L615.88,14.72 L616.48,14.26 L617.08,13.81 L617.68,13.37 L618.29,12.94 L618.89,13.29 L619.49,13.63 L620.09,13.96 L620.69,14.3 L621.3,14.63 L621.9,14.96 L622.5,15.28 L623.1,15.6 L623.71,15.92 L624.31,16.24 L624.91,16.56 L625.51,16.87 L626.11,17.18 L626.72,17.49 L627.32,17.79 L627.92,18.09 L628.52,18.39 L629.12,18.69 L629.73,18.98 L630.33,19.28 L630.93,19.57 L631.53,19.85 L632.13,20.14 L632.74,20.42 L633.34,20.7 L633.94,20.98 L634.54,21.25 L635.15,21.53 L635.75,21.8 L636.35,22.07 L636.95,22.33 L637.55,22.6 L638.16,22.86 L638.76,23.12 L639.36,23.37 L639.96,23.63 L640.57,23.88 L641.17,24.13 L641.77,24.38 L642.37,24.63 L642.97,24.87 L643.58,25.12 L644.18,25.36 L644.78,25.6 L645.38,25.83 L645.98,26.07 L646.59,26.3 L647.19,26.53 L647.79,26.76 L648.39,26.99 L649,27.21 L649.6,27.44 L650.2,27.66 L650.8,27.88 L651.4,28.09 L652.01,28.31 L652.61,28.52 L653.21,28.74 L653.81,28.95 L654.41,29.16 L655.02,29.36 L655.62,29.57 L656.22,29.77 L656.82,29.97 L657.42,30.17 L658.03,30.37 L658.63,30.57 L659.23,30.76 L659.83,30.96 L660.44,31.15 L661.04,31.34 L661.64,31.53 L662.24,31.72 L662.84,31.9 L663.45,32.08 L664.05,32.27 L664.65,32.45 L665.25,32.63 L665.86,32.81 L666.46,32.98 L667.06,33.16 L667.66,33.33 L668.26,33.5 L668.87,33.67 L669.47,33.84 L670.07,34.01 L670.67,34.18 L671.27,34.34 L671.88,34.5 L672.48,34.67 L673.08,34.83 L673.68,34.99 L674.28,35.15 L674.89,35.3 L675.49,35.46 L676.09,35.61 L676.69,35.76 L677.3,35.92 L677.9,36.07 L678.5,36.22" fill="none" stroke="#404040" stroke-width="0.8"/>
<path d="M538,139.57 L538.47,139.61 L538.94,139.64 L539.4,139.66 L539.87,139.69 L540.34,139.72 L540.81,139.74 L541.28,139.76 L541.75,139.78 L542.22,139.8 L542.68,139.82 L543.15,139.84 L543.62,139.86 L544.09,139.87 L544.56,139.89 L545.02,139.9 L545.49,139.91 L545.96,139.93 L546.43,139.94 L546.9,139.95 L547.37,139.96 L547.84,139.97 L548.3,139.98 L548.77,139.99 L549.24,140 L549.71,140.01 L550.18,140.02 L550.64,140.02 L551.11,140.03 L551.58,140.04 L552.05,140.04 L552.52,140.05 L552.99,140.06 L553.46,140.06 L553.92,140.07 L554.39,140.08 L554.86,140.08 L555.33,140.09 L555.8,140.09 L556.26,140.09 L556.73,140.1 L557.2,140.1 L557.67,140.11 L558.14,140.02 L558.61,139.35 L559.08,138.69 L559.54,138.04 L560.01,137.39 L560.48,136.75 L560.95,136.12 L561.42,135.5 L561.88,134.89 L562.35,134.28 L562.82,133.68 L563.29,133.08 L563.76,132.5 L564.23,131.92 L564.7,131.34 L565.16,130.77 L565.63,130.21 L566.1,129.66 L566.57,129.11 L567.04,128.57 L567.5,128.04 L567.97,127.51 L568.44,126.99 L568.91,126.47 L569.38,125.96 L569.85,125.45 L570.32,124.95 L570.78,124.46 L571.25,123.97 L571.72,123.49 L572.19,123.02 L572.66,122.55 L573.12,122.08 L573.59,121.62 L574.06,121.17 L574.53,120.72 L575,120.27 L575.47,119.84 L575.93,119.4 L576.4,118.97 L576.87,118.55 L577.34,118.13 L577.81,117.72 L578.28,117.31 L578.75,116.9 L579.21,116.51 L579.68,116.11 L580.15,115.72 L580.62,115.33 L581.09,114.95 L581.55,114.58 L582.02,114.2 L582.49,113.83 L582.96,113.47 L583.43,113.11 L583.9,112.76 L584.37,112.4 L584.83,112.06 L585.3,111.71 L585.77,111.37 L586.24,111.04 L586.71,110.71 L587.17,110.38 L587.64,110.06 L588.11,109.74 L588.58,109.42 L589.05,109.11 L589.52,108.8 L589.99,108.49 L590.45,108.19 L590.92,107.89 L591.39,107.6 L591.86,107.3 L592.33,107.02 L592.79,106.73 L593.26,106.45 L593.73,106.17 L594.2,105.9 L594.67,105.62 L595.14,105.36 L595.61,105.09 L596.07,104.83 L596.54,104.57 L597.01,104.31 L597.48,104.06 L597.95,103.81 L598.41,103.56 L598.88,103.32 L599.35,103.07 L599.82,102.83 L600.29,102.6 L600.76,102.36 L601.23,102.13 L601.69,101.9 L602.16,101.68 L602.63,101.46 L603.1,101.24 L603.57,101.02 L604.03,100.8 L604.5,100.59 L604.97,100.38 L605.44,100.17 L605.91,99.97 L606.38,99.76 L606.85,99.56 L607.31,99.36 L607.78,99.17 L608.25,98.97 L608.72,98.78 L609.19,98.59 L609.65,98.41 L610.12,98.22 L610.59,98.04 L611.06,97.86 L611.53,97.68 L612,97.5 L612.47,97.33 L612.93,97.15 L613.4,96.98 L613.87,96.82 L614.34,96.65 L614.81,96.48 L615.27,96.32 L615.74,96.16 L616.21,96 L616.68,95.84 L617.15,95.69 L617.62,95.54 L618.09,95.38 L618.55,95.34 L619.02,95.38 L619.49,95.42 L619.96,95.46 L620.43,95.5 L620.89,95.54 L621.36,95.57 L621.83,95.61 L622.3,95.65 L622.77,95.68 L623.24,95.72 L623.71,95.76 L624.17,95.79 L624.64,95.83 L625.11,95.87 L625.58,95.9 L626.05,95.94 L626.51,95.97 L626.98,96.01 L627.45,96.04 L627.92,96.07 L628.39,96.11 L628.86,96.14 L629.33,96.18 L629.79,96.21 L630.26,96.24 L630.73,96.27 L631.2,96.31 L631.67,96.34 L632.13,96.37 L632.6,96.4 L633.07,96.43 L633.54,96.47 L634.01,96.5 L634.48,96.53 L634.94,96.56 L635.41,96.59 L635.88,96.62 L636.35,96.65 L636.82,96.68 L637.29,96.71 L637.75,96.74 L638.22,96.77 L638.69,96.79 L639.16,96.82 L639.63,96.85 L640.1,96.88 L640.57,96.91 L641.03,96.94 L641.5,96.96 L641.97,96.99 L642.44,97.02 L642.91,97.05 L643.38,97.07 L643.84,97.1 L644.31,97.13 L644.78,97.15 L645.25,97.18 L645.72,97.2 L646.18,97.23 L646.65,97.26 L647.12,97.28 L647.59,97.31 L648.06,97.33 L648.53,97.36 L649,97.38 L649.46,97.4 L649.93,97.43 L650.4,97.45 L650.87,97.48 L651.34,97.5 L651.81,97.52 L652.27,97.55 L652.74,97.57 L653.21,97.59 L653.68,97.62 L654.15,97.64 L654.62,97.66 L655.08,97.69 L655.55,97.71 L656.02,97.73 L656.49,97.75 L656.96,97.77 L657.42,97.79 L657.89,97.82 L658.36,97.84 L658.83,97.86 L659.3,97.88 L659.77,97.9 L660.24,97.92 L660.7,97.94 L661.17,97.96 L661.64,97.98 L662.11,98 L662.58,98.02 L663.04,98.04 L663.51,98.06 L663.98,98.08 L664.45,98.1 L664.92,98.12 L665.39,98.14 L665.86,98.16 L666.32,98.18 L666.79,98.2 L667.26,98.22 L667.73,98.23 L668.2,98.25 L668.66,98.27 L669.13,98.29 L669.6,98.31 L670.07,98.32 L670.54,98.34 L671.01,98.36 L671.48,98.38 L671.94,98.39 L672.41,98.41 L672.88,98.43 L673.35,98.44 L673.82,98.46 L674.28,98.48 L674.75,98.49 L675.22,98.51 L675.69,98.53 L676.16,98.54 L676.63,98.56 L677.1,98.58 L677.56,98.59 L678.03,98.61 L678.5,98.62" fill="none" stroke="#5c9c5c" stroke-width="1.5"/>
<path d="M538,139.57 L538.47,139.61 L538.94,139.64 L539.4,139.66 L539.87,139.69 L540.34,139.72 L540.81,139.74 L541.28,139.76 L541.75,139.78 L542.22,139.8 L542.68,139.82 L543.15,139.84 L543.62,139.86 L544.09,139.87 L544.56,139.89 L545.02,139.9 L545.49,139.91 L545.96,139.93 L546.43,139.94 L546.9,139.95 L547.37,139.96 L547.84,139.97 L548.3,139.98 L548.77,139.99 L549.24,140 L549.71,140.01 L550.18,140.02 L550.64,140.02 L551.11,140.03 L551.58,140.04 L552.05,140.04 L552.52,140.05 L552.99,140.06 L553.46,140.06 L553.92,140.07 L554.39,140.08 L554.86,140.08 L555.33,140.09 L555.8,140.09 L556.26,140.09 L556.73,140.1 L557.2,140.1 L557.67,140.11 L558.14,140 L558.61,139.19 L559.08,138.39 L559.54,137.59 L560.01,136.81 L560.48,136.03 L560.95,135.25 L561.42,134.49 L561.88,133.73 L562.35,132.97 L562.82,132.23 L563.29,131.49 L563.76,130.75 L564.23,130.03 L564.7,129.3 L565.16,128.59 L565.63,127.88 L566.1,127.18 L566.57,126.48 L567.04,125.79 L567.5,125.1 L567.97,124.42 L568.44,123.75 L568.91,123.08 L569.38,122.42 L569.85,121.76 L570.32,121.11 L570.78,120.47 L571.25,119.83 L571.72,119.2 L572.19,118.57 L572.66,117.94 L573.12,117.33 L573.59,116.71 L574.06,116.11 L574.53,115.5 L575,114.91 L575.47,114.32 L575.93,113.73 L576.4,113.15 L576.87,112.57 L577.34,112 L577.81,111.43 L578.28,110.87 L578.75,110.31 L579.21,109.76 L579.68,109.22 L580.15,108.67 L580.62,108.13 L581.09,107.6 L581.55,107.07 L582.02,106.55 L582.49,106.03 L582.96,105.51 L583.43,105 L583.9,104.5 L584.37,103.99 L584.83,103.5 L585.3,103 L585.77,102.51 L586.24,102.03 L586.71,101.55 L587.17,101.07 L587.64,100.6 L588.11,100.13 L588.58,99.66 L589.05,99.2 L589.52,98.75 L589.99,98.29 L590.45,97.85 L590.92,97.4 L591.39,96.96 L591.86,96.52 L592.33,96.09 L592.79,95.66 L593.26,95.23 L593.73,94.81 L594.2,94.39 L594.67,93.98 L595.14,93.56 L595.61,93.16 L596.07,92.75 L596.54,92.35 L597.01,91.95 L597.48,91.56 L597.95,91.17 L598.41,90.78 L598.88,90.4 L599.35,90.01 L599.82,89.64 L600.29,89.26 L600.76,88.89 L601.23,88.52 L601.69,88.16 L602.16,87.8 L602.63,87.44 L603.1,87.08 L603.57,86.73 L604.03,86.38 L604.5,86.03 L604.97,85.69 L605.44,85.35 L605.91,85.01 L606.38,84.68 L606.85,84.35 L607.31,84.02 L607.78,83.69 L608.25,83.37 L608.72,83.05 L609.19,82.73 L609.65,82.41 L610.12,82.1 L610.59,81.79 L611.06,81.49 L611.53,81.18 L612,80.88 L612.47,80.58 L612.93,80.28 L613.4,79.99 L613.87,79.7 L614.34,79.41 L614.81,79.12 L615.27,78.84 L615.74,78.56 L616.21,78.28 L616.68,78 L617.15,77.73 L617.62,77.46 L618.09,77.19 L618.55,77.11 L619.02,77.17 L619.49,77.23 L619.96,77.29 L620.43,77.35 L620.89,77.41 L621.36,77.47 L621.83,77.53 L622.3,77.59 L622.77,77.65 L623.24,77.71 L623.71,77.77 L624.17,77.83 L624.64,77.89 L625.11,77.94 L625.58,78 L626.05,78.06 L626.51,78.12 L626.98,78.17 L627.45,78.23 L627.92,78.28 L628.39,78.34 L628.86,78.4 L629.33,78.45 L629.79,78.51 L630.26,78.56 L630.73,78.61 L631.2,78.67 L631.67,78.72 L632.13,78.77 L632.6,78.83 L633.07,78.88 L633.54,78.93 L634.01,78.99 L634.48,79.04 L634.94,79.09 L635.41,79.14 L635.88,79.19 L636.35,79.24 L636.82,79.29 L637.29,79.34 L637.75,79.39 L638.22,79.44 L638.69,79.49 L639.16,79.54 L639.63,79.59 L640.1,79.64 L640.57,79.69 L641.03,79.74 L641.5,79.79 L641.97,79.83 L642.44,79.88 L642.91,79.93 L643.38,79.98 L643.84,80.02 L644.31,80.07 L644.78,80.12 L645.25,80.16 L645.72,80.21 L646.18,80.25 L646.65,80.3 L647.12,80.34 L647.59,80.39 L648.06,80.43 L648.53,80.48 L649,80.52 L649.46,80.57 L649.93,80.61 L650.4,80.65 L650.87,80.7 L651.34,80.74 L651.81,80.78 L652.27,80.83 L652.74,80.87 L653.21,80.91 L653.68,80.95 L654.15,80.99 L654.62,81.04 L655.08,81.08 L655.55,81.12 L656.02,81.16 L656.49,81.2 L656.96,81.24 L657.42,81.28 L657.89,81.32 L658.36,81.36 L658.83,81.4 L659.3,81.44 L659.77,81.48 L660.24,81.52 L660.7,81.56 L661.17,81.59 L661.64,81.63 L662.11,81.67 L662.58,81.71 L663.04,81.75 L663.51,81.78 L663.98,81.82 L664.45,81.86 L664.92,81.9 L665.39,81.93 L665.86,81.97 L666.32,82.01 L666.79,82.04 L667.26,82.08 L667.73,82.11 L668.2,82.15 L668.66,82.18 L669.13,82.22 L669.6,82.25 L670.07,82.29 L670.54,82.32 L671.01,82.36 L671.48,82.39 L671.94,82.43 L672.41,82.46 L672.88,82.5 L673.35,82.53 L673.82,82.56 L674.28,82.6 L674.75,82.63 L675.22,82.66 L675.69,82.69 L676.16,82.73 L676.63,82.76 L677.1,82.79 L677.56,82.82 L678.03,82.86 L678.5,82.89" fill="none" stroke="#ff40ff" stroke-width="1.5"/>
<path d="M538,141.73 L538.47,141.63 L538.94,141.54 L539.4,141.45 L539.87,141.37 L540.34,141.3 L540.81,141.22 L541.28,141.16 L541.75,141.1 L542.22,141.04 L542.68,140.98 L543.15,140.93 L543.62,140.88 L544.09,140.83 L544.56,140.79 L545.02,140.75 L545.49,140.71 L545.96,140.67 L546.43,140.63 L546.9,140.6 L547.37,140.57 L547.84,140.54 L548.3,140.51 L548.77,140.48 L549.24,140.45 L549.71,140.43 L550.18,140.4 L550.64,140.38 L551.11,140.35 L551.58,140.33 L552.05,140.31 L552.52,140.29 L552.99,140.27 L553.46,140.26 L553.92,140.24 L554.39,140.22 L554.86,140.21 L555.33,140.19 L555.8,140.18 L556.26,140.16 L556.73,140.15 L557.2,140.14 L557.67,140.13 L558.14,139.92 L558.61,138.57 L559.08,137.23 L559.54,135.92 L560.01,134.62 L560.48,133.33 L560.95,132.06 L561.42,130.81 L561.88,129.58 L562.35,128.36 L562.82,127.16 L563.29,125.97 L563.76,124.79 L564.23,123.64 L564.7,122.49 L565.16,121.36 L565.63,120.25 L566.1,119.15 L566.57,118.06 L567.04,116.99 L567.5,115.93 L567.97,114.89 L568.44,113.85 L568.91,112.83 L569.38,111.83 L569.85,110.84 L570.32,109.86 L570.78,108.89 L571.25,107.93 L571.72,106.99 L572.19,106.06 L572.66,105.14 L573.12,104.23 L573.59,103.34 L574.06,102.45 L574.53,101.58 L575,100.71 L575.47,99.86 L575.93,99.02 L576.4,98.19 L576.87,97.37 L577.34,96.57 L577.81,95.77 L578.28,94.98 L578.75,94.2 L579.21,93.43 L579.68,92.67 L580.15,91.93 L580.62,91.19 L581.09,90.46 L581.55,89.74 L582.02,89.03 L582.49,88.32 L582.96,87.63 L583.43,86.95 L583.9,86.27 L584.37,85.6 L584.83,84.94 L585.3,84.29 L585.77,83.65 L586.24,83.02 L586.71,82.39 L587.17,81.78 L587.64,81.17 L588.11,80.56 L588.58,79.97 L589.05,79.38 L589.52,78.8 L589.99,78.23 L590.45,77.67 L590.92,77.11 L591.39,76.56 L591.86,76.02 L592.33,75.48 L592.79,74.95 L593.26,74.43 L593.73,73.91 L594.2,73.4 L594.67,72.9 L595.14,72.4 L595.61,71.91 L596.07,71.43 L596.54,70.95 L597.01,70.48 L597.48,70.01 L597.95,69.55 L598.41,69.1 L598.88,68.65 L599.35,68.21 L599.82,67.77 L600.29,67.34 L600.76,66.92 L601.23,66.5 L601.69,66.08 L602.16,65.67 L602.63,65.27 L603.1,64.87 L603.57,64.47 L604.03,64.08 L604.5,63.7 L604.97,63.32 L605.44,62.95 L605.91,62.58 L606.38,62.21 L606.85,61.85 L607.31,61.5 L607.78,61.15 L608.25,60.8 L608.72,60.46 L609.19,60.12 L609.65,59.78 L610.12,59.46 L610.59,59.13 L611.06,58.81 L611.53,58.49 L612,58.18 L612.47,57.87 L612.93,57.57 L613.4,57.26 L613.87,56.97 L614.34,56.67 L614.81,56.38 L615.27,56.1 L615.74,55.82 L616.21,55.54 L616.68,55.26 L617.15,54.99 L617.62,54.72 L618.09,54.46 L618.55,54.42 L619.02,54.55 L619.49,54.67 L619.96,54.8 L620.43,54.92 L620.89,55.05 L621.36,55.17 L621.83,55.29 L622.3,55.41 L622.77,55.54 L623.24,55.66 L623.71,55.78 L624.17,55.9 L624.64,56.01 L625.11,56.13 L625.58,56.25 L626.05,56.36 L626.51,56.48 L626.98,56.59 L627.45,56.71 L627.92,56.82 L628.39,56.93 L628.86,57.05 L629.33,57.16 L629.79,57.27 L630.26,57.38 L630.73,57.49 L631.2,57.6 L631.67,57.7 L632.13,57.81 L632.6,57.92 L633.07,58.02 L633.54,58.13 L634.01,58.23 L634.48,58.34 L634.94,58.44 L635.41,58.54 L635.88,58.65 L636.35,58.75 L636.82,58.85 L637.29,58.95 L637.75,59.05 L638.22,59.15 L638.69,59.25 L639.16,59.35 L639.63,59.44 L640.1,59.54 L640.57,59.64 L641.03,59.73 L641.5,59.83 L641.97,59.92 L642.44,60.02 L642.91,60.11 L643.38,60.2 L643.84,60.29 L644.31,60.39 L644.78,60.48 L645.25,60.57 L645.72,60.66 L646.18,60.75 L646.65,60.84 L647.12,60.92 L647.59,61.01 L648.06,61.1 L648.53,61.19 L649,61.27 L649.46,61.36 L649.93,61.44 L650.4,61.53 L650.87,61.61 L651.34,61.7 L651.81,61.78 L652.27,61.86 L652.74,61.94 L653.21,62.03 L653.68,62.11 L654.15,62.19 L654.62,62.27 L655.08,62.35 L655.55,62.43 L656.02,62.51 L656.49,62.58 L656.96,62.66 L657.42,62.74 L657.89,62.82 L658.36,62.89 L658.83,62.97 L659.3,63.04 L659.77,63.12 L660.24,63.19 L660.7,63.27 L661.17,63.34 L661.64,63.41 L662.11,63.49 L662.58,63.56 L663.04,63.63 L663.51,63.7 L663.98,63.77 L664.45,63.84 L664.92,63.91 L665.39,63.98 L665.86,64.05 L666.32,64.12 L666.79,64.19 L667.26,64.26 L667.73,64.33 L668.2,64.39 L668.66,64.46 L669.13,64.53 L669.6,64.59 L670.07,64.66 L670.54,64.72 L671.01,64.79 L671.48,64.85 L671.94,64.92 L672.41,64.98 L672.88,65.04 L673.35,65.11 L673.82,65.17 L674.28,65.23 L674.75,65.29 L675.22,65.36 L675.69,65.42 L676.16,65.48 L676.63,65.54 L677.1,65.6 L677.56,65.66 L678.03,65.72 L678.5,65.78" fill="none" stroke="#3a3ae0" stroke-width="1.5"/>
<path d="M538,138.5 L538.47,138.59 L538.94,138.69 L539.4,138.77 L539.87,138.85 L540.34,138.93 L540.81,139 L541.28,139.07 L541.75,139.13 L542.22,139.19 L542.68,139.24 L543.15,139.29 L543.62,139.34 L544.09,139.39 L544.56,139.43 L545.02,139.48 L545.49,139.52 L545.96,139.55 L546.43,139.59 L546.9,139.62 L547.37,139.66 L547.84,139.69 L548.3,139.72 L548.77,139.74 L549.24,139.77 L549.71,139.8 L550.18,139.82 L550.64,139.85 L551.11,139.87 L551.58,139.89 L552.05,139.91 L552.52,139.93 L552.99,139.95 L553.46,139.97 L553.92,139.99 L554.39,140 L554.86,140.02 L555.33,140.03 L555.8,140.05 L556.26,140.06 L556.73,140.07 L557.2,140.09 L557.67,140.1 L558.14,139.78 L558.61,137.51 L559.08,135.27 L559.54,133.06 L560.01,130.89 L560.48,128.75 L560.95,126.65 L561.42,124.58 L561.88,122.54 L562.35,120.54 L562.82,118.56 L563.29,116.62 L563.76,114.71 L564.23,112.83 L564.7,110.98 L565.16,109.15 L565.63,107.36 L566.1,105.59 L566.57,103.85 L567.04,102.14 L567.5,100.46 L567.97,98.8 L568.44,97.17 L568.91,95.56 L569.38,93.98 L569.85,92.43 L570.32,90.9 L570.78,89.39 L571.25,87.91 L571.72,86.45 L572.19,85.01 L572.66,83.6 L573.12,82.2 L573.59,80.83 L574.06,79.48 L574.53,78.16 L575,76.85 L575.47,75.57 L575.93,74.3 L576.4,73.05 L576.87,71.83 L577.34,70.62 L577.81,69.43 L578.28,68.26 L578.75,67.11 L579.21,65.98 L579.68,64.87 L580.15,63.77 L580.62,62.69 L581.09,61.63 L581.55,60.58 L582.02,59.55 L582.49,58.54 L582.96,57.54 L583.43,56.56 L583.9,55.59 L584.37,54.64 L584.83,53.7 L585.3,52.78 L585.77,51.87 L586.24,50.98 L586.71,50.1 L587.17,49.24 L587.64,48.39 L588.11,47.55 L588.58,46.72 L589.05,45.91 L589.52,45.11 L589.99,44.33 L590.45,43.55 L590.92,42.79 L591.39,42.04 L591.86,41.3 L592.33,40.58 L592.79,39.86 L593.26,39.16 L593.73,38.47 L594.2,37.78 L594.67,37.11 L595.14,36.45 L595.61,35.8 L596.07,35.16 L596.54,34.53 L597.01,33.91 L597.48,33.3 L597.95,32.7 L598.41,32.11 L598.88,31.53 L599.35,30.96 L599.82,30.4 L600.29,29.84 L600.76,29.29 L601.23,28.76 L601.69,28.23 L602.16,27.71 L602.63,27.2 L603.1,26.69 L603.57,26.19 L604.03,25.71 L604.5,25.23 L604.97,24.75 L605.44,24.29 L605.91,23.83 L606.38,23.38 L606.85,22.93 L607.31,22.5 L607.78,22.07 L608.25,21.64 L608.72,21.22 L609.19,20.81 L609.65,20.41 L610.12,20.01 L610.59,19.62 L611.06,19.24 L611.53,18.86 L612,18.49 L612.47,18.12 L612.93,17.76 L613.4,17.4 L613.87,17.05 L614.34,16.71 L614.81,16.37 L615.27,16.03 L615.74,15.7 L616.21,15.38 L616.68,15.06 L617.15,14.75 L617.62,14.44 L618.09,14.14 L618.55,14.19 L619.02,14.51 L619.49,14.82 L619.96,15.13 L620.43,15.44 L620.89,15.74 L621.36,16.04 L621.83,16.34 L622.3,16.63 L622.77,16.92 L623.24,17.21 L623.71,17.5 L624.17,17.78 L624.64,18.06 L625.11,18.34 L625.58,18.61 L626.05,18.88 L626.51,19.15 L626.98,19.42 L627.45,19.68 L627.92,19.94 L628.39,20.2 L628.86,20.45 L629.33,20.71 L629.79,20.96 L630.26,21.21 L630.73,21.45 L631.2,21.7 L631.67,21.94 L632.13,22.17 L632.6,22.41 L633.07,22.64 L633.54,22.88 L634.01,23.1 L634.48,23.33 L634.94,23.56 L635.41,23.78 L635.88,24 L636.35,24.22 L636.82,24.43 L637.29,24.64 L637.75,24.86 L638.22,25.07 L638.69,25.27 L639.16,25.48 L639.63,25.68 L640.1,25.88 L640.57,26.08 L641.03,26.28 L641.5,26.47 L641.97,26.67 L642.44,26.86 L642.91,27.05 L643.38,27.23 L643.84,27.42 L644.31,27.6 L644.78,27.78 L645.25,27.96 L645.72,28.14 L646.18,28.32 L646.65,28.49 L647.12,28.67 L647.59,28.84 L648.06,29.01 L648.53,29.17 L649,29.34 L649.46,29.51 L649.93,29.67 L650.4,29.83 L650.87,29.99 L651.34,30.15 L651.81,30.3 L652.27,30.46 L652.74,30.61 L653.21,30.76 L653.68,30.91 L654.15,31.06 L654.62,31.21 L655.08,31.36 L655.55,31.5 L656.02,31.64 L656.49,31.78 L656.96,31.92 L657.42,32.06 L657.89,32.2 L658.36,32.34 L658.83,32.47 L659.3,32.6 L659.77,32.74 L660.24,32.87 L660.7,33 L661.17,33.12 L661.64,33.25 L662.11,33.38 L662.58,33.5 L663.04,33.62 L663.51,33.74 L663.98,33.86 L664.45,33.98 L664.92,34.1 L665.39,34.22 L665.86,34.33 L666.32,34.45 L666.79,34.56 L667.26,34.68 L667.73,34.79 L668.2,34.9 L668.66,35.01 L669.13,35.11 L669.6,35.22 L670.07,35.33 L670.54,35.43 L671.01,35.53 L671.48,35.64 L671.94,35.74 L672.41,35.84 L672.88,35.94 L673.35,36.04 L673.82,36.13 L674.28,36.23 L674.75,36.33 L675.22,36.42 L675.69,36.52 L676.16,36.61 L676.63,36.7 L677.1,36.79 L677.56,36.88 L678.03,36.97 L678.5,37.06" fill="none" stroke="#3cf02c" stroke-width="1.5"/>
</g>
<rect x="538" y="5.4" width="140.5" height="140.1" fill="none" stroke="#333" stroke-width="1.0"/>
<text x="660.3" y="23" font-size="19.5" text-anchor="start" fill="#000">F</text>
<text x="645.9" y="140.8" font-size="7.7" text-anchor="start" fill="#222">NB_6B1</text>
<line x1="541.3" y1="12.2" x2="553.7" y2="12.2" stroke="#5c9c5c" stroke-width="1.4"/>
<text x="556.9" y="14.2" font-size="5.8" text-anchor="start" fill="#222">15.8 nM</text>
<line x1="541.3" y1="20.25" x2="553.7" y2="20.25" stroke="#ff40ff" stroke-width="1.4"/>
<text x="556.9" y="22.25" font-size="5.8" text-anchor="start" fill="#222">23.7 nM</text>
<line x1="541.3" y1="28.3" x2="553.7" y2="28.3" stroke="#3a3ae0" stroke-width="1.4"/>
<text x="556.9" y="30.3" font-size="5.8" text-anchor="start" fill="#222">35.5 nM</text>
<line x1="541.3" y1="36.35" x2="553.7" y2="36.35" stroke="#3ef02e" stroke-width="1.4"/>
<text x="556.9" y="38.35" font-size="5.8" text-anchor="start" fill="#222">53.3 nM</text>
<line x1="541.3" y1="44.4" x2="553.7" y2="44.4" stroke="#888" stroke-width="0.9"/>
<text x="556.9" y="46.4" font-size="5.8" text-anchor="start" fill="#222">Global fitting</text>
<line x1="375.1" y1="298.72" x2="377.1" y2="298.72" stroke="#333" stroke-width="0.7"/>
<text x="373.1" y="301.32" font-size="7.8" text-anchor="end" fill="#2a2a2a" stroke="#222" stroke-width="0.12">0.0</text>
<line x1="375.1" y1="279.3" x2="377.1" y2="279.3" stroke="#333" stroke-width="0.7"/>
<text x="373.1" y="281.9" font-size="7.8" text-anchor="end" fill="#2a2a2a" stroke="#222" stroke-width="0.12">0.5</text>
<line x1="375.1" y1="259.88" x2="377.1" y2="259.88" stroke="#333" stroke-width="0.7"/>
<text x="373.1" y="262.48" font-size="7.8" text-anchor="end" fill="#2a2a2a" stroke="#222" stroke-width="0.12">1.0</text>
<line x1="375.1" y1="240.46" x2="377.1" y2="240.46" stroke="#333" stroke-width="0.7"/>
<text x="373.1" y="243.06" font-size="7.8" text-anchor="end" fill="#2a2a2a" stroke="#222" stroke-width="0.12">1.5</text>
<line x1="375.1" y1="221.04" x2="377.1" y2="221.04" stroke="#333" stroke-width="0.7"/>
<text x="373.1" y="223.64" font-size="7.8" text-anchor="end" fill="#2a2a2a" stroke="#222" stroke-width="0.12">2.0</text>
<line x1="375.1" y1="201.62" x2="377.1" y2="201.62" stroke="#333" stroke-width="0.7"/>
<text x="373.1" y="204.22" font-size="7.8" text-anchor="end" fill="#2a2a2a" stroke="#222" stroke-width="0.12">2.5</text>
<line x1="375.1" y1="182.2" x2="377.1" y2="182.2" stroke="#333" stroke-width="0.7"/>
<text x="373.1" y="184.8" font-size="7.8" text-anchor="end" fill="#2a2a2a" stroke="#222" stroke-width="0.12">3.0</text>
<line x1="375.1" y1="162.78" x2="377.1" y2="162.78" stroke="#333" stroke-width="0.7"/>
<text x="373.1" y="165.38" font-size="7.8" text-anchor="end" fill="#2a2a2a" stroke="#222" stroke-width="0.12">3.5</text>
<line x1="375.1" y1="289.01" x2="376.4" y2="289.01" stroke="#555" stroke-width="0.5"/>
<line x1="375.1" y1="269.59" x2="376.4" y2="269.59" stroke="#555" stroke-width="0.5"/>
<line x1="375.1" y1="250.17" x2="376.4" y2="250.17" stroke="#555" stroke-width="0.5"/>
<line x1="375.1" y1="230.75" x2="376.4" y2="230.75" stroke="#555" stroke-width="0.5"/>
<line x1="375.1" y1="211.33" x2="376.4" y2="211.33" stroke="#555" stroke-width="0.5"/>
<line x1="375.1" y1="191.91" x2="376.4" y2="191.91" stroke="#555" stroke-width="0.5"/>
<line x1="375.1" y1="172.49" x2="376.4" y2="172.49" stroke="#555" stroke-width="0.5"/>
<line x1="375.1" y1="302.6" x2="375.1" y2="300.6" stroke="#333" stroke-width="0.7"/>
<text x="375.1" y="312" font-size="7.7" text-anchor="middle" fill="#2a2a2a" stroke="#222" stroke-width="0.12">0</text>
<line x1="403.12" y1="302.6" x2="403.12" y2="300.6" stroke="#333" stroke-width="0.7"/>
<text x="403.12" y="312" font-size="7.7" text-anchor="middle" fill="#2a2a2a" stroke="#222" stroke-width="0.12">100</text>
<line x1="431.14" y1="302.6" x2="431.14" y2="300.6" stroke="#333" stroke-width="0.7"/>
<text x="431.14" y="312" font-size="7.7" text-anchor="middle" fill="#2a2a2a" stroke="#222" stroke-width="0.12">200</text>
<line x1="459.16" y1="302.6" x2="459.16" y2="300.6" stroke="#333" stroke-width="0.7"/>
<text x="459.16" y="312" font-size="7.7" text-anchor="middle" fill="#2a2a2a" stroke="#222" stroke-width="0.12">300</text>
<line x1="487.18" y1="302.6" x2="487.18" y2="300.6" stroke="#333" stroke-width="0.7"/>
<text x="487.18" y="312" font-size="7.7" text-anchor="middle" fill="#2a2a2a" stroke="#222" stroke-width="0.12">400</text>
<line x1="515.2" y1="302.6" x2="515.2" y2="300.6" stroke="#333" stroke-width="0.7"/>
<text x="515.2" y="312" font-size="7.7" text-anchor="middle" fill="#2a2a2a" stroke="#222" stroke-width="0.12">500</text>
<line x1="389.11" y1="302.6" x2="389.11" y2="301.3" stroke="#555" stroke-width="0.5"/>
<line x1="417.13" y1="302.6" x2="417.13" y2="301.3" stroke="#555" stroke-width="0.5"/>
<line x1="445.15" y1="302.6" x2="445.15" y2="301.3" stroke="#555" stroke-width="0.5"/>
<line x1="473.17" y1="302.6" x2="473.17" y2="301.3" stroke="#555" stroke-width="0.5"/>
<line x1="501.19" y1="302.6" x2="501.19" y2="301.3" stroke="#555" stroke-width="0.5"/>
<clipPath id="cG"><rect x="375.1" y="162" width="140.1" height="140.6"/></clipPath>
<g clip-path="url(#cG)">
<path d="M403.12,298.72 L403.68,298.52 L404.24,298.33 L404.8,298.14 L405.36,297.96 L405.92,297.77 L406.48,297.58 L407.04,297.39 L407.6,297.2 L408.16,297.02 L408.72,296.83 L409.28,296.65 L409.84,296.46 L410.41,296.28 L410.97,296.1 L411.53,295.92 L412.09,295.73 L412.65,295.55 L413.21,295.37 L413.77,295.19 L414.33,295.01 L414.89,294.84 L415.45,294.66 L416.01,294.48 L416.57,294.3 L417.13,294.13 L417.69,293.95 L418.25,293.78 L418.81,293.6 L419.37,293.43 L419.93,293.25 L420.49,293.08 L421.05,292.91 L421.61,292.74 L422.17,292.57 L422.73,292.4 L423.29,292.23 L423.85,292.06 L424.42,291.89 L424.98,291.72 L425.54,291.55 L426.1,291.39 L426.66,291.22 L427.22,291.06 L427.78,290.89 L428.34,290.73 L428.9,290.56 L429.46,290.4 L430.02,290.24 L430.58,290.07 L431.14,289.91 L431.7,289.75 L432.26,289.59 L432.82,289.43 L433.38,289.27 L433.94,289.11 L434.5,288.95 L435.06,288.79 L435.62,288.64 L436.18,288.48 L436.74,288.32 L437.3,288.17 L437.86,288.01 L438.43,287.86 L438.99,287.7 L439.55,287.55 L440.11,287.4 L440.67,287.24 L441.23,287.09 L441.79,286.94 L442.35,286.79 L442.91,286.64 L443.47,286.49 L444.03,286.34 L444.59,286.19 L445.15,286.04 L445.71,285.89 L446.27,285.74 L446.83,285.6 L447.39,285.45 L447.95,285.3 L448.51,285.16 L449.07,285.01 L449.63,284.87 L450.19,284.72 L450.75,284.58 L451.31,284.44 L451.87,284.3 L452.44,284.15 L453,284.01 L453.56,283.87 L454.12,283.73 L454.68,283.59 L455.24,283.45 L455.8,283.31 L456.36,283.17 L456.92,283.03 L457.48,282.89 L458.04,282.76 L458.6,282.62 L459.16,282.48 L459.72,282.48 L460.28,282.48 L460.84,282.48 L461.4,282.48 L461.96,282.48 L462.52,282.47 L463.08,282.47 L463.64,282.47 L464.2,282.47 L464.76,282.47 L465.32,282.47 L465.88,282.47 L466.45,282.47 L467.01,282.46 L467.57,282.46 L468.13,282.46 L468.69,282.46 L469.25,282.46 L469.81,282.46 L470.37,282.46 L470.93,282.46 L471.49,282.46 L472.05,282.45 L472.61,282.45 L473.17,282.45 L473.73,282.45 L474.29,282.45 L474.85,282.45 L475.41,282.45 L475.97,282.45 L476.53,282.45 L477.09,282.45 L477.65,282.44 L478.21,282.44 L478.77,282.44 L479.33,282.44 L479.89,282.44 L480.46,282.44 L481.02,282.44 L481.58,282.44 L482.14,282.44 L482.7,282.44 L483.26,282.44 L483.82,282.44 L484.38,282.44 L484.94,282.44 L485.5,282.43 L486.06,282.43 L486.62,282.43 L487.18,282.43 L487.74,282.43 L488.3,282.43 L488.86,282.43 L489.42,282.43 L489.98,282.43 L490.54,282.43 L491.1,282.43 L491.66,282.43 L492.22,282.43 L492.78,282.43 L493.34,282.43 L493.9,282.43 L494.47,282.43 L495.03,282.43 L495.59,282.43 L496.15,282.42 L496.71,282.42 L497.27,282.42 L497.83,282.42 L498.39,282.42 L498.95,282.42 L499.51,282.42 L500.07,282.42 L500.63,282.42 L501.19,282.42 L501.75,282.42 L502.31,282.42 L502.87,282.42 L503.43,282.42 L503.99,282.42 L504.55,282.42 L505.11,282.42 L505.67,282.42 L506.23,282.42 L506.79,282.42 L507.35,282.42 L507.91,282.42 L508.48,282.42 L509.04,282.42 L509.6,282.42 L510.16,282.42 L510.72,282.42 L511.28,282.42 L511.84,282.42 L512.4,282.42 L512.96,282.42 L513.52,282.41 L514.08,282.41 L514.64,282.41 L515.2,282.41" fill="none" stroke="#404040" stroke-width="0.8"/>
<path d="M403.12,298.72 L403.68,298.29 L404.24,297.87 L404.8,297.46 L405.36,297.05 L405.92,296.65 L406.48,296.25 L407.04,295.86 L407.6,295.47 L408.16,295.09 L408.72,294.72 L409.28,294.34 L409.84,293.98 L410.41,293.62 L410.97,293.26 L411.53,292.91 L412.09,292.56 L412.65,292.22 L413.21,291.88 L413.77,291.55 L414.33,291.22 L414.89,290.9 L415.45,290.58 L416.01,290.27 L416.57,289.95 L417.13,289.65 L417.69,289.35 L418.25,289.05 L418.81,288.75 L419.37,288.46 L419.93,288.18 L420.49,287.89 L421.05,287.61 L421.61,287.34 L422.17,287.07 L422.73,286.8 L423.29,286.54 L423.85,286.28 L424.42,286.02 L424.98,285.77 L425.54,285.52 L426.1,285.27 L426.66,285.03 L427.22,284.79 L427.78,284.55 L428.34,284.32 L428.9,284.09 L429.46,283.86 L430.02,283.63 L430.58,283.41 L431.14,283.19 L431.7,282.98 L432.26,282.77 L432.82,282.56 L433.38,282.35 L433.94,282.15 L434.5,281.95 L435.06,281.75 L435.62,281.55 L436.18,281.36 L436.74,281.17 L437.3,280.98 L437.86,280.79 L438.43,280.61 L438.99,280.43 L439.55,280.25 L440.11,280.08 L440.67,279.9 L441.23,279.73 L441.79,279.56 L442.35,279.4 L442.91,279.23 L443.47,279.07 L444.03,278.91 L444.59,278.76 L445.15,278.6 L445.71,278.45 L446.27,278.3 L446.83,278.15 L447.39,278 L447.95,277.85 L448.51,277.71 L449.07,277.57 L449.63,277.43 L450.19,277.29 L450.75,277.16 L451.31,277.02 L451.87,276.89 L452.44,276.76 L453,276.63 L453.56,276.51 L454.12,276.38 L454.68,276.26 L455.24,276.14 L455.8,276.02 L456.36,275.9 L456.92,275.78 L457.48,275.67 L458.04,275.55 L458.6,275.44 L459.16,275.33 L459.72,275.36 L460.28,275.38 L460.84,275.4 L461.4,275.43 L461.96,275.45 L462.52,275.47 L463.08,275.49 L463.64,275.51 L464.2,275.54 L464.76,275.56 L465.32,275.58 L465.88,275.6 L466.45,275.62 L467.01,275.63 L467.57,275.65 L468.13,275.67 L468.69,275.69 L469.25,275.71 L469.81,275.72 L470.37,275.74 L470.93,275.76 L471.49,275.77 L472.05,275.79 L472.61,275.81 L473.17,275.82 L473.73,275.84 L474.29,275.85 L474.85,275.87 L475.41,275.88 L475.97,275.89 L476.53,275.91 L477.09,275.92 L477.65,275.93 L478.21,275.95 L478.77,275.96 L479.33,275.97 L479.89,275.98 L480.46,275.99 L481.02,276.01 L481.58,276.02 L482.14,276.03 L482.7,276.04 L483.26,276.05 L483.82,276.06 L484.38,276.07 L484.94,276.08 L485.5,276.09 L486.06,276.1 L486.62,276.11 L487.18,276.12 L487.74,276.13 L488.3,276.14 L488.86,276.15 L489.42,276.15 L489.98,276.16 L490.54,276.17 L491.1,276.18 L491.66,276.19 L492.22,276.19 L492.78,276.2 L493.34,276.21 L493.9,276.22 L494.47,276.22 L495.03,276.23 L495.59,276.24 L496.15,276.24 L496.71,276.25 L497.27,276.26 L497.83,276.26 L498.39,276.27 L498.95,276.28 L499.51,276.28 L500.07,276.29 L500.63,276.29 L501.19,276.3 L501.75,276.3 L502.31,276.31 L502.87,276.32 L503.43,276.32 L503.99,276.33 L504.55,276.33 L505.11,276.34 L505.67,276.34 L506.23,276.34 L506.79,276.35 L507.35,276.35 L507.91,276.36 L508.48,276.36 L509.04,276.37 L509.6,276.37 L510.16,276.38 L510.72,276.38 L511.28,276.38 L511.84,276.39 L512.4,276.39 L512.96,276.39 L513.52,276.4 L514.08,276.4 L514.64,276.41 L515.2,276.41" fill="none" stroke="#404040" stroke-width="0.8"/>
<path d="M403.12,298.72 L403.68,298 L404.24,297.29 L404.8,296.59 L405.36,295.9 L405.92,295.22 L406.48,294.55 L407.04,293.88 L407.6,293.23 L408.16,292.59 L408.72,291.95 L409.28,291.32 L409.84,290.7 L410.41,290.09 L410.97,289.49 L411.53,288.9 L412.09,288.31 L412.65,287.73 L413.21,287.16 L413.77,286.6 L414.33,286.04 L414.89,285.5 L415.45,284.96 L416.01,284.42 L416.57,283.9 L417.13,283.38 L417.69,282.87 L418.25,282.36 L418.81,281.87 L419.37,281.37 L419.93,280.89 L420.49,280.41 L421.05,279.94 L421.61,279.47 L422.17,279.02 L422.73,278.56 L423.29,278.12 L423.85,277.68 L424.42,277.24 L424.98,276.81 L425.54,276.39 L426.1,275.97 L426.66,275.56 L427.22,275.16 L427.78,274.75 L428.34,274.36 L428.9,273.97 L429.46,273.59 L430.02,273.21 L430.58,272.83 L431.14,272.46 L431.7,272.1 L432.26,271.74 L432.82,271.39 L433.38,271.04 L433.94,270.69 L434.5,270.35 L435.06,270.01 L435.62,269.68 L436.18,269.36 L436.74,269.04 L437.3,268.72 L437.86,268.4 L438.43,268.09 L438.99,267.79 L439.55,267.49 L440.11,267.19 L440.67,266.9 L441.23,266.61 L441.79,266.32 L442.35,266.04 L442.91,265.77 L443.47,265.49 L444.03,265.22 L444.59,264.96 L445.15,264.69 L445.71,264.43 L446.27,264.18 L446.83,263.93 L447.39,263.68 L447.95,263.43 L448.51,263.19 L449.07,262.95 L449.63,262.71 L450.19,262.48 L450.75,262.25 L451.31,262.03 L451.87,261.8 L452.44,261.58 L453,261.37 L453.56,261.15 L454.12,260.94 L454.68,260.73 L455.24,260.53 L455.8,260.32 L456.36,260.12 L456.92,259.93 L457.48,259.73 L458.04,259.54 L458.6,259.35 L459.16,259.16 L459.72,259.23 L460.28,259.29 L460.84,259.35 L461.4,259.41 L461.96,259.46 L462.52,259.52 L463.08,259.57 L463.64,259.63 L464.2,259.68 L464.76,259.73 L465.32,259.78 L465.88,259.83 L466.45,259.87 L467.01,259.92 L467.57,259.97 L468.13,260.01 L468.69,260.05 L469.25,260.09 L469.81,260.14 L470.37,260.17 L470.93,260.21 L471.49,260.25 L472.05,260.29 L472.61,260.33 L473.17,260.36 L473.73,260.4 L474.29,260.43 L474.85,260.46 L475.41,260.49 L475.97,260.53 L476.53,260.56 L477.09,260.59 L477.65,260.62 L478.21,260.64 L478.77,260.67 L479.33,260.7 L479.89,260.73 L480.46,260.75 L481.02,260.78 L481.58,260.8 L482.14,260.83 L482.7,260.85 L483.26,260.87 L483.82,260.89 L484.38,260.92 L484.94,260.94 L485.5,260.96 L486.06,260.98 L486.62,261 L487.18,261.02 L487.74,261.04 L488.3,261.06 L488.86,261.07 L489.42,261.09 L489.98,261.11 L490.54,261.13 L491.1,261.14 L491.66,261.16 L492.22,261.17 L492.78,261.19 L493.34,261.2 L493.9,261.22 L494.47,261.23 L495.03,261.25 L495.59,261.26 L496.15,261.27 L496.71,261.29 L497.27,261.3 L497.83,261.31 L498.39,261.32 L498.95,261.34 L499.51,261.35 L500.07,261.36 L500.63,261.37 L501.19,261.38 L501.75,261.39 L502.31,261.4 L502.87,261.41 L503.43,261.42 L503.99,261.43 L504.55,261.44 L505.11,261.45 L505.67,261.46 L506.23,261.46 L506.79,261.47 L507.35,261.48 L507.91,261.49 L508.48,261.5 L509.04,261.5 L509.6,261.51 L510.16,261.52 L510.72,261.53 L511.28,261.53 L511.84,261.54 L512.4,261.55 L512.96,261.55 L513.52,261.56 L514.08,261.57 L514.64,261.57 L515.2,261.58" fill="none" stroke="#404040" stroke-width="0.8"/>
<path d="M403.12,298.72 L403.68,297.7 L404.24,296.7 L404.8,295.71 L405.36,294.73 L405.92,293.75 L406.48,292.79 L407.04,291.84 L407.6,290.89 L408.16,289.96 L408.72,289.04 L409.28,288.12 L409.84,287.22 L410.41,286.32 L410.97,285.43 L411.53,284.55 L412.09,283.69 L412.65,282.83 L413.21,281.97 L413.77,281.13 L414.33,280.3 L414.89,279.47 L415.45,278.65 L416.01,277.84 L416.57,277.04 L417.13,276.25 L417.69,275.46 L418.25,274.69 L418.81,273.92 L419.37,273.16 L419.93,272.4 L420.49,271.66 L421.05,270.92 L421.61,270.19 L422.17,269.46 L422.73,268.75 L423.29,268.04 L423.85,267.34 L424.42,266.64 L424.98,265.96 L425.54,265.27 L426.1,264.6 L426.66,263.93 L427.22,263.27 L427.78,262.62 L428.34,261.97 L428.9,261.33 L429.46,260.7 L430.02,260.07 L430.58,259.45 L431.14,258.84 L431.7,258.23 L432.26,257.63 L432.82,257.03 L433.38,256.44 L433.94,255.86 L434.5,255.28 L435.06,254.71 L435.62,254.14 L436.18,253.58 L436.74,253.03 L437.3,252.48 L437.86,251.93 L438.43,251.39 L438.99,250.86 L439.55,250.33 L440.11,249.81 L440.67,249.3 L441.23,248.78 L441.79,248.28 L442.35,247.78 L442.91,247.28 L443.47,246.79 L444.03,246.3 L444.59,245.82 L445.15,245.35 L445.71,244.88 L446.27,244.41 L446.83,243.95 L447.39,243.49 L447.95,243.04 L448.51,242.59 L449.07,242.15 L449.63,241.71 L450.19,241.27 L450.75,240.84 L451.31,240.42 L451.87,240 L452.44,239.58 L453,239.17 L453.56,238.76 L454.12,238.35 L454.68,237.95 L455.24,237.56 L455.8,237.16 L456.36,236.78 L456.92,236.39 L457.48,236.01 L458.04,235.63 L458.6,235.26 L459.16,234.89 L459.72,234.95 L460.28,235 L460.84,235.06 L461.4,235.11 L461.96,235.17 L462.52,235.22 L463.08,235.27 L463.64,235.33 L464.2,235.38 L464.76,235.43 L465.32,235.49 L465.88,235.54 L466.45,235.59 L467.01,235.65 L467.57,235.7 L468.13,235.75 L468.69,235.8 L469.25,235.86 L469.81,235.91 L470.37,235.96 L470.93,236.01 L471.49,236.06 L472.05,236.11 L472.61,236.16 L473.17,236.22 L473.73,236.27 L474.29,236.32 L474.85,236.37 L475.41,236.42 L475.97,236.47 L476.53,236.52 L477.09,236.57 L477.65,236.62 L478.21,236.67 L478.77,236.72 L479.33,236.77 L479.89,236.81 L480.46,236.86 L481.02,236.91 L481.58,236.96 L482.14,237.01 L482.7,237.06 L483.26,237.1 L483.82,237.15 L484.38,237.2 L484.94,237.25 L485.5,237.3 L486.06,237.34 L486.62,237.39 L487.18,237.44 L487.74,237.48 L488.3,237.53 L488.86,237.58 L489.42,237.62 L489.98,237.67 L490.54,237.72 L491.1,237.76 L491.66,237.81 L492.22,237.85 L492.78,237.9 L493.34,237.94 L493.9,237.99 L494.47,238.04 L495.03,238.08 L495.59,238.12 L496.15,238.17 L496.71,238.21 L497.27,238.26 L497.83,238.3 L498.39,238.35 L498.95,238.39 L499.51,238.43 L500.07,238.48 L500.63,238.52 L501.19,238.57 L501.75,238.61 L502.31,238.65 L502.87,238.69 L503.43,238.74 L503.99,238.78 L504.55,238.82 L505.11,238.87 L505.67,238.91 L506.23,238.95 L506.79,238.99 L507.35,239.03 L507.91,239.08 L508.48,239.12 L509.04,239.16 L509.6,239.2 L510.16,239.24 L510.72,239.28 L511.28,239.32 L511.84,239.36 L512.4,239.4 L512.96,239.45 L513.52,239.49 L514.08,239.53 L514.64,239.57 L515.2,239.61" fill="none" stroke="#404040" stroke-width="0.8"/>
<path d="M403.12,298.72 L403.68,297.11 L404.24,295.53 L404.8,293.96 L405.36,292.42 L405.92,290.9 L406.48,289.4 L407.04,287.92 L407.6,286.46 L408.16,285.02 L408.72,283.6 L409.28,282.2 L409.84,280.82 L410.41,279.46 L410.97,278.11 L411.53,276.78 L412.09,275.47 L412.65,274.18 L413.21,272.91 L413.77,271.65 L414.33,270.41 L414.89,269.19 L415.45,267.98 L416.01,266.79 L416.57,265.62 L417.13,264.46 L417.69,263.32 L418.25,262.19 L418.81,261.08 L419.37,259.98 L419.93,258.9 L420.49,257.83 L421.05,256.78 L421.61,255.74 L422.17,254.71 L422.73,253.7 L423.29,252.71 L423.85,251.72 L424.42,250.75 L424.98,249.79 L425.54,248.85 L426.1,247.92 L426.66,247 L427.22,246.09 L427.78,245.2 L428.34,244.31 L428.9,243.44 L429.46,242.59 L430.02,241.74 L430.58,240.9 L431.14,240.08 L431.7,239.26 L432.26,238.46 L432.82,237.67 L433.38,236.89 L433.94,236.12 L434.5,235.36 L435.06,234.61 L435.62,233.87 L436.18,233.14 L436.74,232.42 L437.3,231.71 L437.86,231.01 L438.43,230.32 L438.99,229.64 L439.55,228.97 L440.11,228.3 L440.67,227.65 L441.23,227 L441.79,226.37 L442.35,225.74 L442.91,225.12 L443.47,224.51 L444.03,223.9 L444.59,223.31 L445.15,222.72 L445.71,222.14 L446.27,221.57 L446.83,221.01 L447.39,220.45 L447.95,219.91 L448.51,219.36 L449.07,218.83 L449.63,218.3 L450.19,217.79 L450.75,217.27 L451.31,216.77 L451.87,216.27 L452.44,215.78 L453,215.29 L453.56,214.81 L454.12,214.34 L454.68,213.88 L455.24,213.42 L455.8,212.96 L456.36,212.52 L456.92,212.08 L457.48,211.64 L458.04,211.21 L458.6,210.79 L459.16,210.37 L459.72,210.45 L460.28,210.53 L460.84,210.61 L461.4,210.68 L461.96,210.76 L462.52,210.84 L463.08,210.91 L463.64,210.99 L464.2,211.07 L464.76,211.14 L465.32,211.22 L465.88,211.3 L466.45,211.37 L467.01,211.45 L467.57,211.52 L468.13,211.6 L468.69,211.67 L469.25,211.75 L469.81,211.82 L470.37,211.9 L470.93,211.97 L471.49,212.04 L472.05,212.12 L472.61,212.19 L473.17,212.26 L473.73,212.34 L474.29,212.41 L474.85,212.48 L475.41,212.55 L475.97,212.63 L476.53,212.7 L477.09,212.77 L477.65,212.84 L478.21,212.91 L478.77,212.98 L479.33,213.05 L479.89,213.12 L480.46,213.19 L481.02,213.26 L481.58,213.33 L482.14,213.4 L482.7,213.47 L483.26,213.54 L483.82,213.61 L484.38,213.68 L484.94,213.75 L485.5,213.82 L486.06,213.88 L486.62,213.95 L487.18,214.02 L487.74,214.09 L488.3,214.16 L488.86,214.22 L489.42,214.29 L489.98,214.36 L490.54,214.42 L491.1,214.49 L491.66,214.55 L492.22,214.62 L492.78,214.69 L493.34,214.75 L493.9,214.82 L494.47,214.88 L495.03,214.95 L495.59,215.01 L496.15,215.08 L496.71,215.14 L497.27,215.21 L497.83,215.27 L498.39,215.33 L498.95,215.4 L499.51,215.46 L500.07,215.52 L500.63,215.59 L501.19,215.65 L501.75,215.71 L502.31,215.77 L502.87,215.84 L503.43,215.9 L503.99,215.96 L504.55,216.02 L505.11,216.08 L505.67,216.15 L506.23,216.21 L506.79,216.27 L507.35,216.33 L507.91,216.39 L508.48,216.45 L509.04,216.51 L509.6,216.57 L510.16,216.63 L510.72,216.69 L511.28,216.75 L511.84,216.81 L512.4,216.87 L512.96,216.93 L513.52,216.99 L514.08,217.04 L514.64,217.1 L515.2,217.16" fill="none" stroke="#404040" stroke-width="0.8"/>
<path d="M403.12,298.72 L403.68,294.42 L404.24,290.3 L404.8,286.33 L405.36,282.52 L405.92,278.86 L406.48,275.35 L407.04,271.97 L407.6,268.72 L408.16,265.6 L408.72,262.61 L409.28,259.73 L409.84,256.96 L410.41,254.3 L410.97,251.75 L411.53,249.3 L412.09,246.94 L412.65,244.68 L413.21,242.5 L413.77,240.41 L414.33,238.4 L414.89,236.47 L415.45,234.62 L416.01,232.84 L416.57,231.13 L417.13,229.48 L417.69,227.9 L418.25,226.38 L418.81,224.92 L419.37,223.52 L419.93,222.18 L420.49,220.88 L421.05,219.64 L421.61,218.45 L422.17,217.3 L422.73,216.2 L423.29,215.14 L423.85,214.12 L424.42,213.14 L424.98,212.2 L425.54,211.3 L426.1,210.43 L426.66,209.6 L427.22,208.8 L427.78,208.03 L428.34,207.29 L428.9,206.58 L429.46,205.9 L430.02,205.25 L430.58,204.62 L431.14,204.01 L431.7,203.43 L432.26,202.87 L432.82,202.33 L433.38,201.82 L433.94,201.32 L434.5,200.85 L435.06,200.39 L435.62,199.95 L436.18,199.53 L436.74,199.12 L437.3,198.73 L437.86,198.36 L438.43,198 L438.99,197.65 L439.55,197.32 L440.11,197 L440.67,196.7 L441.23,196.4 L441.79,196.12 L442.35,195.85 L442.91,195.59 L443.47,195.34 L444.03,195.1 L444.59,194.86 L445.15,194.64 L445.71,194.43 L446.27,194.22 L446.83,194.02 L447.39,193.83 L447.95,193.65 L448.51,193.48 L449.07,193.31 L449.63,193.15 L450.19,192.99 L450.75,192.84 L451.31,192.7 L451.87,192.56 L452.44,192.43 L453,192.3 L453.56,192.18 L454.12,192.06 L454.68,191.95 L455.24,191.84 L455.8,191.74 L456.36,191.64 L456.92,191.54 L457.48,191.45 L458.04,191.36 L458.6,191.28 L459.16,191.19 L459.72,191.36 L460.28,191.51 L460.84,191.67 L461.4,191.83 L461.96,191.98 L462.52,192.13 L463.08,192.28 L463.64,192.43 L464.2,192.58 L464.76,192.72 L465.32,192.87 L465.88,193.01 L466.45,193.15 L467.01,193.29 L467.57,193.42 L468.13,193.56 L468.69,193.69 L469.25,193.82 L469.81,193.95 L470.37,194.08 L470.93,194.21 L471.49,194.33 L472.05,194.46 L472.61,194.58 L473.17,194.7 L473.73,194.82 L474.29,194.94 L474.85,195.06 L475.41,195.17 L475.97,195.28 L476.53,195.4 L477.09,195.51 L477.65,195.62 L478.21,195.73 L478.77,195.83 L479.33,195.94 L479.89,196.04 L480.46,196.15 L481.02,196.25 L481.58,196.35 L482.14,196.45 L482.7,196.55 L483.26,196.65 L483.82,196.74 L484.38,196.84 L484.94,196.93 L485.5,197.03 L486.06,197.12 L486.62,197.21 L487.18,197.3 L487.74,197.39 L488.3,197.47 L488.86,197.56 L489.42,197.65 L489.98,197.73 L490.54,197.81 L491.1,197.9 L491.66,197.98 L492.22,198.06 L492.78,198.14 L493.34,198.22 L493.9,198.29 L494.47,198.37 L495.03,198.45 L495.59,198.52 L496.15,198.6 L496.71,198.67 L497.27,198.74 L497.83,198.81 L498.39,198.88 L498.95,198.95 L499.51,199.02 L500.07,199.09 L500.63,199.16 L501.19,199.22 L501.75,199.29 L502.31,199.35 L502.87,199.42 L503.43,199.48 L503.99,199.54 L504.55,199.61 L505.11,199.67 L505.67,199.73 L506.23,199.79 L506.79,199.84 L507.35,199.9 L507.91,199.96 L508.48,200.02 L509.04,200.07 L509.6,200.13 L510.16,200.18 L510.72,200.24 L511.28,200.29 L511.84,200.34 L512.4,200.4 L512.96,200.45 L513.52,200.5 L514.08,200.55 L514.64,200.6 L515.2,200.65" fill="none" stroke="#404040" stroke-width="0.8"/>
<path d="M375.1,296.77 L375.57,297.01 L376.03,297.21 L376.5,297.38 L376.97,297.51 L377.44,297.62 L377.9,297.72 L378.37,297.79 L378.84,297.86 L379.3,297.92 L379.77,297.97 L380.24,298.01 L380.7,298.05 L381.17,298.08 L381.64,298.11 L382.11,298.13 L382.57,298.16 L383.04,298.18 L383.51,298.2 L383.97,298.22 L384.44,298.24 L384.91,298.26 L385.37,298.28 L385.84,298.29 L386.31,298.31 L386.78,298.33 L387.24,298.34 L387.71,298.36 L388.18,298.37 L388.64,298.38 L389.11,298.4 L389.58,298.41 L390.04,298.43 L390.51,298.44 L390.98,298.45 L391.45,298.47 L391.91,298.48 L392.38,298.49 L392.85,298.5 L393.31,298.52 L393.78,298.53 L394.25,298.54 L394.71,298.55 L395.18,298.57 L395.65,298.58 L396.12,298.59 L396.58,298.6 L397.05,298.61 L397.52,298.62 L397.98,298.63 L398.45,298.64 L398.92,298.65 L399.38,298.66 L399.85,298.67 L400.32,298.68 L400.79,298.69 L401.25,298.69 L401.72,298.7 L402.19,298.71 L402.65,298.71 L403.12,298.72 L403.59,298.53 L404.05,298.35 L404.52,298.17 L404.99,297.99 L405.46,297.8 L405.92,297.62 L406.39,297.44 L406.86,297.26 L407.32,297.09 L407.79,296.91 L408.26,296.73 L408.72,296.55 L409.19,296.38 L409.66,296.2 L410.12,296.03 L410.59,295.85 L411.06,295.68 L411.53,295.5 L411.99,295.33 L412.46,295.16 L412.93,294.99 L413.39,294.82 L413.86,294.65 L414.33,294.48 L414.8,294.31 L415.26,294.14 L415.73,293.97 L416.2,293.8 L416.66,293.63 L417.13,293.47 L417.6,293.3 L418.06,293.14 L418.53,292.97 L419,292.81 L419.47,292.64 L419.93,292.48 L420.4,292.32 L420.87,292.15 L421.33,291.99 L421.8,291.83 L422.27,291.67 L422.73,291.51 L423.2,291.35 L423.67,291.19 L424.14,291.03 L424.6,290.88 L425.07,290.72 L425.54,290.56 L426,290.4 L426.47,290.25 L426.94,290.09 L427.4,289.94 L427.87,289.78 L428.34,289.63 L428.81,289.48 L429.27,289.32 L429.74,289.17 L430.21,289.02 L430.67,288.87 L431.14,288.72 L431.61,288.57 L432.07,288.42 L432.54,288.27 L433.01,288.12 L433.48,287.97 L433.94,287.82 L434.41,287.68 L434.88,287.53 L435.34,287.38 L435.81,287.24 L436.28,287.09 L436.74,286.95 L437.21,286.8 L437.68,286.66 L438.15,286.52 L438.61,286.37 L439.08,286.23 L439.55,286.09 L440.01,285.95 L440.48,285.81 L440.95,285.67 L441.41,285.53 L441.88,285.39 L442.35,285.25 L442.82,285.11 L443.28,284.97 L443.75,284.83 L444.22,284.69 L444.68,284.56 L445.15,284.42 L445.62,284.29 L446.08,284.15 L446.55,284.01 L447.02,283.88 L447.49,283.75 L447.95,283.61 L448.42,283.48 L448.89,283.35 L449.35,283.21 L449.82,283.08 L450.29,282.95 L450.75,282.82 L451.22,282.69 L451.69,282.56 L452.16,282.43 L452.62,282.3 L453.09,282.17 L453.56,282.04 L454.02,281.91 L454.49,281.79 L454.96,281.66 L455.42,281.53 L455.89,281.41 L456.36,281.28 L456.83,281.15 L457.29,281.03 L457.76,280.9 L458.23,280.78 L458.69,280.66 L459.16,280.53 L459.63,280.55 L460.09,280.57 L460.56,280.59 L461.03,280.6 L461.5,280.62 L461.96,280.64 L462.43,280.65 L462.9,280.67 L463.36,280.69 L463.83,280.7 L464.3,280.72 L464.76,280.73 L465.23,280.75 L465.7,280.76 L466.17,280.78 L466.63,280.79 L467.1,280.8 L467.57,280.82 L468.03,280.83 L468.5,280.84 L468.97,280.86 L469.43,280.87 L469.9,280.88 L470.37,280.89 L470.84,280.91 L471.3,280.92 L471.77,280.93 L472.24,280.94 L472.7,280.95 L473.17,280.96 L473.64,280.97 L474.1,280.99 L474.57,281 L475.04,281.01 L475.51,281.02 L475.97,281.03 L476.44,281.04 L476.91,281.05 L477.37,281.06 L477.84,281.07 L478.31,281.07 L478.77,281.08 L479.24,281.09 L479.71,281.1 L480.18,281.11 L480.64,281.12 L481.11,281.13 L481.58,281.14 L482.04,281.14 L482.51,281.15 L482.98,281.16 L483.44,281.17 L483.91,281.17 L484.38,281.18 L484.85,281.19 L485.31,281.2 L485.78,281.2 L486.25,281.21 L486.71,281.22 L487.18,281.22 L487.65,281.23 L488.11,281.24 L488.58,281.24 L489.05,281.25 L489.52,281.26 L489.98,281.26 L490.45,281.27 L490.92,281.27 L491.38,281.28 L491.85,281.29 L492.32,281.29 L492.78,281.3 L493.25,281.3 L493.72,281.31 L494.19,281.31 L494.65,281.32 L495.12,281.32 L495.59,281.33 L496.05,281.33 L496.52,281.34 L496.99,281.34 L497.45,281.35 L497.92,281.35 L498.39,281.36 L498.86,281.36 L499.32,281.37 L499.79,281.37 L500.26,281.37 L500.72,281.38 L501.19,281.38 L501.66,281.39 L502.12,281.39 L502.59,281.39 L503.06,281.4 L503.53,281.4 L503.99,281.41 L504.46,281.41 L504.93,281.41 L505.39,281.42 L505.86,281.42 L506.33,281.42 L506.79,281.43 L507.26,281.43 L507.73,281.43 L508.2,281.44 L508.66,281.44 L509.13,281.44 L509.6,281.45 L510.06,281.45 L510.53,281.45 L511,281.45 L511.46,281.46 L511.93,281.46 L512.4,281.46 L512.87,281.47 L513.33,281.47 L513.8,281.47 L514.27,281.47 L514.73,281.48 L515.2,281.48" fill="none" stroke="#666" stroke-width="1.5"/>
<path d="M375.1,296 L375.57,296.33 L376.03,296.61 L376.5,296.84 L376.97,297.03 L377.44,297.18 L377.9,297.31 L378.37,297.42 L378.84,297.52 L379.3,297.6 L379.77,297.67 L380.24,297.73 L380.7,297.78 L381.17,297.82 L381.64,297.86 L382.11,297.9 L382.57,297.94 L383.04,297.97 L383.51,298 L383.97,298.03 L384.44,298.05 L384.91,298.08 L385.37,298.1 L385.84,298.12 L386.31,298.15 L386.78,298.17 L387.24,298.19 L387.71,298.21 L388.18,298.23 L388.64,298.25 L389.11,298.27 L389.58,298.29 L390.04,298.31 L390.51,298.33 L390.98,298.35 L391.45,298.37 L391.91,298.38 L392.38,298.4 L392.85,298.42 L393.31,298.44 L393.78,298.46 L394.25,298.47 L394.71,298.49 L395.18,298.5 L395.65,298.52 L396.12,298.54 L396.58,298.55 L397.05,298.57 L397.52,298.58 L397.98,298.6 L398.45,298.61 L398.92,298.62 L399.38,298.64 L399.85,298.65 L400.32,298.66 L400.79,298.67 L401.25,298.68 L401.72,298.69 L402.19,298.7 L402.65,298.71 L403.12,298.72 L403.59,298.31 L404.05,297.91 L404.52,297.51 L404.99,297.12 L405.46,296.74 L405.92,296.36 L406.39,295.98 L406.86,295.61 L407.32,295.25 L407.79,294.89 L408.26,294.53 L408.72,294.18 L409.19,293.83 L409.66,293.49 L410.12,293.15 L410.59,292.82 L411.06,292.49 L411.53,292.17 L411.99,291.85 L412.46,291.53 L412.93,291.22 L413.39,290.92 L413.86,290.61 L414.33,290.31 L414.8,290.02 L415.26,289.73 L415.73,289.44 L416.2,289.16 L416.66,288.88 L417.13,288.6 L417.6,288.33 L418.06,288.06 L418.53,287.79 L419,287.53 L419.47,287.27 L419.93,287.02 L420.4,286.77 L420.87,286.52 L421.33,286.27 L421.8,286.03 L422.27,285.79 L422.73,285.56 L423.2,285.33 L423.67,285.1 L424.14,284.87 L424.6,284.65 L425.07,284.43 L425.54,284.21 L426,284 L426.47,283.79 L426.94,283.58 L427.4,283.37 L427.87,283.17 L428.34,282.97 L428.81,282.77 L429.27,282.57 L429.74,282.38 L430.21,282.19 L430.67,282 L431.14,281.82 L431.61,281.64 L432.07,281.46 L432.54,281.28 L433.01,281.1 L433.48,280.93 L433.94,280.76 L434.41,280.59 L434.88,280.42 L435.34,280.26 L435.81,280.1 L436.28,279.94 L436.74,279.78 L437.21,279.63 L437.68,279.47 L438.15,279.32 L438.61,279.17 L439.08,279.02 L439.55,278.88 L440.01,278.73 L440.48,278.59 L440.95,278.45 L441.41,278.31 L441.88,278.18 L442.35,278.04 L442.82,277.91 L443.28,277.78 L443.75,277.65 L444.22,277.52 L444.68,277.4 L445.15,277.27 L445.62,277.15 L446.08,277.03 L446.55,276.91 L447.02,276.79 L447.49,276.68 L447.95,276.56 L448.42,276.45 L448.89,276.34 L449.35,276.23 L449.82,276.12 L450.29,276.01 L450.75,275.91 L451.22,275.8 L451.69,275.7 L452.16,275.6 L452.62,275.5 L453.09,275.4 L453.56,275.3 L454.02,275.21 L454.49,275.11 L454.96,275.02 L455.42,274.92 L455.89,274.83 L456.36,274.74 L456.83,274.65 L457.29,274.57 L457.76,274.48 L458.23,274.39 L458.69,274.31 L459.16,274.23 L459.63,274.25 L460.09,274.28 L460.56,274.3 L461.03,274.33 L461.5,274.35 L461.96,274.38 L462.43,274.4 L462.9,274.42 L463.36,274.45 L463.83,274.47 L464.3,274.49 L464.76,274.51 L465.23,274.53 L465.7,274.55 L466.17,274.58 L466.63,274.6 L467.1,274.62 L467.57,274.64 L468.03,274.65 L468.5,274.67 L468.97,274.69 L469.43,274.71 L469.9,274.73 L470.37,274.75 L470.84,274.76 L471.3,274.78 L471.77,274.8 L472.24,274.81 L472.7,274.83 L473.17,274.85 L473.64,274.86 L474.1,274.88 L474.57,274.89 L475.04,274.91 L475.51,274.92 L475.97,274.94 L476.44,274.95 L476.91,274.97 L477.37,274.98 L477.84,274.99 L478.31,275.01 L478.77,275.02 L479.24,275.03 L479.71,275.04 L480.18,275.06 L480.64,275.07 L481.11,275.08 L481.58,275.09 L482.04,275.11 L482.51,275.12 L482.98,275.13 L483.44,275.14 L483.91,275.15 L484.38,275.16 L484.85,275.17 L485.31,275.18 L485.78,275.19 L486.25,275.2 L486.71,275.21 L487.18,275.22 L487.65,275.23 L488.11,275.24 L488.58,275.25 L489.05,275.26 L489.52,275.27 L489.98,275.28 L490.45,275.29 L490.92,275.29 L491.38,275.3 L491.85,275.31 L492.32,275.32 L492.78,275.33 L493.25,275.33 L493.72,275.34 L494.19,275.35 L494.65,275.36 L495.12,275.36 L495.59,275.37 L496.05,275.38 L496.52,275.39 L496.99,275.39 L497.45,275.4 L497.92,275.41 L498.39,275.41 L498.86,275.42 L499.32,275.43 L499.79,275.43 L500.26,275.44 L500.72,275.44 L501.19,275.45 L501.66,275.46 L502.12,275.46 L502.59,275.47 L503.06,275.47 L503.53,275.48 L503.99,275.48 L504.46,275.49 L504.93,275.49 L505.39,275.5 L505.86,275.5 L506.33,275.51 L506.79,275.51 L507.26,275.52 L507.73,275.52 L508.2,275.53 L508.66,275.53 L509.13,275.54 L509.6,275.54 L510.06,275.54 L510.53,275.55 L511,275.55 L511.46,275.56 L511.93,275.56 L512.4,275.57 L512.87,275.57 L513.33,275.57 L513.8,275.58 L514.27,275.58 L514.73,275.58 L515.2,275.59" fill="none" stroke="#e840e8" stroke-width="1.5"/>
<path d="M375.1,295.22 L375.57,295.65 L376.03,296.01 L376.5,296.3 L376.97,296.54 L377.44,296.75 L377.9,296.91 L378.37,297.06 L378.84,297.18 L379.3,297.28 L379.77,297.37 L380.24,297.44 L380.7,297.51 L381.17,297.57 L381.64,297.62 L382.11,297.67 L382.57,297.71 L383.04,297.75 L383.51,297.79 L383.97,297.83 L384.44,297.86 L384.91,297.89 L385.37,297.93 L385.84,297.96 L386.31,297.98 L386.78,298.01 L387.24,298.04 L387.71,298.07 L388.18,298.09 L388.64,298.12 L389.11,298.14 L389.58,298.17 L390.04,298.19 L390.51,298.22 L390.98,298.24 L391.45,298.27 L391.91,298.29 L392.38,298.31 L392.85,298.34 L393.31,298.36 L393.78,298.38 L394.25,298.4 L394.71,298.42 L395.18,298.44 L395.65,298.47 L396.12,298.49 L396.58,298.51 L397.05,298.52 L397.52,298.54 L397.98,298.56 L398.45,298.58 L398.92,298.6 L399.38,298.61 L399.85,298.63 L400.32,298.65 L400.79,298.66 L401.25,298.67 L401.72,298.69 L402.19,298.7 L402.65,298.71 L403.12,298.72 L403.59,298.03 L404.05,297.35 L404.52,296.68 L404.99,296.01 L405.46,295.36 L405.92,294.71 L406.39,294.08 L406.86,293.45 L407.32,292.83 L407.79,292.22 L408.26,291.62 L408.72,291.02 L409.19,290.43 L409.66,289.85 L410.12,289.28 L410.59,288.72 L411.06,288.16 L411.53,287.61 L411.99,287.07 L412.46,286.53 L412.93,286.01 L413.39,285.48 L413.86,284.97 L414.33,284.46 L414.8,283.96 L415.26,283.47 L415.73,282.98 L416.2,282.5 L416.66,282.03 L417.13,281.56 L417.6,281.1 L418.06,280.64 L418.53,280.19 L419,279.75 L419.47,279.31 L419.93,278.88 L420.4,278.45 L420.87,278.03 L421.33,277.61 L421.8,277.2 L422.27,276.8 L422.73,276.4 L423.2,276.01 L423.67,275.62 L424.14,275.23 L424.6,274.86 L425.07,274.48 L425.54,274.11 L426,273.75 L426.47,273.39 L426.94,273.04 L427.4,272.69 L427.87,272.34 L428.34,272 L428.81,271.67 L429.27,271.34 L429.74,271.01 L430.21,270.69 L430.67,270.37 L431.14,270.06 L431.61,269.75 L432.07,269.44 L432.54,269.14 L433.01,268.84 L433.48,268.55 L433.94,268.26 L434.41,267.97 L434.88,267.69 L435.34,267.41 L435.81,267.14 L436.28,266.87 L436.74,266.6 L437.21,266.33 L437.68,266.07 L438.15,265.82 L438.61,265.56 L439.08,265.31 L439.55,265.07 L440.01,264.82 L440.48,264.58 L440.95,264.35 L441.41,264.11 L441.88,263.88 L442.35,263.65 L442.82,263.43 L443.28,263.21 L443.75,262.99 L444.22,262.77 L444.68,262.56 L445.15,262.35 L445.62,262.14 L446.08,261.93 L446.55,261.73 L447.02,261.53 L447.49,261.34 L447.95,261.14 L448.42,260.95 L448.89,260.76 L449.35,260.57 L449.82,260.39 L450.29,260.21 L450.75,260.03 L451.22,259.85 L451.69,259.68 L452.16,259.5 L452.62,259.33 L453.09,259.17 L453.56,259 L454.02,258.84 L454.49,258.68 L454.96,258.52 L455.42,258.36 L455.89,258.21 L456.36,258.05 L456.83,257.9 L457.29,257.75 L457.76,257.61 L458.23,257.46 L458.69,257.32 L459.16,257.18 L459.63,257.49 L460.09,257.77 L460.56,258.03 L461.03,258.27 L461.5,258.49 L461.96,258.7 L462.43,258.89 L462.9,259.06 L463.36,259.22 L463.83,259.36 L464.3,259.5 L464.76,259.62 L465.23,259.73 L465.7,259.84 L466.17,259.93 L466.63,260.02 L467.1,260.1 L467.57,260.18 L468.03,260.25 L468.5,260.31 L468.97,260.37 L469.43,260.42 L469.9,260.47 L470.37,260.52 L470.84,260.56 L471.3,260.6 L471.77,260.63 L472.24,260.67 L472.7,260.7 L473.17,260.72 L473.64,260.75 L474.1,260.77 L474.57,260.79 L475.04,260.81 L475.51,260.83 L475.97,260.85 L476.44,260.86 L476.91,260.88 L477.37,260.89 L477.84,260.9 L478.31,260.91 L478.77,260.92 L479.24,260.93 L479.71,260.94 L480.18,260.95 L480.64,260.96 L481.11,260.96 L481.58,260.97 L482.04,260.98 L482.51,260.98 L482.98,260.99 L483.44,260.99 L483.91,260.99 L484.38,261 L484.85,261 L485.31,261.01 L485.78,261.01 L486.25,261.01 L486.71,261.01 L487.18,261.02 L487.65,261.02 L488.11,261.02 L488.58,261.02 L489.05,261.02 L489.52,261.02 L489.98,261.03 L490.45,261.03 L490.92,261.03 L491.38,261.03 L491.85,261.03 L492.32,261.03 L492.78,261.03 L493.25,261.03 L493.72,261.03 L494.19,261.03 L494.65,261.03 L495.12,261.04 L495.59,261.04 L496.05,261.04 L496.52,261.04 L496.99,261.04 L497.45,261.04 L497.92,261.04 L498.39,261.04 L498.86,261.04 L499.32,261.04 L499.79,261.04 L500.26,261.04 L500.72,261.04 L501.19,261.04 L501.66,261.04 L502.12,261.04 L502.59,261.04 L503.06,261.04 L503.53,261.04 L503.99,261.04 L504.46,261.04 L504.93,261.04 L505.39,261.04 L505.86,261.04 L506.33,261.04 L506.79,261.04 L507.26,261.04 L507.73,261.04 L508.2,261.04 L508.66,261.04 L509.13,261.04 L509.6,261.04 L510.06,261.04 L510.53,261.04 L511,261.04 L511.46,261.04 L511.93,261.04 L512.4,261.04 L512.87,261.04 L513.33,261.04 L513.8,261.04 L514.27,261.04 L514.73,261.04 L515.2,261.04" fill="none" stroke="#3434e0" stroke-width="1.5"/>
<path d="M375.1,294.83 L375.57,295.31 L376.03,295.71 L376.5,296.03 L376.97,296.3 L377.44,296.53 L377.9,296.71 L378.37,296.87 L378.84,297 L379.3,297.12 L379.77,297.22 L380.24,297.3 L380.7,297.37 L381.17,297.44 L381.64,297.5 L382.11,297.55 L382.57,297.6 L383.04,297.65 L383.51,297.69 L383.97,297.73 L384.44,297.77 L384.91,297.8 L385.37,297.84 L385.84,297.87 L386.31,297.9 L386.78,297.93 L387.24,297.96 L387.71,297.99 L388.18,298.02 L388.64,298.05 L389.11,298.08 L389.58,298.11 L390.04,298.14 L390.51,298.16 L390.98,298.19 L391.45,298.22 L391.91,298.24 L392.38,298.27 L392.85,298.29 L393.31,298.32 L393.78,298.34 L394.25,298.37 L394.71,298.39 L395.18,298.41 L395.65,298.44 L396.12,298.46 L396.58,298.48 L397.05,298.5 L397.52,298.52 L397.98,298.54 L398.45,298.56 L398.92,298.58 L399.38,298.6 L399.85,298.62 L400.32,298.64 L400.79,298.65 L401.25,298.67 L401.72,298.68 L402.19,298.7 L402.65,298.71 L403.12,298.72 L403.59,297.74 L404.05,296.78 L404.52,295.82 L404.99,294.88 L405.46,293.94 L405.92,293.02 L406.39,292.1 L406.86,291.19 L407.32,290.29 L407.79,289.4 L408.26,288.52 L408.72,287.65 L409.19,286.78 L409.66,285.93 L410.12,285.08 L410.59,284.24 L411.06,283.41 L411.53,282.59 L411.99,281.78 L412.46,280.97 L412.93,280.18 L413.39,279.39 L413.86,278.61 L414.33,277.83 L414.8,277.07 L415.26,276.31 L415.73,275.56 L416.2,274.81 L416.66,274.08 L417.13,273.35 L417.6,272.63 L418.06,271.91 L418.53,271.21 L419,270.51 L419.47,269.81 L419.93,269.13 L420.4,268.45 L420.87,267.77 L421.33,267.11 L421.8,266.45 L422.27,265.8 L422.73,265.15 L423.2,264.51 L423.67,263.88 L424.14,263.25 L424.6,262.63 L425.07,262.01 L425.54,261.4 L426,260.8 L426.47,260.2 L426.94,259.61 L427.4,259.03 L427.87,258.45 L428.34,257.88 L428.81,257.31 L429.27,256.75 L429.74,256.19 L430.21,255.64 L430.67,255.1 L431.14,254.56 L431.61,254.02 L432.07,253.49 L432.54,252.97 L433.01,252.45 L433.48,251.94 L433.94,251.43 L434.41,250.92 L434.88,250.43 L435.34,249.93 L435.81,249.44 L436.28,248.96 L436.74,248.48 L437.21,248.01 L437.68,247.54 L438.15,247.07 L438.61,246.61 L439.08,246.16 L439.55,245.71 L440.01,245.26 L440.48,244.82 L440.95,244.38 L441.41,243.95 L441.88,243.52 L442.35,243.09 L442.82,242.67 L443.28,242.26 L443.75,241.85 L444.22,241.44 L444.68,241.03 L445.15,240.63 L445.62,240.24 L446.08,239.85 L446.55,239.46 L447.02,239.07 L447.49,238.69 L447.95,238.32 L448.42,237.94 L448.89,237.57 L449.35,237.21 L449.82,236.85 L450.29,236.49 L450.75,236.13 L451.22,235.78 L451.69,235.43 L452.16,235.09 L452.62,234.75 L453.09,234.41 L453.56,234.08 L454.02,233.75 L454.49,233.42 L454.96,233.1 L455.42,232.77 L455.89,232.46 L456.36,232.14 L456.83,231.83 L457.29,231.52 L457.76,231.22 L458.23,230.92 L458.69,230.62 L459.16,230.32 L459.63,230.38 L460.09,230.44 L460.56,230.49 L461.03,230.55 L461.5,230.61 L461.96,230.67 L462.43,230.72 L462.9,230.78 L463.36,230.84 L463.83,230.89 L464.3,230.95 L464.76,231.01 L465.23,231.06 L465.7,231.12 L466.17,231.17 L466.63,231.23 L467.1,231.29 L467.57,231.34 L468.03,231.4 L468.5,231.45 L468.97,231.51 L469.43,231.56 L469.9,231.62 L470.37,231.67 L470.84,231.72 L471.3,231.78 L471.77,231.83 L472.24,231.89 L472.7,231.94 L473.17,231.99 L473.64,232.05 L474.1,232.1 L474.57,232.16 L475.04,232.21 L475.51,232.26 L475.97,232.31 L476.44,232.37 L476.91,232.42 L477.37,232.47 L477.84,232.52 L478.31,232.58 L478.77,232.63 L479.24,232.68 L479.71,232.73 L480.18,232.78 L480.64,232.83 L481.11,232.89 L481.58,232.94 L482.04,232.99 L482.51,233.04 L482.98,233.09 L483.44,233.14 L483.91,233.19 L484.38,233.24 L484.85,233.29 L485.31,233.34 L485.78,233.39 L486.25,233.44 L486.71,233.49 L487.18,233.54 L487.65,233.59 L488.11,233.64 L488.58,233.69 L489.05,233.74 L489.52,233.79 L489.98,233.84 L490.45,233.88 L490.92,233.93 L491.38,233.98 L491.85,234.03 L492.32,234.08 L492.78,234.13 L493.25,234.17 L493.72,234.22 L494.19,234.27 L494.65,234.32 L495.12,234.36 L495.59,234.41 L496.05,234.46 L496.52,234.51 L496.99,234.55 L497.45,234.6 L497.92,234.65 L498.39,234.69 L498.86,234.74 L499.32,234.78 L499.79,234.83 L500.26,234.88 L500.72,234.92 L501.19,234.97 L501.66,235.01 L502.12,235.06 L502.59,235.11 L503.06,235.15 L503.53,235.2 L503.99,235.24 L504.46,235.29 L504.93,235.33 L505.39,235.38 L505.86,235.42 L506.33,235.46 L506.79,235.51 L507.26,235.55 L507.73,235.6 L508.2,235.64 L508.66,235.68 L509.13,235.73 L509.6,235.77 L510.06,235.82 L510.53,235.86 L511,235.9 L511.46,235.95 L511.93,235.99 L512.4,236.03 L512.87,236.07 L513.33,236.12 L513.8,236.16 L514.27,236.2 L514.73,236.24 L515.2,236.29" fill="none" stroke="#66f0cc" stroke-width="1.5"/>
<path d="M375.1,294.06 L375.57,294.63 L376.03,295.11 L376.5,295.5 L376.97,295.82 L377.44,296.09 L377.9,296.31 L378.37,296.5 L378.84,296.66 L379.3,296.8 L379.77,296.92 L380.24,297.02 L380.7,297.11 L381.17,297.19 L381.64,297.26 L382.11,297.32 L382.57,297.38 L383.04,297.43 L383.51,297.48 L383.97,297.53 L384.44,297.58 L384.91,297.62 L385.37,297.66 L385.84,297.7 L386.31,297.74 L386.78,297.78 L387.24,297.81 L387.71,297.85 L388.18,297.89 L388.64,297.92 L389.11,297.95 L389.58,297.99 L390.04,298.02 L390.51,298.05 L390.98,298.09 L391.45,298.12 L391.91,298.15 L392.38,298.18 L392.85,298.21 L393.31,298.24 L393.78,298.27 L394.25,298.3 L394.71,298.33 L395.18,298.35 L395.65,298.38 L396.12,298.41 L396.58,298.43 L397.05,298.46 L397.52,298.49 L397.98,298.51 L398.45,298.53 L398.92,298.56 L399.38,298.58 L399.85,298.6 L400.32,298.62 L400.79,298.64 L401.25,298.66 L401.72,298.68 L402.19,298.69 L402.65,298.71 L403.12,298.72 L403.59,297.17 L404.05,295.65 L404.52,294.15 L404.99,292.66 L405.46,291.2 L405.92,289.76 L406.39,288.33 L406.86,286.93 L407.32,285.54 L407.79,284.17 L408.26,282.82 L408.72,281.49 L409.19,280.17 L409.66,278.88 L410.12,277.59 L410.59,276.33 L411.06,275.08 L411.53,273.85 L411.99,272.64 L412.46,271.44 L412.93,270.26 L413.39,269.09 L413.86,267.94 L414.33,266.81 L414.8,265.69 L415.26,264.58 L415.73,263.49 L416.2,262.41 L416.66,261.35 L417.13,260.3 L417.6,259.27 L418.06,258.25 L418.53,257.24 L419,256.25 L419.47,255.26 L419.93,254.3 L420.4,253.34 L420.87,252.4 L421.33,251.47 L421.8,250.55 L422.27,249.65 L422.73,248.75 L423.2,247.87 L423.67,247 L424.14,246.14 L424.6,245.3 L425.07,244.46 L425.54,243.64 L426,242.82 L426.47,242.02 L426.94,241.23 L427.4,240.45 L427.87,239.67 L428.34,238.91 L428.81,238.16 L429.27,237.42 L429.74,236.69 L430.21,235.97 L430.67,235.25 L431.14,234.55 L431.61,233.86 L432.07,233.17 L432.54,232.5 L433.01,231.83 L433.48,231.18 L433.94,230.53 L434.41,229.89 L434.88,229.26 L435.34,228.63 L435.81,228.02 L436.28,227.41 L436.74,226.81 L437.21,226.22 L437.68,225.64 L438.15,225.06 L438.61,224.49 L439.08,223.93 L439.55,223.38 L440.01,222.84 L440.48,222.3 L440.95,221.77 L441.41,221.24 L441.88,220.72 L442.35,220.21 L442.82,219.71 L443.28,219.21 L443.75,218.72 L444.22,218.24 L444.68,217.76 L445.15,217.29 L445.62,216.83 L446.08,216.37 L446.55,215.92 L447.02,215.47 L447.49,215.03 L447.95,214.59 L448.42,214.16 L448.89,213.74 L449.35,213.32 L449.82,212.91 L450.29,212.5 L450.75,212.1 L451.22,211.71 L451.69,211.32 L452.16,210.93 L452.62,210.55 L453.09,210.17 L453.56,209.8 L454.02,209.44 L454.49,209.08 L454.96,208.72 L455.42,208.37 L455.89,208.02 L456.36,207.68 L456.83,207.34 L457.29,207.01 L457.76,206.68 L458.23,206.36 L458.69,206.04 L459.16,205.72 L459.63,205.8 L460.09,205.87 L460.56,205.95 L461.03,206.02 L461.5,206.1 L461.96,206.17 L462.43,206.25 L462.9,206.32 L463.36,206.4 L463.83,206.47 L464.3,206.55 L464.76,206.62 L465.23,206.7 L465.7,206.77 L466.17,206.84 L466.63,206.92 L467.1,206.99 L467.57,207.06 L468.03,207.13 L468.5,207.21 L468.97,207.28 L469.43,207.35 L469.9,207.42 L470.37,207.49 L470.84,207.57 L471.3,207.64 L471.77,207.71 L472.24,207.78 L472.7,207.85 L473.17,207.92 L473.64,207.99 L474.1,208.06 L474.57,208.13 L475.04,208.2 L475.51,208.27 L475.97,208.34 L476.44,208.41 L476.91,208.48 L477.37,208.55 L477.84,208.62 L478.31,208.69 L478.77,208.76 L479.24,208.83 L479.71,208.89 L480.18,208.96 L480.64,209.03 L481.11,209.1 L481.58,209.17 L482.04,209.23 L482.51,209.3 L482.98,209.37 L483.44,209.44 L483.91,209.5 L484.38,209.57 L484.85,209.64 L485.31,209.7 L485.78,209.77 L486.25,209.83 L486.71,209.9 L487.18,209.97 L487.65,210.03 L488.11,210.1 L488.58,210.16 L489.05,210.23 L489.52,210.29 L489.98,210.36 L490.45,210.42 L490.92,210.49 L491.38,210.55 L491.85,210.61 L492.32,210.68 L492.78,210.74 L493.25,210.81 L493.72,210.87 L494.19,210.93 L494.65,211 L495.12,211.06 L495.59,211.12 L496.05,211.18 L496.52,211.25 L496.99,211.31 L497.45,211.37 L497.92,211.43 L498.39,211.5 L498.86,211.56 L499.32,211.62 L499.79,211.68 L500.26,211.74 L500.72,211.8 L501.19,211.86 L501.66,211.92 L502.12,211.99 L502.59,212.05 L503.06,212.11 L503.53,212.17 L503.99,212.23 L504.46,212.29 L504.93,212.35 L505.39,212.41 L505.86,212.47 L506.33,212.52 L506.79,212.58 L507.26,212.64 L507.73,212.7 L508.2,212.76 L508.66,212.82 L509.13,212.88 L509.6,212.94 L510.06,212.99 L510.53,213.05 L511,213.11 L511.46,213.17 L511.93,213.23 L512.4,213.28 L512.87,213.34 L513.33,213.4 L513.8,213.46 L514.27,213.51 L514.73,213.57 L515.2,213.63" fill="none" stroke="#5cf034" stroke-width="1.5"/>
<path d="M375.1,292.5 L375.57,293.38 L376.03,294.09 L376.5,294.68 L376.97,295.16 L377.44,295.56 L377.9,295.88 L378.37,296.15 L378.84,296.38 L379.3,296.57 L379.77,296.73 L380.24,296.87 L380.7,296.99 L381.17,297.09 L381.64,297.18 L382.11,297.26 L382.57,297.33 L383.04,297.39 L383.51,297.45 L383.97,297.51 L384.44,297.56 L384.91,297.6 L385.37,297.65 L385.84,297.69 L386.31,297.73 L386.78,297.77 L387.24,297.81 L387.71,297.85 L388.18,297.88 L388.64,297.92 L389.11,297.95 L389.58,297.99 L390.04,298.02 L390.51,298.05 L390.98,298.08 L391.45,298.12 L391.91,298.15 L392.38,298.18 L392.85,298.21 L393.31,298.24 L393.78,298.27 L394.25,298.3 L394.71,298.33 L395.18,298.35 L395.65,298.38 L396.12,298.41 L396.58,298.43 L397.05,298.46 L397.52,298.49 L397.98,298.51 L398.45,298.53 L398.92,298.56 L399.38,298.58 L399.85,298.6 L400.32,298.62 L400.79,298.64 L401.25,298.66 L401.72,298.68 L402.19,298.69 L402.65,298.71 L403.12,298.72 L403.59,297.36 L404.05,295.71 L404.52,293.73 L404.99,291.44 L405.46,288.87 L405.92,286.07 L406.39,283.11 L406.86,280.03 L407.32,276.89 L407.79,273.75 L408.26,270.63 L408.72,267.56 L409.19,264.56 L409.66,261.65 L410.12,258.84 L410.59,256.11 L411.06,253.49 L411.53,250.97 L411.99,248.54 L412.46,246.2 L412.93,243.96 L413.39,241.81 L413.86,239.75 L414.33,237.76 L414.8,235.86 L415.26,234.04 L415.73,232.29 L416.2,230.61 L416.66,229 L417.13,227.45 L417.6,225.97 L418.06,224.55 L418.53,223.18 L419,221.88 L419.47,220.62 L419.93,219.42 L420.4,218.26 L420.87,217.16 L421.33,216.09 L421.8,215.08 L422.27,214.1 L422.73,213.16 L423.2,212.26 L423.67,211.4 L424.14,210.57 L424.6,209.78 L425.07,209.02 L425.54,208.29 L426,207.59 L426.47,206.92 L426.94,206.27 L427.4,205.65 L427.87,205.06 L428.34,204.49 L428.81,203.95 L429.27,203.42 L429.74,202.92 L430.21,202.44 L430.67,201.98 L431.14,201.54 L431.61,201.11 L432.07,200.7 L432.54,200.31 L433.01,199.94 L433.48,199.58 L433.94,199.23 L434.41,198.9 L434.88,198.59 L435.34,198.28 L435.81,197.99 L436.28,197.71 L436.74,197.44 L437.21,197.18 L437.68,196.94 L438.15,196.7 L438.61,196.47 L439.08,196.25 L439.55,196.05 L440.01,195.84 L440.48,195.65 L440.95,195.47 L441.41,195.29 L441.88,195.12 L442.35,194.96 L442.82,194.8 L443.28,194.65 L443.75,194.51 L444.22,194.37 L444.68,194.24 L445.15,194.11 L445.62,193.99 L446.08,193.87 L446.55,193.76 L447.02,193.65 L447.49,193.55 L447.95,193.45 L448.42,193.36 L448.89,193.27 L449.35,193.18 L449.82,193.1 L450.29,193.02 L450.75,192.94 L451.22,192.86 L451.69,192.79 L452.16,192.73 L452.62,192.66 L453.09,192.6 L453.56,192.54 L454.02,192.48 L454.49,192.43 L454.96,192.37 L455.42,192.32 L455.89,192.27 L456.36,192.23 L456.83,192.18 L457.29,192.14 L457.76,192.1 L458.23,192.06 L458.69,192.02 L459.16,191.98 L459.63,192.13 L460.09,192.28 L460.56,192.42 L461.03,192.56 L461.5,192.71 L461.96,192.85 L462.43,192.98 L462.9,193.12 L463.36,193.25 L463.83,193.39 L464.3,193.52 L464.76,193.65 L465.23,193.78 L465.7,193.9 L466.17,194.03 L466.63,194.15 L467.1,194.28 L467.57,194.4 L468.03,194.52 L468.5,194.64 L468.97,194.75 L469.43,194.87 L469.9,194.98 L470.37,195.1 L470.84,195.21 L471.3,195.32 L471.77,195.43 L472.24,195.53 L472.7,195.64 L473.17,195.75 L473.64,195.85 L474.1,195.95 L474.57,196.06 L475.04,196.16 L475.51,196.25 L475.97,196.35 L476.44,196.45 L476.91,196.55 L477.37,196.64 L477.84,196.73 L478.31,196.83 L478.77,196.92 L479.24,197.01 L479.71,197.1 L480.18,197.19 L480.64,197.27 L481.11,197.36 L481.58,197.45 L482.04,197.53 L482.51,197.61 L482.98,197.7 L483.44,197.78 L483.91,197.86 L484.38,197.94 L484.85,198.02 L485.31,198.1 L485.78,198.17 L486.25,198.25 L486.71,198.32 L487.18,198.4 L487.65,198.47 L488.11,198.54 L488.58,198.62 L489.05,198.69 L489.52,198.76 L489.98,198.83 L490.45,198.89 L490.92,198.96 L491.38,199.03 L491.85,199.09 L492.32,199.16 L492.78,199.22 L493.25,199.29 L493.72,199.35 L494.19,199.41 L494.65,199.47 L495.12,199.54 L495.59,199.6 L496.05,199.66 L496.52,199.71 L496.99,199.77 L497.45,199.83 L497.92,199.89 L498.39,199.94 L498.86,200 L499.32,200.05 L499.79,200.11 L500.26,200.16 L500.72,200.21 L501.19,200.27 L501.66,200.32 L502.12,200.37 L502.59,200.42 L503.06,200.47 L503.53,200.52 L503.99,200.57 L504.46,200.62 L504.93,200.66 L505.39,200.71 L505.86,200.76 L506.33,200.8 L506.79,200.85 L507.26,200.89 L507.73,200.94 L508.2,200.98 L508.66,201.02 L509.13,201.07 L509.6,201.11 L510.06,201.15 L510.53,201.19 L511,201.23 L511.46,201.27 L511.93,201.31 L512.4,201.35 L512.87,201.39 L513.33,201.43 L513.8,201.47 L514.27,201.51 L514.73,201.55 L515.2,201.58" fill="none" stroke="#f03c1e" stroke-width="1.5"/>
</g>
<rect x="375.1" y="162" width="140.1" height="140.6" fill="none" stroke="#333" stroke-width="1.0"/>
<text x="496.4" y="179.2" font-size="19.5" text-anchor="start" fill="#000">G</text>
<text x="475.7" y="296.5" font-size="7.8" text-anchor="start" fill="#222">NB_16C10</text>
<line x1="378.8" y1="169.1" x2="384.6" y2="169.1" stroke="#888" stroke-width="1.4"/>
<text x="387.6" y="171.1" font-size="5.8" text-anchor="start" fill="#222">9.4 nM</text>
<line x1="378.8" y1="176.45" x2="384.6" y2="176.45" stroke="#e840e8" stroke-width="1.4"/>
<text x="387.6" y="178.45" font-size="5.8" text-anchor="start" fill="#222">18.75 nM</text>
<line x1="378.8" y1="183.8" x2="384.6" y2="183.8" stroke="#3838d8" stroke-width="1.4"/>
<text x="387.6" y="185.8" font-size="5.8" text-anchor="start" fill="#222">37.5 nM</text>
<line x1="378.8" y1="191.15" x2="384.6" y2="191.15" stroke="#5ae8c0" stroke-width="1.4"/>
<text x="387.6" y="193.15" font-size="5.8" text-anchor="start" fill="#222">50.0 nM</text>
<line x1="378.8" y1="198.5" x2="384.6" y2="198.5" stroke="#5ae830" stroke-width="1.4"/>
<text x="387.6" y="200.5" font-size="5.8" text-anchor="start" fill="#222">75.0 nM</text>
<line x1="378.8" y1="205.85" x2="384.6" y2="205.85" stroke="#f04020" stroke-width="1.4"/>
<text x="387.6" y="207.85" font-size="5.8" text-anchor="start" fill="#222">150.0 nM</text>
<line x1="378.8" y1="213.2" x2="384.6" y2="213.2" stroke="#888" stroke-width="0.9"/>
<text x="387.6" y="215.2" font-size="5.8" text-anchor="start" fill="#222">Global fitting</text>
<line x1="538" y1="294.31" x2="540" y2="294.31" stroke="#333" stroke-width="0.7"/>
<text x="536" y="296.91" font-size="7.8" text-anchor="end" fill="#2a2a2a" stroke="#222" stroke-width="0.12">0.0</text>
<line x1="538" y1="250.62" x2="540" y2="250.62" stroke="#333" stroke-width="0.7"/>
<text x="536" y="253.22" font-size="7.8" text-anchor="end" fill="#2a2a2a" stroke="#222" stroke-width="0.12">0.5</text>
<line x1="538" y1="206.92" x2="540" y2="206.92" stroke="#333" stroke-width="0.7"/>
<text x="536" y="209.52" font-size="7.8" text-anchor="end" fill="#2a2a2a" stroke="#222" stroke-width="0.12">1.0</text>
<line x1="538" y1="163.22" x2="540" y2="163.22" stroke="#333" stroke-width="0.7"/>
<text x="536" y="165.82" font-size="7.8" text-anchor="end" fill="#2a2a2a" stroke="#222" stroke-width="0.12">1.5</text>
<line x1="538" y1="272.46" x2="539.3" y2="272.46" stroke="#555" stroke-width="0.5"/>
<line x1="538" y1="228.77" x2="539.3" y2="228.77" stroke="#555" stroke-width="0.5"/>
<line x1="538" y1="185.07" x2="539.3" y2="185.07" stroke="#555" stroke-width="0.5"/>
<line x1="538" y1="302.7" x2="538" y2="300.7" stroke="#333" stroke-width="0.7"/>
<text x="538" y="312.1" font-size="7.7" text-anchor="middle" fill="#2a2a2a" stroke="#222" stroke-width="0.12">0</text>
<line x1="558.06" y1="302.7" x2="558.06" y2="300.7" stroke="#333" stroke-width="0.7"/>
<text x="558.06" y="312.1" font-size="7.7" text-anchor="middle" fill="#2a2a2a" stroke="#222" stroke-width="0.12">100</text>
<line x1="578.11" y1="302.7" x2="578.11" y2="300.7" stroke="#333" stroke-width="0.7"/>
<text x="578.11" y="312.1" font-size="7.7" text-anchor="middle" fill="#2a2a2a" stroke="#222" stroke-width="0.12">200</text>
<line x1="598.17" y1="302.7" x2="598.17" y2="300.7" stroke="#333" stroke-width="0.7"/>
<text x="598.17" y="312.1" font-size="7.7" text-anchor="middle" fill="#2a2a2a" stroke="#222" stroke-width="0.12">300</text>
<line x1="618.23" y1="302.7" x2="618.23" y2="300.7" stroke="#333" stroke-width="0.7"/>
<text x="618.23" y="312.1" font-size="7.7" text-anchor="middle" fill="#2a2a2a" stroke="#222" stroke-width="0.12">400</text>
<line x1="638.29" y1="302.7" x2="638.29" y2="300.7" stroke="#333" stroke-width="0.7"/>
<text x="638.29" y="312.1" font-size="7.7" text-anchor="middle" fill="#2a2a2a" stroke="#222" stroke-width="0.12">500</text>
<line x1="658.34" y1="302.7" x2="658.34" y2="300.7" stroke="#333" stroke-width="0.7"/>
<text x="658.34" y="312.1" font-size="7.7" text-anchor="middle" fill="#2a2a2a" stroke="#222" stroke-width="0.12">600</text>
<line x1="678.4" y1="302.7" x2="678.4" y2="300.7" stroke="#333" stroke-width="0.7"/>
<text x="678.4" y="312.1" font-size="7.7" text-anchor="middle" fill="#2a2a2a" stroke="#222" stroke-width="0.12">700</text>
<line x1="548.03" y1="302.7" x2="548.03" y2="301.4" stroke="#555" stroke-width="0.5"/>
<line x1="568.09" y1="302.7" x2="568.09" y2="301.4" stroke="#555" stroke-width="0.5"/>
<line x1="588.14" y1="302.7" x2="588.14" y2="301.4" stroke="#555" stroke-width="0.5"/>
<line x1="608.2" y1="302.7" x2="608.2" y2="301.4" stroke="#555" stroke-width="0.5"/>
<line x1="628.26" y1="302.7" x2="628.26" y2="301.4" stroke="#555" stroke-width="0.5"/>
<line x1="648.31" y1="302.7" x2="648.31" y2="301.4" stroke="#555" stroke-width="0.5"/>
<line x1="668.37" y1="302.7" x2="668.37" y2="301.4" stroke="#555" stroke-width="0.5"/>
<clipPath id="cH"><rect x="538" y="162.7" width="140.4" height="140"/></clipPath>
<g clip-path="url(#cH)">
<path d="M558.06,294.31 L558.66,293.77 L559.26,293.23 L559.86,292.71 L560.46,292.2 L561.07,291.71 L561.67,291.22 L562.27,290.74 L562.87,290.28 L563.47,289.82 L564.07,289.38 L564.68,288.95 L565.28,288.52 L565.88,288.1 L566.48,287.7 L567.08,287.3 L567.68,286.91 L568.29,286.53 L568.89,286.16 L569.49,285.8 L570.09,285.44 L570.69,285.1 L571.29,284.76 L571.9,284.43 L572.5,284.1 L573.1,283.78 L573.7,283.47 L574.3,283.17 L574.91,282.87 L575.51,282.58 L576.11,282.3 L576.71,282.02 L577.31,281.75 L577.91,281.49 L578.52,281.23 L579.12,280.97 L579.72,280.73 L580.32,280.48 L580.92,280.25 L581.52,280.02 L582.13,279.79 L582.73,279.57 L583.33,279.35 L583.93,279.14 L584.53,278.93 L585.13,278.73 L585.74,278.53 L586.34,278.34 L586.94,278.15 L587.54,277.97 L588.14,277.79 L588.74,277.61 L589.35,277.44 L589.95,277.27 L590.55,277.1 L591.15,276.94 L591.75,276.78 L592.35,276.63 L592.96,276.48 L593.56,276.33 L594.16,276.18 L594.76,276.04 L595.36,275.91 L595.97,275.77 L596.57,275.64 L597.17,275.51 L597.77,275.38 L598.37,275.26 L598.97,275.14 L599.58,275.02 L600.18,274.91 L600.78,274.79 L601.38,274.68 L601.98,274.58 L602.58,274.47 L603.19,274.37 L603.79,274.27 L604.39,274.17 L604.99,274.07 L605.59,273.98 L606.19,273.89 L606.8,273.8 L607.4,273.71 L608,273.62 L608.6,273.54 L609.2,273.46 L609.8,273.38 L610.41,273.3 L611.01,273.22 L611.61,273.14 L612.21,273.07 L612.81,273 L613.41,272.93 L614.02,272.86 L614.62,272.79 L615.22,272.73 L615.82,272.66 L616.42,272.6 L617.03,272.54 L617.63,272.48 L618.23,272.42 L618.83,272.45 L619.43,272.48 L620.03,272.51 L620.64,272.55 L621.24,272.58 L621.84,272.61 L622.44,272.63 L623.04,272.66 L623.64,272.69 L624.25,272.72 L624.85,272.75 L625.45,272.78 L626.05,272.8 L626.65,272.83 L627.25,272.86 L627.86,272.89 L628.46,272.91 L629.06,272.94 L629.66,272.96 L630.26,272.99 L630.86,273.01 L631.47,273.04 L632.07,273.06 L632.67,273.09 L633.27,273.11 L633.87,273.13 L634.47,273.16 L635.08,273.18 L635.68,273.2 L636.28,273.23 L636.88,273.25 L637.48,273.27 L638.09,273.29 L638.69,273.31 L639.29,273.33 L639.89,273.35 L640.49,273.38 L641.09,273.4 L641.7,273.42 L642.3,273.44 L642.9,273.46 L643.5,273.47 L644.1,273.49 L644.7,273.51 L645.31,273.53 L645.91,273.55 L646.51,273.57 L647.11,273.59 L647.71,273.6 L648.31,273.62 L648.92,273.64 L649.52,273.66 L650.12,273.67 L650.72,273.69 L651.32,273.71 L651.92,273.72 L652.53,273.74 L653.13,273.76 L653.73,273.77 L654.33,273.79 L654.93,273.8 L655.53,273.82 L656.14,273.83 L656.74,273.85 L657.34,273.86 L657.94,273.88 L658.54,273.89 L659.15,273.91 L659.75,273.92 L660.35,273.93 L660.95,273.95 L661.55,273.96 L662.15,273.97 L662.76,273.99 L663.36,274 L663.96,274.01 L664.56,274.03 L665.16,274.04 L665.76,274.05 L666.37,274.06 L666.97,274.08 L667.57,274.09 L668.17,274.1 L668.77,274.11 L669.37,274.12 L669.98,274.14 L670.58,274.15 L671.18,274.16 L671.78,274.17 L672.38,274.18 L672.98,274.19 L673.59,274.2 L674.19,274.21 L674.79,274.22 L675.39,274.23 L675.99,274.24 L676.59,274.25 L677.2,274.26 L677.8,274.27 L678.4,274.28" fill="none" stroke="#404040" stroke-width="0.8"/>
<path d="M558.06,294.31 L558.66,292.87 L559.26,291.48 L559.86,290.12 L560.46,288.8 L561.07,287.52 L561.67,286.27 L562.27,285.06 L562.87,283.89 L563.47,282.74 L564.07,281.63 L564.68,280.55 L565.28,279.5 L565.88,278.48 L566.48,277.49 L567.08,276.53 L567.68,275.59 L568.29,274.68 L568.89,273.79 L569.49,272.93 L570.09,272.1 L570.69,271.29 L571.29,270.5 L571.9,269.73 L572.5,268.98 L573.1,268.26 L573.7,267.55 L574.3,266.87 L574.91,266.2 L575.51,265.56 L576.11,264.93 L576.71,264.32 L577.31,263.72 L577.91,263.15 L578.52,262.59 L579.12,262.04 L579.72,261.51 L580.32,261 L580.92,260.5 L581.52,260.01 L582.13,259.54 L582.73,259.08 L583.33,258.63 L583.93,258.2 L584.53,257.78 L585.13,257.37 L585.74,256.97 L586.34,256.58 L586.94,256.2 L587.54,255.84 L588.14,255.48 L588.74,255.14 L589.35,254.8 L589.95,254.47 L590.55,254.16 L591.15,253.85 L591.75,253.55 L592.35,253.26 L592.96,252.98 L593.56,252.7 L594.16,252.43 L594.76,252.17 L595.36,251.92 L595.97,251.68 L596.57,251.44 L597.17,251.21 L597.77,250.98 L598.37,250.76 L598.97,250.55 L599.58,250.34 L600.18,250.14 L600.78,249.95 L601.38,249.76 L601.98,249.57 L602.58,249.39 L603.19,249.22 L603.79,249.05 L604.39,248.88 L604.99,248.72 L605.59,248.57 L606.19,248.42 L606.8,248.27 L607.4,248.13 L608,247.99 L608.6,247.85 L609.2,247.72 L609.8,247.59 L610.41,247.47 L611.01,247.35 L611.61,247.23 L612.21,247.12 L612.81,247.01 L613.41,246.9 L614.02,246.8 L614.62,246.7 L615.22,246.6 L615.82,246.5 L616.42,246.41 L617.03,246.32 L617.63,246.23 L618.23,246.14 L618.83,246.21 L619.43,246.27 L620.03,246.33 L620.64,246.39 L621.24,246.46 L621.84,246.52 L622.44,246.57 L623.04,246.63 L623.64,246.69 L624.25,246.75 L624.85,246.81 L625.45,246.86 L626.05,246.92 L626.65,246.97 L627.25,247.02 L627.86,247.08 L628.46,247.13 L629.06,247.18 L629.66,247.23 L630.26,247.28 L630.86,247.33 L631.47,247.38 L632.07,247.43 L632.67,247.48 L633.27,247.53 L633.87,247.58 L634.47,247.62 L635.08,247.67 L635.68,247.71 L636.28,247.76 L636.88,247.8 L637.48,247.85 L638.09,247.89 L638.69,247.93 L639.29,247.98 L639.89,248.02 L640.49,248.06 L641.09,248.1 L641.7,248.14 L642.3,248.18 L642.9,248.22 L643.5,248.26 L644.1,248.3 L644.7,248.34 L645.31,248.37 L645.91,248.41 L646.51,248.45 L647.11,248.48 L647.71,248.52 L648.31,248.56 L648.92,248.59 L649.52,248.63 L650.12,248.66 L650.72,248.69 L651.32,248.73 L651.92,248.76 L652.53,248.79 L653.13,248.82 L653.73,248.86 L654.33,248.89 L654.93,248.92 L655.53,248.95 L656.14,248.98 L656.74,249.01 L657.34,249.04 L657.94,249.07 L658.54,249.1 L659.15,249.13 L659.75,249.15 L660.35,249.18 L660.95,249.21 L661.55,249.24 L662.15,249.26 L662.76,249.29 L663.36,249.32 L663.96,249.34 L664.56,249.37 L665.16,249.39 L665.76,249.42 L666.37,249.44 L666.97,249.47 L667.57,249.49 L668.17,249.51 L668.77,249.54 L669.37,249.56 L669.98,249.58 L670.58,249.61 L671.18,249.63 L671.78,249.65 L672.38,249.67 L672.98,249.7 L673.59,249.72 L674.19,249.74 L674.79,249.76 L675.39,249.78 L675.99,249.8 L676.59,249.82 L677.2,249.84 L677.8,249.86 L678.4,249.88" fill="none" stroke="#404040" stroke-width="0.8"/>
<path d="M558.06,294.31 L558.66,292.35 L559.26,290.44 L559.86,288.58 L560.46,286.78 L561.07,285.03 L561.67,283.32 L562.27,281.67 L562.87,280.06 L563.47,278.49 L564.07,276.97 L564.68,275.5 L565.28,274.06 L565.88,272.66 L566.48,271.31 L567.08,269.99 L567.68,268.71 L568.29,267.46 L568.89,266.25 L569.49,265.08 L570.09,263.94 L570.69,262.82 L571.29,261.74 L571.9,260.7 L572.5,259.68 L573.1,258.68 L573.7,257.72 L574.3,256.78 L574.91,255.87 L575.51,254.99 L576.11,254.13 L576.71,253.3 L577.31,252.48 L577.91,251.69 L578.52,250.93 L579.12,250.18 L579.72,249.46 L580.32,248.75 L580.92,248.07 L581.52,247.4 L582.13,246.76 L582.73,246.13 L583.33,245.52 L583.93,244.92 L584.53,244.35 L585.13,243.79 L585.74,243.24 L586.34,242.71 L586.94,242.2 L587.54,241.7 L588.14,241.21 L588.74,240.74 L589.35,240.28 L589.95,239.83 L590.55,239.4 L591.15,238.98 L591.75,238.57 L592.35,238.17 L592.96,237.78 L593.56,237.41 L594.16,237.04 L594.76,236.69 L595.36,236.34 L595.97,236.01 L596.57,235.68 L597.17,235.36 L597.77,235.06 L598.37,234.76 L598.97,234.46 L599.58,234.18 L600.18,233.91 L600.78,233.64 L601.38,233.38 L601.98,233.13 L602.58,232.88 L603.19,232.64 L603.79,232.41 L604.39,232.19 L604.99,231.97 L605.59,231.76 L606.19,231.55 L606.8,231.35 L607.4,231.15 L608,230.96 L608.6,230.78 L609.2,230.6 L609.8,230.42 L610.41,230.26 L611.01,230.09 L611.61,229.93 L612.21,229.78 L612.81,229.62 L613.41,229.48 L614.02,229.33 L614.62,229.2 L615.22,229.06 L615.82,228.93 L616.42,228.8 L617.03,228.68 L617.63,228.56 L618.23,228.44 L618.83,228.53 L619.43,228.62 L620.03,228.7 L620.64,228.78 L621.24,228.87 L621.84,228.95 L622.44,229.03 L623.04,229.11 L623.64,229.19 L624.25,229.27 L624.85,229.35 L625.45,229.42 L626.05,229.5 L626.65,229.57 L627.25,229.65 L627.86,229.72 L628.46,229.79 L629.06,229.86 L629.66,229.93 L630.26,230 L630.86,230.07 L631.47,230.14 L632.07,230.21 L632.67,230.27 L633.27,230.34 L633.87,230.4 L634.47,230.47 L635.08,230.53 L635.68,230.59 L636.28,230.65 L636.88,230.71 L637.48,230.78 L638.09,230.83 L638.69,230.89 L639.29,230.95 L639.89,231.01 L640.49,231.07 L641.09,231.12 L641.7,231.18 L642.3,231.23 L642.9,231.29 L643.5,231.34 L644.1,231.39 L644.7,231.44 L645.31,231.49 L645.91,231.55 L646.51,231.6 L647.11,231.65 L647.71,231.69 L648.31,231.74 L648.92,231.79 L649.52,231.84 L650.12,231.89 L650.72,231.93 L651.32,231.98 L651.92,232.02 L652.53,232.07 L653.13,232.11 L653.73,232.15 L654.33,232.2 L654.93,232.24 L655.53,232.28 L656.14,232.32 L656.74,232.36 L657.34,232.4 L657.94,232.44 L658.54,232.48 L659.15,232.52 L659.75,232.56 L660.35,232.6 L660.95,232.64 L661.55,232.67 L662.15,232.71 L662.76,232.75 L663.36,232.78 L663.96,232.82 L664.56,232.85 L665.16,232.89 L665.76,232.92 L666.37,232.96 L666.97,232.99 L667.57,233.02 L668.17,233.06 L668.77,233.09 L669.37,233.12 L669.98,233.15 L670.58,233.18 L671.18,233.21 L671.78,233.24 L672.38,233.27 L672.98,233.3 L673.59,233.33 L674.19,233.36 L674.79,233.39 L675.39,233.42 L675.99,233.45 L676.59,233.47 L677.2,233.5 L677.8,233.53 L678.4,233.55" fill="none" stroke="#404040" stroke-width="0.8"/>
<path d="M558.06,294.31 L558.66,290.96 L559.26,287.73 L559.86,284.6 L560.46,281.58 L561.07,278.66 L561.67,275.85 L562.27,273.12 L562.87,270.49 L563.47,267.95 L564.07,265.5 L564.68,263.13 L565.28,260.83 L565.88,258.62 L566.48,256.48 L567.08,254.42 L567.68,252.42 L568.29,250.49 L568.89,248.63 L569.49,246.83 L570.09,245.09 L570.69,243.41 L571.29,241.79 L571.9,240.22 L572.5,238.71 L573.1,237.24 L573.7,235.83 L574.3,234.46 L574.91,233.14 L575.51,231.87 L576.11,230.64 L576.71,229.45 L577.31,228.3 L577.91,227.19 L578.52,226.12 L579.12,225.08 L579.72,224.08 L580.32,223.11 L580.92,222.18 L581.52,221.27 L582.13,220.4 L582.73,219.56 L583.33,218.75 L583.93,217.96 L584.53,217.2 L585.13,216.47 L585.74,215.76 L586.34,215.07 L586.94,214.41 L587.54,213.77 L588.14,213.15 L588.74,212.56 L589.35,211.98 L589.95,211.42 L590.55,210.89 L591.15,210.37 L591.75,209.86 L592.35,209.38 L592.96,208.91 L593.56,208.46 L594.16,208.02 L594.76,207.6 L595.36,207.19 L595.97,206.79 L596.57,206.41 L597.17,206.05 L597.77,205.69 L598.37,205.35 L598.97,205.01 L599.58,204.69 L600.18,204.38 L600.78,204.08 L601.38,203.8 L601.98,203.52 L602.58,203.25 L603.19,202.99 L603.79,202.73 L604.39,202.49 L604.99,202.26 L605.59,202.03 L606.19,201.81 L606.8,201.6 L607.4,201.39 L608,201.19 L608.6,201 L609.2,200.82 L609.8,200.64 L610.41,200.47 L611.01,200.3 L611.61,200.14 L612.21,199.99 L612.81,199.84 L613.41,199.69 L614.02,199.55 L614.62,199.41 L615.22,199.28 L615.82,199.16 L616.42,199.04 L617.03,198.92 L617.63,198.8 L618.23,198.69 L618.83,198.83 L619.43,198.96 L620.03,199.09 L620.64,199.22 L621.24,199.35 L621.84,199.48 L622.44,199.6 L623.04,199.72 L623.64,199.84 L624.25,199.96 L624.85,200.08 L625.45,200.19 L626.05,200.31 L626.65,200.42 L627.25,200.53 L627.86,200.64 L628.46,200.74 L629.06,200.85 L629.66,200.95 L630.26,201.05 L630.86,201.15 L631.47,201.25 L632.07,201.35 L632.67,201.44 L633.27,201.54 L633.87,201.63 L634.47,201.72 L635.08,201.81 L635.68,201.9 L636.28,201.99 L636.88,202.08 L637.48,202.16 L638.09,202.25 L638.69,202.33 L639.29,202.41 L639.89,202.49 L640.49,202.57 L641.09,202.65 L641.7,202.72 L642.3,202.8 L642.9,202.87 L643.5,202.95 L644.1,203.02 L644.7,203.09 L645.31,203.16 L645.91,203.23 L646.51,203.3 L647.11,203.36 L647.71,203.43 L648.31,203.5 L648.92,203.56 L649.52,203.62 L650.12,203.68 L650.72,203.75 L651.32,203.81 L651.92,203.87 L652.53,203.92 L653.13,203.98 L653.73,204.04 L654.33,204.09 L654.93,204.15 L655.53,204.2 L656.14,204.26 L656.74,204.31 L657.34,204.36 L657.94,204.41 L658.54,204.46 L659.15,204.51 L659.75,204.56 L660.35,204.61 L660.95,204.66 L661.55,204.7 L662.15,204.75 L662.76,204.79 L663.36,204.84 L663.96,204.88 L664.56,204.93 L665.16,204.97 L665.76,205.01 L666.37,205.05 L666.97,205.09 L667.57,205.13 L668.17,205.17 L668.77,205.21 L669.37,205.25 L669.98,205.29 L670.58,205.33 L671.18,205.36 L671.78,205.4 L672.38,205.43 L672.98,205.47 L673.59,205.5 L674.19,205.54 L674.79,205.57 L675.39,205.61 L675.99,205.64 L676.59,205.67 L677.2,205.7 L677.8,205.73 L678.4,205.76" fill="none" stroke="#404040" stroke-width="0.8"/>
<path d="M538,293.87 L538.47,293.9 L538.94,293.93 L539.4,293.95 L539.87,293.97 L540.34,293.99 L540.81,294.01 L541.28,294.03 L541.74,294.04 L542.21,294.06 L542.68,294.08 L543.15,294.09 L543.62,294.1 L544.08,294.12 L544.55,294.13 L545.02,294.14 L545.49,294.15 L545.96,294.16 L546.42,294.17 L546.89,294.18 L547.36,294.19 L547.83,294.2 L548.3,294.2 L548.76,294.21 L549.23,294.22 L549.7,294.23 L550.17,294.23 L550.64,294.24 L551.1,294.24 L551.57,294.25 L552.04,294.26 L552.51,294.26 L552.98,294.27 L553.44,294.27 L553.91,294.28 L554.38,294.28 L554.85,294.29 L555.32,294.29 L555.78,294.29 L556.25,294.3 L556.72,294.3 L557.19,294.3 L557.66,294.31 L558.12,294.24 L558.59,293.73 L559.06,293.24 L559.53,292.76 L560,292.29 L560.46,291.82 L560.93,291.37 L561.4,290.93 L561.87,290.5 L562.34,290.08 L562.8,289.67 L563.27,289.26 L563.74,288.87 L564.21,288.48 L564.68,288.1 L565.14,287.73 L565.61,287.37 L566.08,287.02 L566.55,286.67 L567.02,286.33 L567.48,286 L567.95,285.68 L568.42,285.36 L568.89,285.05 L569.36,284.75 L569.82,284.45 L570.29,284.16 L570.76,283.88 L571.23,283.6 L571.7,283.33 L572.16,283.07 L572.63,282.81 L573.1,282.55 L573.57,282.31 L574.04,282.06 L574.5,281.83 L574.97,281.59 L575.44,281.37 L575.91,281.14 L576.38,280.93 L576.84,280.72 L577.31,280.51 L577.78,280.3 L578.25,280.11 L578.72,279.91 L579.18,279.72 L579.65,279.54 L580.12,279.35 L580.59,279.18 L581.06,279 L581.52,278.83 L581.99,278.66 L582.46,278.5 L582.93,278.34 L583.4,278.19 L583.86,278.03 L584.33,277.89 L584.8,277.74 L585.27,277.6 L585.74,277.46 L586.2,277.32 L586.67,277.19 L587.14,277.06 L587.61,276.93 L588.08,276.81 L588.54,276.68 L589.01,276.56 L589.48,276.45 L589.95,276.33 L590.42,276.22 L590.88,276.11 L591.35,276.01 L591.82,275.9 L592.29,275.8 L592.76,275.7 L593.22,275.6 L593.69,275.51 L594.16,275.41 L594.63,275.32 L595.1,275.23 L595.56,275.14 L596.03,275.06 L596.5,274.97 L596.97,274.89 L597.44,274.81 L597.9,274.73 L598.37,274.66 L598.84,274.58 L599.31,274.51 L599.78,274.44 L600.24,274.37 L600.71,274.3 L601.18,274.23 L601.65,274.17 L602.12,274.1 L602.58,274.04 L603.05,273.98 L603.52,273.92 L603.99,273.86 L604.46,273.8 L604.92,273.75 L605.39,273.69 L605.86,273.64 L606.33,273.58 L606.8,273.53 L607.26,273.48 L607.73,273.43 L608.2,273.39 L608.67,273.34 L609.14,273.29 L609.6,273.25 L610.07,273.2 L610.54,273.16 L611.01,273.12 L611.48,273.08 L611.94,273.04 L612.41,273 L612.88,272.96 L613.35,272.92 L613.82,272.88 L614.28,272.85 L614.75,272.81 L615.22,272.78 L615.69,272.74 L616.16,272.71 L616.62,272.68 L617.09,272.65 L617.56,272.62 L618.03,272.59 L618.5,272.59 L618.96,272.61 L619.43,272.63 L619.9,272.66 L620.37,272.68 L620.84,272.7 L621.3,272.72 L621.77,272.75 L622.24,272.77 L622.71,272.79 L623.18,272.81 L623.64,272.83 L624.11,272.85 L624.58,272.87 L625.05,272.89 L625.52,272.91 L625.98,272.93 L626.45,272.95 L626.92,272.97 L627.39,272.99 L627.86,273.01 L628.32,273.03 L628.79,273.05 L629.26,273.07 L629.73,273.09 L630.2,273.11 L630.66,273.13 L631.13,273.14 L631.6,273.16 L632.07,273.18 L632.54,273.2 L633,273.21 L633.47,273.23 L633.94,273.25 L634.41,273.27 L634.88,273.28 L635.34,273.3 L635.81,273.32 L636.28,273.33 L636.75,273.35 L637.22,273.37 L637.68,273.38 L638.15,273.4 L638.62,273.41 L639.09,273.43 L639.56,273.44 L640.02,273.46 L640.49,273.47 L640.96,273.49 L641.43,273.5 L641.9,273.52 L642.36,273.53 L642.83,273.55 L643.3,273.56 L643.77,273.58 L644.24,273.59 L644.7,273.6 L645.17,273.62 L645.64,273.63 L646.11,273.64 L646.58,273.66 L647.04,273.67 L647.51,273.68 L647.98,273.7 L648.45,273.71 L648.92,273.72 L649.38,273.74 L649.85,273.75 L650.32,273.76 L650.79,273.77 L651.26,273.79 L651.72,273.8 L652.19,273.81 L652.66,273.82 L653.13,273.83 L653.6,273.84 L654.06,273.86 L654.53,273.87 L655,273.88 L655.47,273.89 L655.94,273.9 L656.4,273.91 L656.87,273.92 L657.34,273.93 L657.81,273.94 L658.28,273.95 L658.74,273.97 L659.21,273.98 L659.68,273.99 L660.15,274 L660.62,274.01 L661.08,274.02 L661.55,274.03 L662.02,274.04 L662.49,274.05 L662.96,274.06 L663.42,274.07 L663.89,274.07 L664.36,274.08 L664.83,274.09 L665.3,274.1 L665.76,274.11 L666.23,274.12 L666.7,274.13 L667.17,274.14 L667.64,274.15 L668.1,274.16 L668.57,274.16 L669.04,274.17 L669.51,274.18 L669.98,274.19 L670.44,274.2 L670.91,274.21 L671.38,274.21 L671.85,274.22 L672.32,274.23 L672.78,274.24 L673.25,274.25 L673.72,274.25 L674.19,274.26 L674.66,274.27 L675.12,274.28 L675.59,274.28 L676.06,274.29 L676.53,274.3 L677,274.31 L677.46,274.31 L677.93,274.32 L678.4,274.33" fill="none" stroke="#a4c0a0" stroke-width="1.5"/>
<path d="M538,293.87 L538.47,293.9 L538.94,293.93 L539.4,293.95 L539.87,293.97 L540.34,293.99 L540.81,294.01 L541.28,294.03 L541.74,294.04 L542.21,294.06 L542.68,294.08 L543.15,294.09 L543.62,294.1 L544.08,294.12 L544.55,294.13 L545.02,294.14 L545.49,294.15 L545.96,294.16 L546.42,294.17 L546.89,294.18 L547.36,294.19 L547.83,294.2 L548.3,294.2 L548.76,294.21 L549.23,294.22 L549.7,294.23 L550.17,294.23 L550.64,294.24 L551.1,294.24 L551.57,294.25 L552.04,294.26 L552.51,294.26 L552.98,294.27 L553.44,294.27 L553.91,294.28 L554.38,294.28 L554.85,294.29 L555.32,294.29 L555.78,294.29 L556.25,294.3 L556.72,294.3 L557.19,294.3 L557.66,294.31 L558.12,294.14 L558.59,292.99 L559.06,291.86 L559.53,290.76 L560,289.68 L560.46,288.63 L560.93,287.6 L561.4,286.6 L561.87,285.62 L562.34,284.66 L562.8,283.72 L563.27,282.81 L563.74,281.91 L564.21,281.04 L564.68,280.19 L565.14,279.35 L565.61,278.54 L566.08,277.74 L566.55,276.97 L567.02,276.21 L567.48,275.47 L567.95,274.74 L568.42,274.04 L568.89,273.34 L569.36,272.67 L569.82,272.01 L570.29,271.36 L570.76,270.73 L571.23,270.12 L571.7,269.52 L572.16,268.93 L572.63,268.36 L573.1,267.8 L573.57,267.25 L574.04,266.71 L574.5,266.19 L574.97,265.68 L575.44,265.18 L575.91,264.7 L576.38,264.22 L576.84,263.76 L577.31,263.3 L577.78,262.86 L578.25,262.42 L578.72,262 L579.18,261.59 L579.65,261.18 L580.12,260.79 L580.59,260.4 L581.06,260.02 L581.52,259.66 L581.99,259.3 L582.46,258.95 L582.93,258.6 L583.4,258.27 L583.86,257.94 L584.33,257.62 L584.8,257.31 L585.27,257 L585.74,256.7 L586.2,256.41 L586.67,256.13 L587.14,255.85 L587.61,255.58 L588.08,255.31 L588.54,255.05 L589.01,254.8 L589.48,254.55 L589.95,254.31 L590.42,254.07 L590.88,253.84 L591.35,253.62 L591.82,253.39 L592.29,253.18 L592.76,252.97 L593.22,252.76 L593.69,252.56 L594.16,252.37 L594.63,252.18 L595.1,251.99 L595.56,251.81 L596.03,251.63 L596.5,251.45 L596.97,251.28 L597.44,251.12 L597.9,250.95 L598.37,250.79 L598.84,250.64 L599.31,250.49 L599.78,250.34 L600.24,250.19 L600.71,250.05 L601.18,249.91 L601.65,249.78 L602.12,249.65 L602.58,249.52 L603.05,249.39 L603.52,249.27 L603.99,249.15 L604.46,249.03 L604.92,248.92 L605.39,248.81 L605.86,248.7 L606.33,248.59 L606.8,248.48 L607.26,248.38 L607.73,248.28 L608.2,248.19 L608.67,248.09 L609.14,248 L609.6,247.91 L610.07,247.82 L610.54,247.73 L611.01,247.65 L611.48,247.56 L611.94,247.48 L612.41,247.4 L612.88,247.33 L613.35,247.25 L613.82,247.18 L614.28,247.11 L614.75,247.04 L615.22,246.97 L615.69,246.9 L616.16,246.83 L616.62,246.77 L617.09,246.71 L617.56,246.65 L618.03,246.59 L618.5,246.59 L618.96,246.63 L619.43,246.68 L619.9,246.72 L620.37,246.77 L620.84,246.81 L621.3,246.86 L621.77,246.9 L622.24,246.94 L622.71,246.98 L623.18,247.03 L623.64,247.07 L624.11,247.11 L624.58,247.15 L625.05,247.19 L625.52,247.23 L625.98,247.27 L626.45,247.31 L626.92,247.35 L627.39,247.39 L627.86,247.42 L628.32,247.46 L628.79,247.5 L629.26,247.54 L629.73,247.57 L630.2,247.61 L630.66,247.64 L631.13,247.68 L631.6,247.72 L632.07,247.75 L632.54,247.79 L633,247.82 L633.47,247.85 L633.94,247.89 L634.41,247.92 L634.88,247.95 L635.34,247.99 L635.81,248.02 L636.28,248.05 L636.75,248.08 L637.22,248.12 L637.68,248.15 L638.15,248.18 L638.62,248.21 L639.09,248.24 L639.56,248.27 L640.02,248.3 L640.49,248.33 L640.96,248.36 L641.43,248.39 L641.9,248.42 L642.36,248.44 L642.83,248.47 L643.3,248.5 L643.77,248.53 L644.24,248.56 L644.7,248.58 L645.17,248.61 L645.64,248.64 L646.11,248.66 L646.58,248.69 L647.04,248.72 L647.51,248.74 L647.98,248.77 L648.45,248.79 L648.92,248.82 L649.38,248.84 L649.85,248.87 L650.32,248.89 L650.79,248.92 L651.26,248.94 L651.72,248.96 L652.19,248.99 L652.66,249.01 L653.13,249.03 L653.6,249.06 L654.06,249.08 L654.53,249.1 L655,249.12 L655.47,249.14 L655.94,249.17 L656.4,249.19 L656.87,249.21 L657.34,249.23 L657.81,249.25 L658.28,249.27 L658.74,249.29 L659.21,249.31 L659.68,249.33 L660.15,249.35 L660.62,249.37 L661.08,249.39 L661.55,249.41 L662.02,249.43 L662.49,249.45 L662.96,249.47 L663.42,249.49 L663.89,249.51 L664.36,249.53 L664.83,249.54 L665.3,249.56 L665.76,249.58 L666.23,249.6 L666.7,249.62 L667.17,249.63 L667.64,249.65 L668.1,249.67 L668.57,249.68 L669.04,249.7 L669.51,249.72 L669.98,249.73 L670.44,249.75 L670.91,249.77 L671.38,249.78 L671.85,249.8 L672.32,249.81 L672.78,249.83 L673.25,249.84 L673.72,249.86 L674.19,249.88 L674.66,249.89 L675.12,249.91 L675.59,249.92 L676.06,249.93 L676.53,249.95 L677,249.96 L677.46,249.98 L677.93,249.99 L678.4,250.01" fill="none" stroke="#f07cf0" stroke-width="1.5"/>
<path d="M538,295.18 L538.47,295.13 L538.94,295.08 L539.4,295.03 L539.87,294.99 L540.34,294.95 L540.81,294.91 L541.28,294.88 L541.74,294.84 L542.21,294.81 L542.68,294.78 L543.15,294.75 L543.62,294.73 L544.08,294.7 L544.55,294.68 L545.02,294.65 L545.49,294.63 L545.96,294.61 L546.42,294.59 L546.89,294.57 L547.36,294.56 L547.83,294.54 L548.3,294.52 L548.76,294.51 L549.23,294.49 L549.7,294.48 L550.17,294.47 L550.64,294.45 L551.1,294.44 L551.57,294.43 L552.04,294.42 L552.51,294.41 L552.98,294.4 L553.44,294.39 L553.91,294.38 L554.38,294.37 L554.85,294.36 L555.32,294.35 L555.78,294.35 L556.25,294.34 L556.72,294.33 L557.19,294.32 L557.66,294.32 L558.12,294.09 L558.59,292.53 L559.06,291.01 L559.53,289.52 L560,288.07 L560.46,286.65 L560.93,285.26 L561.4,283.91 L561.87,282.58 L562.34,281.29 L562.8,280.02 L563.27,278.78 L563.74,277.57 L564.21,276.39 L564.68,275.23 L565.14,274.1 L565.61,273 L566.08,271.92 L566.55,270.87 L567.02,269.84 L567.48,268.83 L567.95,267.84 L568.42,266.88 L568.89,265.94 L569.36,265.02 L569.82,264.12 L570.29,263.24 L570.76,262.39 L571.23,261.55 L571.7,260.73 L572.16,259.93 L572.63,259.14 L573.1,258.38 L573.57,257.63 L574.04,256.9 L574.5,256.18 L574.97,255.48 L575.44,254.8 L575.91,254.13 L576.38,253.48 L576.84,252.84 L577.31,252.22 L577.78,251.61 L578.25,251.01 L578.72,250.43 L579.18,249.86 L579.65,249.31 L580.12,248.76 L580.59,248.23 L581.06,247.71 L581.52,247.21 L581.99,246.71 L582.46,246.23 L582.93,245.75 L583.4,245.29 L583.86,244.84 L584.33,244.39 L584.8,243.96 L585.27,243.54 L585.74,243.13 L586.2,242.72 L586.67,242.33 L587.14,241.94 L587.61,241.57 L588.08,241.2 L588.54,240.84 L589.01,240.49 L589.48,240.14 L589.95,239.81 L590.42,239.48 L590.88,239.16 L591.35,238.84 L591.82,238.54 L592.29,238.24 L592.76,237.94 L593.22,237.66 L593.69,237.38 L594.16,237.1 L594.63,236.83 L595.1,236.57 L595.56,236.32 L596.03,236.07 L596.5,235.82 L596.97,235.59 L597.44,235.35 L597.9,235.12 L598.37,234.9 L598.84,234.68 L599.31,234.47 L599.78,234.26 L600.24,234.06 L600.71,233.86 L601.18,233.67 L601.65,233.48 L602.12,233.29 L602.58,233.11 L603.05,232.93 L603.52,232.76 L603.99,232.59 L604.46,232.43 L604.92,232.26 L605.39,232.11 L605.86,231.95 L606.33,231.8 L606.8,231.65 L607.26,231.51 L607.73,231.37 L608.2,231.23 L608.67,231.09 L609.14,230.96 L609.6,230.83 L610.07,230.71 L610.54,230.59 L611.01,230.47 L611.48,230.35 L611.94,230.23 L612.41,230.12 L612.88,230.01 L613.35,229.9 L613.82,229.8 L614.28,229.7 L614.75,229.6 L615.22,229.5 L615.69,229.4 L616.16,229.31 L616.62,229.22 L617.09,229.13 L617.56,229.04 L618.03,228.96 L618.5,228.96 L618.96,229.02 L619.43,229.08 L619.9,229.15 L620.37,229.21 L620.84,229.27 L621.3,229.33 L621.77,229.39 L622.24,229.45 L622.71,229.51 L623.18,229.56 L623.64,229.62 L624.11,229.68 L624.58,229.73 L625.05,229.79 L625.52,229.85 L625.98,229.9 L626.45,229.96 L626.92,230.01 L627.39,230.06 L627.86,230.12 L628.32,230.17 L628.79,230.22 L629.26,230.27 L629.73,230.32 L630.2,230.37 L630.66,230.42 L631.13,230.47 L631.6,230.52 L632.07,230.57 L632.54,230.62 L633,230.67 L633.47,230.71 L633.94,230.76 L634.41,230.81 L634.88,230.85 L635.34,230.9 L635.81,230.94 L636.28,230.99 L636.75,231.03 L637.22,231.08 L637.68,231.12 L638.15,231.16 L638.62,231.21 L639.09,231.25 L639.56,231.29 L640.02,231.33 L640.49,231.37 L640.96,231.41 L641.43,231.45 L641.9,231.49 L642.36,231.53 L642.83,231.57 L643.3,231.61 L643.77,231.65 L644.24,231.69 L644.7,231.73 L645.17,231.76 L645.64,231.8 L646.11,231.84 L646.58,231.87 L647.04,231.91 L647.51,231.95 L647.98,231.98 L648.45,232.02 L648.92,232.05 L649.38,232.09 L649.85,232.12 L650.32,232.15 L650.79,232.19 L651.26,232.22 L651.72,232.25 L652.19,232.29 L652.66,232.32 L653.13,232.35 L653.6,232.38 L654.06,232.41 L654.53,232.44 L655,232.47 L655.47,232.51 L655.94,232.54 L656.4,232.57 L656.87,232.6 L657.34,232.62 L657.81,232.65 L658.28,232.68 L658.74,232.71 L659.21,232.74 L659.68,232.77 L660.15,232.8 L660.62,232.82 L661.08,232.85 L661.55,232.88 L662.02,232.9 L662.49,232.93 L662.96,232.96 L663.42,232.98 L663.89,233.01 L664.36,233.03 L664.83,233.06 L665.3,233.08 L665.76,233.11 L666.23,233.13 L666.7,233.16 L667.17,233.18 L667.64,233.21 L668.1,233.23 L668.57,233.25 L669.04,233.28 L669.51,233.3 L669.98,233.32 L670.44,233.35 L670.91,233.37 L671.38,233.39 L671.85,233.41 L672.32,233.43 L672.78,233.46 L673.25,233.48 L673.72,233.5 L674.19,233.52 L674.66,233.54 L675.12,233.56 L675.59,233.58 L676.06,233.6 L676.53,233.62 L677,233.64 L677.46,233.66 L677.93,233.68 L678.4,233.7" fill="none" stroke="#4a70e0" stroke-width="1.5"/>
<path d="M538,292.56 L538.47,292.67 L538.94,292.77 L539.4,292.86 L539.87,292.95 L540.34,293.03 L540.81,293.11 L541.28,293.18 L541.74,293.25 L542.21,293.31 L542.68,293.37 L543.15,293.43 L543.62,293.48 L544.08,293.53 L544.55,293.58 L545.02,293.62 L545.49,293.67 L545.96,293.71 L546.42,293.75 L546.89,293.78 L547.36,293.82 L547.83,293.85 L548.3,293.88 L548.76,293.91 L549.23,293.94 L549.7,293.97 L550.17,294 L550.64,294.02 L551.1,294.05 L551.57,294.07 L552.04,294.09 L552.51,294.11 L552.98,294.14 L553.44,294.16 L553.91,294.17 L554.38,294.19 L554.85,294.21 L555.32,294.23 L555.78,294.24 L556.25,294.26 L556.72,294.27 L557.19,294.28 L557.66,294.29 L558.12,293.92 L558.59,291.24 L559.06,288.63 L559.53,286.09 L560,283.63 L560.46,281.23 L560.93,278.9 L561.4,276.63 L561.87,274.43 L562.34,272.28 L562.8,270.2 L563.27,268.17 L563.74,266.2 L564.21,264.28 L564.68,262.42 L565.14,260.61 L565.61,258.84 L566.08,257.13 L566.55,255.46 L567.02,253.84 L567.48,252.27 L567.95,250.74 L568.42,249.25 L568.89,247.8 L569.36,246.39 L569.82,245.02 L570.29,243.69 L570.76,242.39 L571.23,241.13 L571.7,239.91 L572.16,238.72 L572.63,237.56 L573.1,236.43 L573.57,235.34 L574.04,234.27 L574.5,233.24 L574.97,232.23 L575.44,231.25 L575.91,230.3 L576.38,229.38 L576.84,228.48 L577.31,227.6 L577.78,226.75 L578.25,225.92 L578.72,225.12 L579.18,224.34 L579.65,223.58 L580.12,222.84 L580.59,222.12 L581.06,221.42 L581.52,220.74 L581.99,220.08 L582.46,219.43 L582.93,218.81 L583.4,218.2 L583.86,217.61 L584.33,217.03 L584.8,216.47 L585.27,215.93 L585.74,215.4 L586.2,214.89 L586.67,214.39 L587.14,213.9 L587.61,213.43 L588.08,212.97 L588.54,212.52 L589.01,212.09 L589.48,211.66 L589.95,211.25 L590.42,210.85 L590.88,210.47 L591.35,210.09 L591.82,209.72 L592.29,209.36 L592.76,209.02 L593.22,208.68 L593.69,208.35 L594.16,208.03 L594.63,207.72 L595.1,207.42 L595.56,207.12 L596.03,206.84 L596.5,206.56 L596.97,206.29 L597.44,206.03 L597.9,205.77 L598.37,205.52 L598.84,205.28 L599.31,205.05 L599.78,204.82 L600.24,204.6 L600.71,204.38 L601.18,204.17 L601.65,203.97 L602.12,203.77 L602.58,203.58 L603.05,203.39 L603.52,203.21 L603.99,203.03 L604.46,202.86 L604.92,202.69 L605.39,202.53 L605.86,202.37 L606.33,202.21 L606.8,202.06 L607.26,201.92 L607.73,201.78 L608.2,201.64 L608.67,201.5 L609.14,201.37 L609.6,201.25 L610.07,201.12 L610.54,201 L611.01,200.89 L611.48,200.77 L611.94,200.66 L612.41,200.56 L612.88,200.45 L613.35,200.35 L613.82,200.25 L614.28,200.16 L614.75,200.06 L615.22,199.97 L615.69,199.88 L616.16,199.8 L616.62,199.72 L617.09,199.63 L617.56,199.56 L618.03,199.48 L618.5,199.5 L618.96,199.6 L619.43,199.69 L619.9,199.79 L620.37,199.88 L620.84,199.97 L621.3,200.06 L621.77,200.15 L622.24,200.24 L622.71,200.33 L623.18,200.42 L623.64,200.5 L624.11,200.59 L624.58,200.67 L625.05,200.75 L625.52,200.83 L625.98,200.91 L626.45,200.99 L626.92,201.07 L627.39,201.15 L627.86,201.23 L628.32,201.3 L628.79,201.38 L629.26,201.45 L629.73,201.53 L630.2,201.6 L630.66,201.67 L631.13,201.74 L631.6,201.81 L632.07,201.88 L632.54,201.95 L633,202.02 L633.47,202.09 L633.94,202.15 L634.41,202.22 L634.88,202.28 L635.34,202.35 L635.81,202.41 L636.28,202.47 L636.75,202.53 L637.22,202.59 L637.68,202.65 L638.15,202.71 L638.62,202.77 L639.09,202.83 L639.56,202.89 L640.02,202.95 L640.49,203 L640.96,203.06 L641.43,203.11 L641.9,203.17 L642.36,203.22 L642.83,203.27 L643.3,203.33 L643.77,203.38 L644.24,203.43 L644.7,203.48 L645.17,203.53 L645.64,203.58 L646.11,203.63 L646.58,203.68 L647.04,203.72 L647.51,203.77 L647.98,203.82 L648.45,203.86 L648.92,203.91 L649.38,203.95 L649.85,204 L650.32,204.04 L650.79,204.09 L651.26,204.13 L651.72,204.17 L652.19,204.21 L652.66,204.26 L653.13,204.3 L653.6,204.34 L654.06,204.38 L654.53,204.42 L655,204.46 L655.47,204.5 L655.94,204.53 L656.4,204.57 L656.87,204.61 L657.34,204.65 L657.81,204.68 L658.28,204.72 L658.74,204.75 L659.21,204.79 L659.68,204.82 L660.15,204.86 L660.62,204.89 L661.08,204.93 L661.55,204.96 L662.02,204.99 L662.49,205.02 L662.96,205.06 L663.42,205.09 L663.89,205.12 L664.36,205.15 L664.83,205.18 L665.3,205.21 L665.76,205.24 L666.23,205.27 L666.7,205.3 L667.17,205.33 L667.64,205.36 L668.1,205.39 L668.57,205.41 L669.04,205.44 L669.51,205.47 L669.98,205.5 L670.44,205.52 L670.91,205.55 L671.38,205.58 L671.85,205.6 L672.32,205.63 L672.78,205.65 L673.25,205.68 L673.72,205.7 L674.19,205.73 L674.66,205.75 L675.12,205.77 L675.59,205.8 L676.06,205.82 L676.53,205.84 L677,205.86 L677.46,205.89 L677.93,205.91 L678.4,205.93" fill="none" stroke="#3cf02c" stroke-width="1.5"/>
</g>
<rect x="538" y="162.7" width="140.4" height="140" fill="none" stroke="#333" stroke-width="1.0"/>
<text x="661.3" y="180.7" font-size="19.5" text-anchor="start" fill="#000">H</text>
<text x="640.9" y="295.5" font-size="7.45" text-anchor="start" fill="#222">NB_28F6</text>
<line x1="545" y1="174" x2="550.7" y2="174" stroke="#a0bca0" stroke-width="1.4"/>
<text x="553.8" y="176" font-size="5.8" text-anchor="start" fill="#222">15.8 nM</text>
<line x1="545" y1="181.87" x2="550.7" y2="181.87" stroke="#f080f0" stroke-width="1.4"/>
<text x="553.8" y="183.87" font-size="5.8" text-anchor="start" fill="#222">23.7 nM</text>
<line x1="545" y1="189.74" x2="550.7" y2="189.74" stroke="#4a70e0" stroke-width="1.4"/>
<text x="553.8" y="191.74" font-size="5.8" text-anchor="start" fill="#222">35.5 nM</text>
<line x1="545" y1="197.61" x2="550.7" y2="197.61" stroke="#3ee82a" stroke-width="1.4"/>
<text x="553.8" y="199.61" font-size="5.8" text-anchor="start" fill="#222">53.3 nM</text>
<line x1="545" y1="205.48" x2="550.7" y2="205.48" stroke="#666" stroke-width="0.9"/>
<text x="553.8" y="207.48" font-size="5.8" text-anchor="start" fill="#222">Global fitting</text>
<text x="129.5" y="325.9" font-size="12.1" text-anchor="start" fill="#111">Elution time (min)</text>
<text x="9.6" y="208.5" font-size="12.1" fill="#111" transform="rotate(-90 9.6 208.5)">Absorbance at 280</text>
<text x="354.5" y="180.8" font-size="11.6" fill="#111" transform="rotate(-90 354.5 180.8)">Binding (nm)</text>
<text x="500.2" y="325.1" font-size="11.15" text-anchor="start" fill="#111">Time (sec)</text></svg>
</body></html>
